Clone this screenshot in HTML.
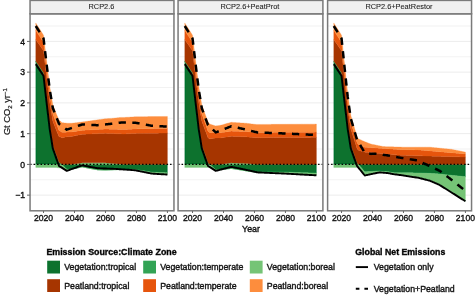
<!DOCTYPE html><html><head><meta charset="utf-8"><style>html,body{margin:0;padding:0;background:#fff;width:475px;height:297px;overflow:hidden}svg{display:block}text{font-family:"Liberation Sans",sans-serif;stroke:#111;stroke-width:0.38px}</style></head><body>
<svg width="475" height="297" viewBox="0 0 475 297">
<defs><filter id="bl" x="-5%" y="-5%" width="110%" height="110%"><feGaussianBlur stdDeviation="0.6"/></filter></defs>
<g filter="url(#bl)">
<rect width="475" height="297" fill="#fff"/>
<line x1="30.05" x2="173.96" y1="210.53" y2="210.53" stroke="#ececec" stroke-width="0.7"/>
<line x1="30.05" x2="173.96" y1="195.15" y2="195.15" stroke="#ececec" stroke-width="1.0"/>
<line x1="30.05" x2="173.96" y1="179.78" y2="179.78" stroke="#ececec" stroke-width="0.7"/>
<line x1="30.05" x2="173.96" y1="164.40" y2="164.40" stroke="#ececec" stroke-width="1.0"/>
<line x1="30.05" x2="173.96" y1="149.03" y2="149.03" stroke="#ececec" stroke-width="0.7"/>
<line x1="30.05" x2="173.96" y1="133.65" y2="133.65" stroke="#ececec" stroke-width="1.0"/>
<line x1="30.05" x2="173.96" y1="118.28" y2="118.28" stroke="#ececec" stroke-width="0.7"/>
<line x1="30.05" x2="173.96" y1="102.90" y2="102.90" stroke="#ececec" stroke-width="1.0"/>
<line x1="30.05" x2="173.96" y1="87.53" y2="87.53" stroke="#ececec" stroke-width="0.7"/>
<line x1="30.05" x2="173.96" y1="72.15" y2="72.15" stroke="#ececec" stroke-width="1.0"/>
<line x1="30.05" x2="173.96" y1="56.78" y2="56.78" stroke="#ececec" stroke-width="0.7"/>
<line x1="30.05" x2="173.96" y1="41.40" y2="41.40" stroke="#ececec" stroke-width="1.0"/>
<line x1="30.05" x2="173.96" y1="26.03" y2="26.03" stroke="#ececec" stroke-width="0.7"/>
<polygon points="35.78,61.08 36.56,62.25 37.33,63.42 38.10,64.59 38.88,65.75 39.65,66.92 40.43,68.09 41.20,69.26 41.98,70.43 42.75,71.60 43.53,72.77 44.30,79.53 45.07,86.30 45.85,93.06 46.62,99.83 47.40,106.36 48.17,112.89 48.95,119.43 49.72,125.96 50.49,130.81 51.27,135.65 52.04,140.49 52.82,145.34 53.59,147.53 54.37,149.72 55.14,151.91 55.91,154.10 56.69,156.19 57.46,158.28 58.24,160.36 59.01,162.45 59.79,162.84 60.56,163.23 61.33,163.99 62.11,164.40 62.88,164.40 63.66,164.40 64.43,164.40 65.21,164.40 65.98,164.40 66.76,164.40 67.53,164.40 68.30,164.40 69.08,164.40 69.85,164.40 70.63,164.40 71.40,164.40 72.18,164.40 72.95,164.40 73.72,164.40 74.50,164.40 75.27,164.40 76.05,164.40 76.82,164.40 77.60,164.40 78.37,164.40 79.14,164.40 79.92,164.40 80.69,164.40 81.47,164.40 82.24,164.40 83.02,164.40 83.79,164.40 84.56,164.40 85.34,164.40 86.11,164.40 86.89,164.40 87.66,164.40 88.44,164.40 89.21,164.40 89.99,164.40 90.76,164.40 91.53,164.40 92.31,164.40 93.08,164.40 93.86,164.40 94.63,164.40 95.41,164.40 96.18,164.40 96.95,164.40 97.73,164.40 98.50,164.40 99.28,164.40 100.05,164.40 100.83,164.40 101.60,164.40 102.37,164.40 103.15,164.40 103.92,164.40 104.70,164.40 105.47,164.40 106.25,164.40 107.02,164.40 107.79,164.40 108.57,164.40 109.34,164.40 110.12,164.40 110.89,164.40 111.67,164.40 112.44,164.40 113.21,164.40 113.99,164.40 114.76,164.40 115.54,164.40 116.31,164.40 117.09,164.40 117.86,164.40 118.64,164.40 119.41,164.40 120.18,164.40 120.96,164.40 121.73,164.40 122.51,164.40 123.28,164.40 124.06,164.40 124.83,164.40 125.60,164.40 126.38,164.40 127.15,164.40 127.93,164.40 128.70,164.40 129.48,164.40 130.25,164.40 131.02,164.40 131.80,164.40 132.57,164.40 133.35,164.40 134.12,164.40 134.90,164.40 135.67,164.40 136.44,164.40 137.22,164.40 137.99,164.40 138.77,164.40 139.54,164.40 140.32,164.40 141.09,164.40 141.87,164.40 142.64,164.40 143.41,164.40 144.19,164.40 144.96,164.40 145.74,164.40 146.51,164.40 147.29,164.40 148.06,164.40 148.83,164.40 149.61,164.40 150.38,164.40 151.16,164.40 151.93,164.40 152.71,164.40 153.48,164.40 154.25,164.40 155.03,164.40 155.80,164.40 156.58,164.40 157.35,164.40 158.13,164.40 158.90,164.40 159.67,164.40 160.45,164.40 161.22,164.40 162.00,164.40 162.77,164.40 163.55,164.40 164.32,164.40 165.10,164.40 165.87,164.40 166.64,164.40 167.42,164.40 167.42,164.40 166.64,164.40 165.87,164.40 165.10,164.40 164.32,164.40 163.55,164.40 162.77,164.40 162.00,164.40 161.22,164.40 160.45,164.40 159.67,164.40 158.90,164.40 158.13,164.40 157.35,164.40 156.58,164.40 155.80,164.40 155.03,164.40 154.25,164.40 153.48,164.40 152.71,164.40 151.93,164.40 151.16,164.40 150.38,164.40 149.61,164.40 148.83,164.40 148.06,164.40 147.29,164.40 146.51,164.40 145.74,164.40 144.96,164.40 144.19,164.40 143.41,164.40 142.64,164.40 141.87,164.40 141.09,164.40 140.32,164.40 139.54,164.40 138.77,164.40 137.99,164.40 137.22,164.40 136.44,164.40 135.67,164.40 134.90,164.40 134.12,164.40 133.35,164.40 132.57,164.40 131.80,164.40 131.02,164.40 130.25,164.40 129.48,164.40 128.70,164.40 127.93,164.40 127.15,164.40 126.38,164.40 125.60,164.40 124.83,164.40 124.06,164.40 123.28,164.40 122.51,164.40 121.73,164.40 120.96,164.40 120.18,164.40 119.41,164.40 118.64,164.40 117.86,164.40 117.09,164.40 116.31,164.40 115.54,164.40 114.76,164.40 113.99,164.40 113.21,164.40 112.44,164.40 111.67,164.40 110.89,164.40 110.12,164.40 109.34,164.40 108.57,164.40 107.79,164.40 107.02,164.40 106.25,164.40 105.47,164.40 104.70,164.40 103.92,164.40 103.15,164.40 102.37,164.40 101.60,164.40 100.83,164.40 100.05,164.40 99.28,164.40 98.50,164.40 97.73,164.40 96.95,164.40 96.18,164.40 95.41,164.40 94.63,164.40 93.86,164.40 93.08,164.40 92.31,164.40 91.53,164.40 90.76,164.40 89.99,164.40 89.21,164.40 88.44,164.40 87.66,164.40 86.89,164.40 86.11,164.40 85.34,164.40 84.56,164.40 83.79,164.40 83.02,164.40 82.24,164.40 81.47,164.40 80.69,164.40 79.92,164.40 79.14,164.40 78.37,164.40 77.60,164.40 76.82,164.40 76.05,164.40 75.27,164.40 74.50,164.40 73.72,164.40 72.95,164.40 72.18,164.40 71.40,164.40 70.63,164.40 69.85,164.40 69.08,164.40 68.30,164.40 67.53,164.40 66.76,164.40 65.98,164.40 65.21,164.40 64.43,164.40 63.66,164.40 62.88,164.40 62.11,164.40 61.33,164.40 60.56,164.40 59.79,164.40 59.01,164.40 58.24,164.40 57.46,164.40 56.69,164.40 55.91,164.40 55.14,164.40 54.37,164.40 53.59,164.40 52.82,164.40 52.04,164.40 51.27,164.40 50.49,164.40 49.72,164.40 48.95,164.40 48.17,164.40 47.40,164.40 46.62,164.40 45.85,164.40 45.07,164.40 44.30,164.40 43.53,164.40 42.75,164.40 41.98,164.40 41.20,164.40 40.43,164.40 39.65,164.40 38.88,164.40 38.10,164.40 37.33,164.40 36.56,164.40 35.78,164.40" fill="#07722f" stroke="#07722f" stroke-width="0.3"/>
<polygon points="35.78,164.40 36.56,164.40 37.33,164.40 38.10,164.40 38.88,164.40 39.65,164.40 40.43,164.40 41.20,164.40 41.98,164.40 42.75,164.40 43.53,164.40 44.30,164.40 45.07,164.40 45.85,164.40 46.62,164.40 47.40,164.40 48.17,164.40 48.95,164.40 49.72,164.40 50.49,164.40 51.27,164.40 52.04,164.40 52.82,164.40 53.59,164.40 54.37,164.40 55.14,164.40 55.91,164.40 56.69,164.40 57.46,164.40 58.24,164.40 59.01,164.40 59.79,164.40 60.56,164.40 61.33,164.40 62.11,164.40 62.88,164.40 63.66,164.40 64.43,164.40 65.21,164.40 65.98,164.40 66.76,164.40 67.53,164.40 68.30,164.40 69.08,164.40 69.85,164.40 70.63,164.40 71.40,164.40 72.18,164.40 72.95,164.40 73.72,164.40 74.50,164.40 75.27,164.40 76.05,164.40 76.82,164.40 77.60,164.40 78.37,164.40 79.14,164.40 79.92,164.40 80.69,164.40 81.47,164.40 82.24,164.40 83.02,164.40 83.79,164.40 84.56,164.40 85.34,164.40 86.11,164.40 86.89,164.40 87.66,164.40 88.44,164.40 89.21,164.40 89.99,164.40 90.76,164.40 91.53,164.40 92.31,164.40 93.08,164.40 93.86,164.40 94.63,164.40 95.41,164.40 96.18,164.40 96.95,164.40 97.73,164.40 98.50,164.40 99.28,164.40 100.05,164.40 100.83,164.40 101.60,164.40 102.37,164.40 103.15,164.40 103.92,164.40 104.70,164.40 105.47,164.40 106.25,164.40 107.02,164.40 107.79,164.40 108.57,164.40 109.34,164.40 110.12,164.40 110.89,164.40 111.67,164.40 112.44,164.40 113.21,164.40 113.99,164.40 114.76,164.40 115.54,164.40 116.31,164.40 117.09,164.40 117.86,164.40 118.64,164.40 119.41,164.40 120.18,164.40 120.96,164.40 121.73,164.40 122.51,164.40 123.28,164.40 124.06,164.40 124.83,164.40 125.60,164.40 126.38,164.40 127.15,164.40 127.93,164.40 128.70,164.40 129.48,164.40 130.25,164.40 131.02,164.40 131.80,164.40 132.57,164.40 133.35,164.40 134.12,164.40 134.90,164.40 135.67,164.40 136.44,164.40 137.22,164.40 137.99,164.40 138.77,164.40 139.54,164.40 140.32,164.40 141.09,164.40 141.87,164.40 142.64,164.40 143.41,164.40 144.19,164.40 144.96,164.40 145.74,164.40 146.51,164.40 147.29,164.40 148.06,164.40 148.83,164.40 149.61,164.40 150.38,164.40 151.16,164.40 151.93,164.40 152.71,164.40 153.48,164.40 154.25,164.40 155.03,164.40 155.80,164.40 156.58,164.40 157.35,164.40 158.13,164.40 158.90,164.40 159.67,164.40 160.45,164.40 161.22,164.40 162.00,164.40 162.77,164.40 163.55,164.40 164.32,164.40 165.10,164.40 165.87,164.40 166.64,164.40 167.42,164.40 167.42,172.70 166.64,172.68 165.87,172.65 165.10,172.63 164.32,172.60 163.55,172.57 162.77,172.55 162.00,172.52 161.22,172.50 160.45,172.47 159.67,172.45 158.90,172.42 158.13,172.40 157.35,172.37 156.58,172.34 155.80,172.32 155.03,172.29 154.25,172.27 153.48,172.24 152.71,172.22 151.93,172.19 151.16,172.06 150.38,171.92 149.61,171.79 148.83,171.66 148.06,171.52 147.29,171.39 146.51,171.26 145.74,171.12 144.96,170.99 144.19,170.86 143.41,170.75 142.64,170.64 141.87,170.54 141.09,170.43 140.32,170.33 139.54,170.22 138.77,170.11 137.99,170.01 137.22,169.90 136.44,169.79 135.67,169.69 134.90,169.58 134.12,169.57 133.35,169.57 132.57,169.56 131.80,169.56 131.02,169.55 130.25,169.54 129.48,169.54 128.70,169.53 127.93,169.53 127.15,169.52 126.38,169.52 125.60,169.51 124.83,169.50 124.06,169.50 123.28,169.51 122.51,169.52 121.73,169.53 120.96,169.54 120.18,169.55 119.41,169.56 118.64,169.57 117.86,169.58 117.09,169.59 116.31,169.61 115.54,169.62 114.76,169.63 113.99,169.66 113.21,169.70 112.44,169.74 111.67,169.77 110.89,169.81 110.12,169.84 109.34,169.88 108.57,169.92 107.79,169.95 107.02,169.99 106.25,170.02 105.47,170.06 104.70,170.03 103.92,170.00 103.15,169.98 102.37,169.95 101.60,169.92 100.83,169.89 100.05,169.87 99.28,169.84 98.50,169.81 97.73,169.78 96.95,169.64 96.18,169.50 95.41,169.37 94.63,169.23 93.86,169.09 93.08,168.95 92.31,168.81 91.53,168.67 90.76,168.54 89.99,168.40 89.21,168.24 88.44,168.09 87.66,167.94 86.89,167.78 86.11,167.63 85.34,167.47 84.56,167.32 83.79,167.17 83.02,167.01 82.24,166.86 81.47,167.03 80.69,167.19 79.92,167.36 79.14,167.53 78.37,167.69 77.60,167.86 76.82,168.03 76.05,168.20 75.27,168.36 74.50,168.53 73.72,168.70 72.95,168.86 72.18,169.03 71.40,169.20 70.63,169.21 69.85,169.22 69.08,169.24 68.30,169.25 67.53,169.26 66.76,169.28 65.98,168.52 65.21,167.76 64.43,167.01 63.66,166.25 62.88,165.50 62.11,164.74 61.33,164.40 60.56,164.40 59.79,164.40 59.01,164.40 58.24,164.40 57.46,164.40 56.69,164.40 55.91,164.40 55.14,164.40 54.37,164.40 53.59,164.40 52.82,164.40 52.04,164.40 51.27,164.40 50.49,164.40 49.72,164.40 48.95,164.40 48.17,164.40 47.40,164.40 46.62,164.40 45.85,164.40 45.07,164.40 44.30,164.40 43.53,164.40 42.75,164.40 41.98,164.40 41.20,164.40 40.43,164.40 39.65,164.40 38.88,164.40 38.10,164.40 37.33,164.40 36.56,164.40 35.78,164.40" fill="#07722f" stroke="#07722f" stroke-width="0.3"/>
<polygon points="35.78,61.08 36.56,62.25 37.33,63.42 38.10,64.59 38.88,65.75 39.65,66.92 40.43,68.09 41.20,69.26 41.98,70.43 42.75,71.60 43.53,72.77 44.30,79.53 45.07,86.30 45.85,93.06 46.62,99.83 47.40,106.36 48.17,112.89 48.95,119.43 49.72,125.96 50.49,130.81 51.27,135.65 52.04,140.49 52.82,145.34 53.59,147.53 54.37,149.72 55.14,151.91 55.91,154.10 56.69,156.19 57.46,158.28 58.24,160.36 59.01,162.45 59.79,162.84 60.56,163.23 61.33,163.99 62.11,164.40 62.88,164.40 63.66,164.40 64.43,164.40 65.21,164.40 65.98,164.40 66.76,164.40 67.53,164.40 68.30,164.40 69.08,164.40 69.85,164.40 70.63,164.40 71.40,164.40 72.18,164.40 72.95,164.40 73.72,164.40 74.50,164.40 75.27,164.40 76.05,164.40 76.82,164.40 77.60,164.40 78.37,164.40 79.14,164.40 79.92,164.40 80.69,164.40 81.47,164.40 82.24,164.40 83.02,164.40 83.79,164.40 84.56,164.40 85.34,164.40 86.11,164.40 86.89,164.40 87.66,164.40 88.44,164.40 89.21,164.40 89.99,164.40 90.76,164.40 91.53,164.40 92.31,164.40 93.08,164.40 93.86,164.40 94.63,164.40 95.41,164.40 96.18,164.40 96.95,164.40 97.73,164.40 98.50,164.40 99.28,164.40 100.05,164.40 100.83,164.40 101.60,164.40 102.37,164.40 103.15,164.40 103.92,164.40 104.70,164.40 105.47,164.40 106.25,164.40 107.02,164.40 107.79,164.40 108.57,164.40 109.34,164.40 110.12,164.40 110.89,164.40 111.67,164.40 112.44,164.40 113.21,164.40 113.99,164.40 114.76,164.40 115.54,164.40 116.31,164.40 117.09,164.40 117.86,164.40 118.64,164.40 119.41,164.40 120.18,164.40 120.96,164.40 121.73,164.40 122.51,164.40 123.28,164.40 124.06,164.40 124.83,164.40 125.60,164.40 126.38,164.40 127.15,164.40 127.93,164.40 128.70,164.40 129.48,164.40 130.25,164.40 131.02,164.40 131.80,164.40 132.57,164.40 133.35,164.40 134.12,164.40 134.90,164.40 135.67,164.40 136.44,164.40 137.22,164.40 137.99,164.40 138.77,164.40 139.54,164.40 140.32,164.40 141.09,164.40 141.87,164.40 142.64,164.40 143.41,164.40 144.19,164.40 144.96,164.40 145.74,164.40 146.51,164.40 147.29,164.40 148.06,164.40 148.83,164.40 149.61,164.40 150.38,164.40 151.16,164.40 151.93,164.40 152.71,164.40 153.48,164.40 154.25,164.40 155.03,164.40 155.80,164.40 156.58,164.40 157.35,164.40 158.13,164.40 158.90,164.40 159.67,164.40 160.45,164.40 161.22,164.40 162.00,164.40 162.77,164.40 163.55,164.40 164.32,164.40 165.10,164.40 165.87,164.40 166.64,164.40 167.42,164.40 167.42,164.40 166.64,164.40 165.87,164.40 165.10,164.40 164.32,164.40 163.55,164.40 162.77,164.40 162.00,164.40 161.22,164.40 160.45,164.40 159.67,164.40 158.90,164.40 158.13,164.40 157.35,164.40 156.58,164.40 155.80,164.40 155.03,164.40 154.25,164.40 153.48,164.40 152.71,164.40 151.93,164.40 151.16,164.40 150.38,164.40 149.61,164.40 148.83,164.40 148.06,164.40 147.29,164.40 146.51,164.40 145.74,164.40 144.96,164.40 144.19,164.40 143.41,164.40 142.64,164.40 141.87,164.40 141.09,164.40 140.32,164.40 139.54,164.40 138.77,164.40 137.99,164.40 137.22,164.40 136.44,164.40 135.67,164.40 134.90,164.40 134.12,164.40 133.35,164.40 132.57,164.40 131.80,164.40 131.02,164.40 130.25,164.40 129.48,164.40 128.70,164.40 127.93,164.40 127.15,164.40 126.38,164.40 125.60,164.40 124.83,164.40 124.06,164.40 123.28,164.40 122.51,164.40 121.73,164.40 120.96,164.40 120.18,164.40 119.41,164.40 118.64,164.40 117.86,164.40 117.09,164.40 116.31,164.40 115.54,164.40 114.76,164.40 113.99,164.40 113.21,164.40 112.44,164.40 111.67,164.40 110.89,164.40 110.12,164.40 109.34,164.40 108.57,164.40 107.79,164.40 107.02,164.40 106.25,164.40 105.47,164.40 104.70,164.40 103.92,164.40 103.15,164.40 102.37,164.40 101.60,164.40 100.83,164.40 100.05,164.40 99.28,164.40 98.50,164.40 97.73,164.40 96.95,164.40 96.18,164.40 95.41,164.40 94.63,164.40 93.86,164.40 93.08,164.40 92.31,164.40 91.53,164.40 90.76,164.40 89.99,164.40 89.21,164.40 88.44,164.40 87.66,164.40 86.89,164.40 86.11,164.40 85.34,164.40 84.56,164.40 83.79,164.40 83.02,164.40 82.24,164.40 81.47,164.40 80.69,164.40 79.92,164.40 79.14,164.40 78.37,164.40 77.60,164.40 76.82,164.40 76.05,164.40 75.27,164.40 74.50,164.40 73.72,164.40 72.95,164.40 72.18,164.40 71.40,164.40 70.63,164.40 69.85,164.40 69.08,164.40 68.30,164.40 67.53,164.40 66.76,164.40 65.98,164.40 65.21,164.40 64.43,164.40 63.66,164.40 62.88,164.40 62.11,164.40 61.33,163.99 60.56,163.23 59.79,162.84 59.01,162.45 58.24,160.36 57.46,158.28 56.69,156.19 55.91,154.10 55.14,151.91 54.37,149.72 53.59,147.53 52.82,145.34 52.04,140.49 51.27,135.65 50.49,130.81 49.72,125.96 48.95,119.43 48.17,112.89 47.40,106.36 46.62,99.83 45.85,93.06 45.07,86.30 44.30,79.53 43.53,72.77 42.75,71.60 41.98,70.43 41.20,69.26 40.43,68.09 39.65,66.92 38.88,65.75 38.10,64.59 37.33,63.42 36.56,62.25 35.78,61.08" fill="#31a354" stroke="#31a354" stroke-width="0.3"/>
<polygon points="35.78,164.40 36.56,164.40 37.33,164.40 38.10,164.40 38.88,164.40 39.65,164.40 40.43,164.40 41.20,164.40 41.98,164.40 42.75,164.40 43.53,164.40 44.30,164.40 45.07,164.40 45.85,164.40 46.62,164.40 47.40,164.40 48.17,164.40 48.95,164.40 49.72,164.40 50.49,164.40 51.27,164.40 52.04,164.40 52.82,164.40 53.59,164.40 54.37,164.40 55.14,164.40 55.91,164.40 56.69,164.40 57.46,164.40 58.24,164.40 59.01,164.40 59.79,164.40 60.56,164.40 61.33,164.40 62.11,164.74 62.88,165.50 63.66,166.25 64.43,167.01 65.21,167.76 65.98,168.52 66.76,169.28 67.53,169.26 68.30,169.25 69.08,169.24 69.85,169.22 70.63,169.21 71.40,169.20 72.18,169.03 72.95,168.86 73.72,168.70 74.50,168.53 75.27,168.36 76.05,168.20 76.82,168.03 77.60,167.86 78.37,167.69 79.14,167.53 79.92,167.36 80.69,167.19 81.47,167.03 82.24,166.86 83.02,167.01 83.79,167.17 84.56,167.32 85.34,167.47 86.11,167.63 86.89,167.78 87.66,167.94 88.44,168.09 89.21,168.24 89.99,168.40 90.76,168.54 91.53,168.67 92.31,168.81 93.08,168.95 93.86,169.09 94.63,169.23 95.41,169.37 96.18,169.50 96.95,169.64 97.73,169.78 98.50,169.81 99.28,169.84 100.05,169.87 100.83,169.89 101.60,169.92 102.37,169.95 103.15,169.98 103.92,170.00 104.70,170.03 105.47,170.06 106.25,170.02 107.02,169.99 107.79,169.95 108.57,169.92 109.34,169.88 110.12,169.84 110.89,169.81 111.67,169.77 112.44,169.74 113.21,169.70 113.99,169.66 114.76,169.63 115.54,169.62 116.31,169.61 117.09,169.59 117.86,169.58 118.64,169.57 119.41,169.56 120.18,169.55 120.96,169.54 121.73,169.53 122.51,169.52 123.28,169.51 124.06,169.50 124.83,169.50 125.60,169.51 126.38,169.52 127.15,169.52 127.93,169.53 128.70,169.53 129.48,169.54 130.25,169.54 131.02,169.55 131.80,169.56 132.57,169.56 133.35,169.57 134.12,169.57 134.90,169.58 135.67,169.69 136.44,169.79 137.22,169.90 137.99,170.01 138.77,170.11 139.54,170.22 140.32,170.33 141.09,170.43 141.87,170.54 142.64,170.64 143.41,170.75 144.19,170.86 144.96,170.99 145.74,171.12 146.51,171.26 147.29,171.39 148.06,171.52 148.83,171.66 149.61,171.79 150.38,171.92 151.16,172.06 151.93,172.19 152.71,172.22 153.48,172.24 154.25,172.27 155.03,172.29 155.80,172.32 156.58,172.34 157.35,172.37 158.13,172.40 158.90,172.42 159.67,172.45 160.45,172.47 161.22,172.50 162.00,172.52 162.77,172.55 163.55,172.57 164.32,172.60 165.10,172.63 165.87,172.65 166.64,172.68 167.42,172.70 167.42,172.70 166.64,172.68 165.87,172.65 165.10,172.63 164.32,172.60 163.55,172.57 162.77,172.55 162.00,172.52 161.22,172.50 160.45,172.47 159.67,172.45 158.90,172.42 158.13,172.40 157.35,172.37 156.58,172.34 155.80,172.32 155.03,172.29 154.25,172.27 153.48,172.24 152.71,172.22 151.93,172.19 151.16,172.06 150.38,171.92 149.61,171.79 148.83,171.66 148.06,171.52 147.29,171.39 146.51,171.26 145.74,171.12 144.96,170.99 144.19,170.86 143.41,170.75 142.64,170.64 141.87,170.54 141.09,170.43 140.32,170.33 139.54,170.22 138.77,170.11 137.99,170.01 137.22,169.90 136.44,169.79 135.67,169.69 134.90,169.58 134.12,169.57 133.35,169.57 132.57,169.56 131.80,169.56 131.02,169.55 130.25,169.54 129.48,169.54 128.70,169.53 127.93,169.53 127.15,169.52 126.38,169.52 125.60,169.51 124.83,169.50 124.06,169.50 123.28,169.51 122.51,169.52 121.73,169.53 120.96,169.54 120.18,169.55 119.41,169.56 118.64,169.57 117.86,169.58 117.09,169.59 116.31,169.61 115.54,169.62 114.76,169.63 113.99,169.66 113.21,169.70 112.44,169.74 111.67,169.77 110.89,169.81 110.12,169.84 109.34,169.88 108.57,169.92 107.79,169.95 107.02,169.99 106.25,170.02 105.47,170.06 104.70,170.03 103.92,170.00 103.15,169.98 102.37,169.95 101.60,169.92 100.83,169.89 100.05,169.87 99.28,169.84 98.50,169.81 97.73,169.78 96.95,169.64 96.18,169.50 95.41,169.37 94.63,169.23 93.86,169.09 93.08,168.95 92.31,168.81 91.53,168.67 90.76,168.54 89.99,168.40 89.21,168.24 88.44,168.09 87.66,167.94 86.89,167.78 86.11,167.63 85.34,167.47 84.56,167.32 83.79,167.17 83.02,167.01 82.24,166.86 81.47,167.03 80.69,167.19 79.92,167.36 79.14,167.53 78.37,167.69 77.60,167.86 76.82,168.03 76.05,168.20 75.27,168.36 74.50,168.53 73.72,168.70 72.95,168.86 72.18,169.03 71.40,169.20 70.63,169.21 69.85,169.22 69.08,169.24 68.30,169.25 67.53,169.26 66.76,169.28 65.98,168.52 65.21,167.76 64.43,167.01 63.66,166.25 62.88,165.50 62.11,164.74 61.33,164.40 60.56,164.40 59.79,164.40 59.01,164.40 58.24,164.40 57.46,164.40 56.69,164.40 55.91,164.40 55.14,164.40 54.37,164.40 53.59,164.40 52.82,164.40 52.04,164.40 51.27,164.40 50.49,164.40 49.72,164.40 48.95,164.40 48.17,164.40 47.40,164.40 46.62,164.40 45.85,164.40 45.07,164.40 44.30,164.40 43.53,164.40 42.75,164.40 41.98,164.40 41.20,164.40 40.43,164.40 39.65,164.40 38.88,164.40 38.10,164.40 37.33,164.40 36.56,164.40 35.78,164.40" fill="#31a354" stroke="#31a354" stroke-width="0.3"/>
<polygon points="35.78,61.08 36.56,62.25 37.33,63.42 38.10,64.59 38.88,65.75 39.65,66.92 40.43,68.09 41.20,69.26 41.98,70.43 42.75,71.60 43.53,72.77 44.30,79.53 45.07,86.30 45.85,93.06 46.62,99.83 47.40,106.36 48.17,112.89 48.95,119.43 49.72,125.96 50.49,130.81 51.27,135.65 52.04,140.49 52.82,145.34 53.59,147.53 54.37,149.72 55.14,151.91 55.91,154.10 56.69,156.19 57.46,158.28 58.24,160.36 59.01,162.45 59.79,162.84 60.56,163.23 61.33,163.99 62.11,164.40 62.88,164.40 63.66,164.40 64.43,164.40 65.21,164.40 65.98,164.40 66.76,164.40 67.53,164.40 68.30,164.40 69.08,164.40 69.85,164.40 70.63,164.40 71.40,164.40 72.18,164.29 72.95,164.18 73.72,164.07 74.50,163.96 75.27,163.85 76.05,163.74 76.82,163.63 77.60,163.52 78.37,163.41 79.14,163.30 79.92,163.19 80.69,163.08 81.47,162.97 82.24,162.86 83.02,162.86 83.79,162.86 84.56,162.86 85.34,162.86 86.11,162.86 86.89,162.86 87.66,162.86 88.44,162.86 89.21,162.86 89.99,162.86 90.76,162.86 91.53,162.86 92.31,162.86 93.08,162.86 93.86,162.86 94.63,162.86 95.41,162.86 96.18,162.86 96.95,162.86 97.73,162.86 98.50,162.86 99.28,162.86 100.05,162.86 100.83,162.86 101.60,162.86 102.37,162.86 103.15,162.86 103.92,162.86 104.70,162.86 105.47,162.86 106.25,162.93 107.02,162.99 107.79,163.05 108.57,163.12 109.34,163.18 110.12,163.25 110.89,163.31 111.67,163.38 112.44,163.44 113.21,163.50 113.99,163.57 114.76,163.63 115.54,163.70 116.31,163.76 117.09,163.82 117.86,163.89 118.64,163.95 119.41,164.02 120.18,164.08 120.96,164.14 121.73,164.21 122.51,164.27 123.28,164.34 124.06,164.40 124.83,164.40 125.60,164.40 126.38,164.40 127.15,164.40 127.93,164.40 128.70,164.40 129.48,164.40 130.25,164.40 131.02,164.40 131.80,164.40 132.57,164.40 133.35,164.40 134.12,164.40 134.90,164.40 135.67,164.40 136.44,164.40 137.22,164.40 137.99,164.40 138.77,164.40 139.54,164.40 140.32,164.40 141.09,164.40 141.87,164.40 142.64,164.40 143.41,164.40 144.19,164.40 144.96,164.40 145.74,164.40 146.51,164.40 147.29,164.40 148.06,164.40 148.83,164.40 149.61,164.40 150.38,164.40 151.16,164.40 151.93,164.40 152.71,164.40 153.48,164.40 154.25,164.40 155.03,164.40 155.80,164.40 156.58,164.40 157.35,164.40 158.13,164.40 158.90,164.40 159.67,164.40 160.45,164.40 161.22,164.40 162.00,164.40 162.77,164.40 163.55,164.40 164.32,164.40 165.10,164.40 165.87,164.40 166.64,164.40 167.42,164.40 167.42,164.40 166.64,164.40 165.87,164.40 165.10,164.40 164.32,164.40 163.55,164.40 162.77,164.40 162.00,164.40 161.22,164.40 160.45,164.40 159.67,164.40 158.90,164.40 158.13,164.40 157.35,164.40 156.58,164.40 155.80,164.40 155.03,164.40 154.25,164.40 153.48,164.40 152.71,164.40 151.93,164.40 151.16,164.40 150.38,164.40 149.61,164.40 148.83,164.40 148.06,164.40 147.29,164.40 146.51,164.40 145.74,164.40 144.96,164.40 144.19,164.40 143.41,164.40 142.64,164.40 141.87,164.40 141.09,164.40 140.32,164.40 139.54,164.40 138.77,164.40 137.99,164.40 137.22,164.40 136.44,164.40 135.67,164.40 134.90,164.40 134.12,164.40 133.35,164.40 132.57,164.40 131.80,164.40 131.02,164.40 130.25,164.40 129.48,164.40 128.70,164.40 127.93,164.40 127.15,164.40 126.38,164.40 125.60,164.40 124.83,164.40 124.06,164.40 123.28,164.40 122.51,164.40 121.73,164.40 120.96,164.40 120.18,164.40 119.41,164.40 118.64,164.40 117.86,164.40 117.09,164.40 116.31,164.40 115.54,164.40 114.76,164.40 113.99,164.40 113.21,164.40 112.44,164.40 111.67,164.40 110.89,164.40 110.12,164.40 109.34,164.40 108.57,164.40 107.79,164.40 107.02,164.40 106.25,164.40 105.47,164.40 104.70,164.40 103.92,164.40 103.15,164.40 102.37,164.40 101.60,164.40 100.83,164.40 100.05,164.40 99.28,164.40 98.50,164.40 97.73,164.40 96.95,164.40 96.18,164.40 95.41,164.40 94.63,164.40 93.86,164.40 93.08,164.40 92.31,164.40 91.53,164.40 90.76,164.40 89.99,164.40 89.21,164.40 88.44,164.40 87.66,164.40 86.89,164.40 86.11,164.40 85.34,164.40 84.56,164.40 83.79,164.40 83.02,164.40 82.24,164.40 81.47,164.40 80.69,164.40 79.92,164.40 79.14,164.40 78.37,164.40 77.60,164.40 76.82,164.40 76.05,164.40 75.27,164.40 74.50,164.40 73.72,164.40 72.95,164.40 72.18,164.40 71.40,164.40 70.63,164.40 69.85,164.40 69.08,164.40 68.30,164.40 67.53,164.40 66.76,164.40 65.98,164.40 65.21,164.40 64.43,164.40 63.66,164.40 62.88,164.40 62.11,164.40 61.33,163.99 60.56,163.23 59.79,162.84 59.01,162.45 58.24,160.36 57.46,158.28 56.69,156.19 55.91,154.10 55.14,151.91 54.37,149.72 53.59,147.53 52.82,145.34 52.04,140.49 51.27,135.65 50.49,130.81 49.72,125.96 48.95,119.43 48.17,112.89 47.40,106.36 46.62,99.83 45.85,93.06 45.07,86.30 44.30,79.53 43.53,72.77 42.75,71.60 41.98,70.43 41.20,69.26 40.43,68.09 39.65,66.92 38.88,65.75 38.10,64.59 37.33,63.42 36.56,62.25 35.78,61.08" fill="#74c476" stroke="#74c476" stroke-width="0.3"/>
<polygon points="35.78,164.40 36.56,164.40 37.33,164.40 38.10,164.40 38.88,164.40 39.65,164.40 40.43,164.40 41.20,164.40 41.98,164.40 42.75,164.40 43.53,164.40 44.30,164.40 45.07,164.40 45.85,164.40 46.62,164.40 47.40,164.40 48.17,164.40 48.95,164.40 49.72,164.40 50.49,164.40 51.27,164.40 52.04,164.40 52.82,164.40 53.59,164.40 54.37,164.40 55.14,164.40 55.91,164.40 56.69,164.40 57.46,164.40 58.24,164.40 59.01,164.40 59.79,164.40 60.56,164.40 61.33,164.40 62.11,164.74 62.88,165.50 63.66,166.25 64.43,167.01 65.21,167.76 65.98,168.52 66.76,169.28 67.53,169.26 68.30,169.25 69.08,169.24 69.85,169.22 70.63,169.21 71.40,169.20 72.18,169.03 72.95,168.86 73.72,168.70 74.50,168.53 75.27,168.36 76.05,168.20 76.82,168.03 77.60,167.86 78.37,167.69 79.14,167.53 79.92,167.36 80.69,167.19 81.47,167.03 82.24,166.86 83.02,167.01 83.79,167.17 84.56,167.32 85.34,167.47 86.11,167.63 86.89,167.78 87.66,167.94 88.44,168.09 89.21,168.24 89.99,168.40 90.76,168.54 91.53,168.67 92.31,168.81 93.08,168.95 93.86,169.09 94.63,169.23 95.41,169.37 96.18,169.50 96.95,169.64 97.73,169.78 98.50,169.81 99.28,169.84 100.05,169.87 100.83,169.89 101.60,169.92 102.37,169.95 103.15,169.98 103.92,170.00 104.70,170.03 105.47,170.06 106.25,170.02 107.02,169.99 107.79,169.95 108.57,169.92 109.34,169.88 110.12,169.84 110.89,169.81 111.67,169.77 112.44,169.74 113.21,169.70 113.99,169.66 114.76,169.63 115.54,169.62 116.31,169.61 117.09,169.59 117.86,169.58 118.64,169.57 119.41,169.56 120.18,169.55 120.96,169.54 121.73,169.53 122.51,169.52 123.28,169.51 124.06,169.50 124.83,169.50 125.60,169.51 126.38,169.52 127.15,169.52 127.93,169.53 128.70,169.53 129.48,169.54 130.25,169.54 131.02,169.55 131.80,169.56 132.57,169.56 133.35,169.57 134.12,169.57 134.90,169.58 135.67,169.69 136.44,169.79 137.22,169.90 137.99,170.01 138.77,170.11 139.54,170.22 140.32,170.33 141.09,170.43 141.87,170.54 142.64,170.64 143.41,170.75 144.19,170.86 144.96,170.99 145.74,171.12 146.51,171.26 147.29,171.39 148.06,171.52 148.83,171.66 149.61,171.79 150.38,171.92 151.16,172.06 151.93,172.19 152.71,172.22 153.48,172.24 154.25,172.27 155.03,172.29 155.80,172.32 156.58,172.34 157.35,172.37 158.13,172.40 158.90,172.42 159.67,172.45 160.45,172.47 161.22,172.50 162.00,172.52 162.77,172.55 163.55,172.57 164.32,172.60 165.10,172.63 165.87,172.65 166.64,172.68 167.42,172.70 167.42,174.55 166.64,174.50 165.87,174.46 165.10,174.41 164.32,174.36 163.55,174.32 162.77,174.27 162.00,174.22 161.22,174.18 160.45,174.13 159.67,174.09 158.90,174.04 158.13,173.99 157.35,173.95 156.58,173.90 155.80,173.86 155.03,173.81 154.25,173.76 153.48,173.72 152.71,173.67 151.93,173.62 151.16,173.47 150.38,173.32 149.61,173.16 148.83,173.01 148.06,172.86 147.29,172.70 146.51,172.55 145.74,172.40 144.96,172.24 144.19,172.09 143.41,171.93 142.64,171.78 141.87,171.63 141.09,171.47 140.32,171.32 139.54,171.16 138.77,171.01 137.99,170.86 137.22,170.70 136.44,170.55 135.67,170.40 134.90,170.24 134.12,170.19 133.35,170.14 132.57,170.08 131.80,170.03 131.02,169.98 130.25,169.92 129.48,169.87 128.70,169.82 127.93,169.76 127.15,169.71 126.38,169.66 125.60,169.60 124.83,169.55 124.06,169.50 123.28,169.51 122.51,169.52 121.73,169.53 120.96,169.54 120.18,169.55 119.41,169.56 118.64,169.57 117.86,169.58 117.09,169.59 116.31,169.61 115.54,169.62 114.76,169.63 113.99,169.66 113.21,169.70 112.44,169.74 111.67,169.77 110.89,169.81 110.12,169.84 109.34,169.88 108.57,169.92 107.79,169.95 107.02,169.99 106.25,170.02 105.47,170.06 104.70,170.03 103.92,170.00 103.15,169.98 102.37,169.95 101.60,169.92 100.83,169.89 100.05,169.87 99.28,169.84 98.50,169.81 97.73,169.78 96.95,169.64 96.18,169.50 95.41,169.37 94.63,169.23 93.86,169.09 93.08,168.95 92.31,168.81 91.53,168.67 90.76,168.54 89.99,168.40 89.21,168.24 88.44,168.09 87.66,167.94 86.89,167.78 86.11,167.63 85.34,167.47 84.56,167.32 83.79,167.17 83.02,167.01 82.24,166.86 81.47,167.03 80.69,167.19 79.92,167.36 79.14,167.53 78.37,167.69 77.60,167.86 76.82,168.03 76.05,168.20 75.27,168.36 74.50,168.53 73.72,168.70 72.95,168.86 72.18,169.03 71.40,169.20 70.63,169.47 69.85,169.75 69.08,170.03 68.30,170.30 67.53,170.58 66.76,170.86 65.98,170.37 65.21,169.87 64.43,169.38 63.66,168.89 62.88,168.40 62.11,167.91 61.33,167.83 60.56,168.09 59.79,167.99 59.01,167.89 58.24,167.78 57.46,167.68 56.69,167.58 55.91,167.47 55.14,167.47 54.37,167.47 53.59,167.47 52.82,167.47 52.04,167.47 51.27,167.47 50.49,167.47 49.72,167.47 48.95,167.47 48.17,167.47 47.40,167.47 46.62,167.47 45.85,167.47 45.07,167.47 44.30,167.47 43.53,167.47 42.75,167.47 41.98,167.47 41.20,167.47 40.43,167.47 39.65,167.47 38.88,167.47 38.10,167.47 37.33,167.47 36.56,167.47 35.78,167.47" fill="#74c476" stroke="#74c476" stroke-width="0.3"/>
<polygon points="35.78,39.56 36.56,40.66 37.33,41.77 38.10,42.88 38.88,43.98 39.65,45.09 40.43,46.20 41.20,47.30 41.98,48.41 42.75,49.52 43.53,50.62 44.30,57.21 45.07,63.79 45.85,70.37 46.62,76.95 47.40,83.30 48.17,89.65 48.95,96.00 49.72,102.35 50.49,107.01 51.27,111.66 52.04,116.32 52.82,120.98 53.59,122.99 54.37,124.99 55.14,127.00 55.91,129.01 56.69,130.91 57.46,132.81 58.24,134.72 59.01,136.62 59.79,136.83 60.56,137.03 61.33,137.60 62.11,137.83 62.88,137.65 63.66,137.46 64.43,137.28 65.21,137.09 65.98,136.91 66.76,136.72 67.53,136.68 68.30,136.63 69.08,136.59 69.85,136.54 70.63,136.49 71.40,136.45 72.18,136.29 72.95,136.14 73.72,135.98 74.50,135.82 75.27,135.67 76.05,135.51 76.82,135.36 77.60,135.20 78.37,135.04 79.14,134.89 79.92,134.73 80.69,134.58 81.47,134.42 82.24,134.27 83.02,134.23 83.79,134.20 84.56,134.17 85.34,134.14 86.11,134.11 86.89,134.08 87.66,134.05 88.44,134.02 89.21,133.99 89.99,133.96 90.76,133.93 91.53,133.90 92.31,133.87 93.08,133.83 93.86,133.80 94.63,133.77 95.41,133.74 96.18,133.71 96.95,133.68 97.73,133.65 98.50,133.62 99.28,133.59 100.05,133.56 100.83,133.53 101.60,133.50 102.37,133.47 103.15,133.43 103.92,133.40 104.70,133.37 105.47,133.34 106.25,133.37 107.02,133.39 107.79,133.42 108.57,133.44 109.34,133.47 110.12,133.50 110.89,133.52 111.67,133.55 112.44,133.57 113.21,133.60 113.99,133.62 114.76,133.65 115.54,133.68 116.31,133.70 117.09,133.73 117.86,133.75 118.64,133.78 119.41,133.80 120.18,133.83 120.96,133.86 121.73,133.88 122.51,133.91 123.28,133.93 124.06,133.96 124.83,133.92 125.60,133.88 126.38,133.84 127.15,133.80 127.93,133.77 128.70,133.73 129.48,133.69 130.25,133.65 131.02,133.61 131.80,133.57 132.57,133.53 133.35,133.50 134.12,133.46 134.90,133.42 135.67,133.38 136.44,133.34 137.22,133.33 137.99,133.33 138.77,133.32 139.54,133.31 140.32,133.30 141.09,133.30 141.87,133.29 142.64,133.28 143.41,133.27 144.19,133.27 144.96,133.26 145.74,133.25 146.51,133.24 147.29,133.23 148.06,133.23 148.83,133.22 149.61,133.21 150.38,133.20 151.16,133.20 151.93,133.19 152.71,133.18 153.48,133.17 154.25,133.17 155.03,133.16 155.80,133.15 156.58,133.14 157.35,133.13 158.13,133.13 158.90,133.12 159.67,133.11 160.45,133.10 161.22,133.10 162.00,133.09 162.77,133.08 163.55,133.07 164.32,133.07 165.10,133.06 165.87,133.05 166.64,133.04 167.42,133.03 167.42,164.40 166.64,164.40 165.87,164.40 165.10,164.40 164.32,164.40 163.55,164.40 162.77,164.40 162.00,164.40 161.22,164.40 160.45,164.40 159.67,164.40 158.90,164.40 158.13,164.40 157.35,164.40 156.58,164.40 155.80,164.40 155.03,164.40 154.25,164.40 153.48,164.40 152.71,164.40 151.93,164.40 151.16,164.40 150.38,164.40 149.61,164.40 148.83,164.40 148.06,164.40 147.29,164.40 146.51,164.40 145.74,164.40 144.96,164.40 144.19,164.40 143.41,164.40 142.64,164.40 141.87,164.40 141.09,164.40 140.32,164.40 139.54,164.40 138.77,164.40 137.99,164.40 137.22,164.40 136.44,164.40 135.67,164.40 134.90,164.40 134.12,164.40 133.35,164.40 132.57,164.40 131.80,164.40 131.02,164.40 130.25,164.40 129.48,164.40 128.70,164.40 127.93,164.40 127.15,164.40 126.38,164.40 125.60,164.40 124.83,164.40 124.06,164.40 123.28,164.34 122.51,164.27 121.73,164.21 120.96,164.14 120.18,164.08 119.41,164.02 118.64,163.95 117.86,163.89 117.09,163.82 116.31,163.76 115.54,163.70 114.76,163.63 113.99,163.57 113.21,163.50 112.44,163.44 111.67,163.38 110.89,163.31 110.12,163.25 109.34,163.18 108.57,163.12 107.79,163.05 107.02,162.99 106.25,162.93 105.47,162.86 104.70,162.86 103.92,162.86 103.15,162.86 102.37,162.86 101.60,162.86 100.83,162.86 100.05,162.86 99.28,162.86 98.50,162.86 97.73,162.86 96.95,162.86 96.18,162.86 95.41,162.86 94.63,162.86 93.86,162.86 93.08,162.86 92.31,162.86 91.53,162.86 90.76,162.86 89.99,162.86 89.21,162.86 88.44,162.86 87.66,162.86 86.89,162.86 86.11,162.86 85.34,162.86 84.56,162.86 83.79,162.86 83.02,162.86 82.24,162.86 81.47,162.97 80.69,163.08 79.92,163.19 79.14,163.30 78.37,163.41 77.60,163.52 76.82,163.63 76.05,163.74 75.27,163.85 74.50,163.96 73.72,164.07 72.95,164.18 72.18,164.29 71.40,164.40 70.63,164.40 69.85,164.40 69.08,164.40 68.30,164.40 67.53,164.40 66.76,164.40 65.98,164.40 65.21,164.40 64.43,164.40 63.66,164.40 62.88,164.40 62.11,164.40 61.33,163.99 60.56,163.23 59.79,162.84 59.01,162.45 58.24,160.36 57.46,158.28 56.69,156.19 55.91,154.10 55.14,151.91 54.37,149.72 53.59,147.53 52.82,145.34 52.04,140.49 51.27,135.65 50.49,130.81 49.72,125.96 48.95,119.43 48.17,112.89 47.40,106.36 46.62,99.83 45.85,93.06 45.07,86.30 44.30,79.53 43.53,72.77 42.75,71.60 41.98,70.43 41.20,69.26 40.43,68.09 39.65,66.92 38.88,65.75 38.10,64.59 37.33,63.42 36.56,62.25 35.78,61.08" fill="#a63603" stroke="#a63603" stroke-width="0.3"/>
<polygon points="35.78,30.33 36.56,31.53 37.33,32.73 38.10,33.93 38.88,35.13 39.65,36.33 40.43,37.53 41.20,38.72 41.98,39.92 42.75,41.12 43.53,42.32 44.30,48.96 45.07,55.61 45.85,62.25 46.62,68.89 47.40,75.30 48.17,81.71 48.95,88.12 49.72,94.54 50.49,99.26 51.27,103.98 52.04,108.79 52.82,113.60 53.59,115.76 54.37,117.92 55.14,120.08 55.91,122.24 56.69,124.30 57.46,126.36 58.24,128.41 59.01,130.47 59.79,130.83 60.56,131.19 61.33,131.91 62.11,132.30 62.88,132.27 63.66,132.24 64.43,132.20 65.21,132.17 65.98,132.14 66.76,132.11 67.53,132.10 68.30,132.08 69.08,132.07 69.85,132.05 70.63,132.04 71.40,132.02 72.18,131.90 72.95,131.77 73.72,131.64 74.50,131.52 75.27,131.39 76.05,131.27 76.82,131.14 77.60,131.02 78.37,130.89 79.14,130.77 79.92,130.64 80.69,130.52 81.47,130.39 82.24,130.27 83.02,130.23 83.79,130.19 84.56,130.14 85.34,130.10 86.11,130.06 86.89,130.02 87.66,129.98 88.44,129.94 89.21,129.90 89.99,129.86 90.76,129.82 91.53,129.78 92.31,129.73 93.08,129.69 93.86,129.65 94.63,129.61 95.41,129.57 96.18,129.53 96.95,129.49 97.73,129.45 98.50,129.41 99.28,129.37 100.05,129.32 100.83,129.28 101.60,129.24 102.37,129.20 103.15,129.16 103.92,129.12 104.70,129.08 105.47,129.04 106.25,129.06 107.02,129.08 107.79,129.10 108.57,129.12 109.34,129.15 110.12,129.17 110.89,129.19 111.67,129.21 112.44,129.23 113.21,129.26 113.99,129.28 114.76,129.30 115.54,129.32 116.31,129.34 117.09,129.36 117.86,129.39 118.64,129.41 119.41,129.43 120.18,129.45 120.96,129.47 121.73,129.49 122.51,129.52 123.28,129.54 124.06,129.56 124.83,129.52 125.60,129.48 126.38,129.43 127.15,129.39 127.93,129.35 128.70,129.31 129.48,129.26 130.25,129.22 131.02,129.18 131.80,129.14 132.57,129.10 133.35,129.05 134.12,129.01 134.90,128.97 135.67,128.93 136.44,128.88 137.22,128.87 137.99,128.86 138.77,128.85 139.54,128.84 140.32,128.83 141.09,128.81 141.87,128.80 142.64,128.79 143.41,128.78 144.19,128.77 144.96,128.76 145.74,128.75 146.51,128.73 147.29,128.72 148.06,128.71 148.83,128.70 149.61,128.69 150.38,128.68 151.16,128.66 151.93,128.65 152.71,128.64 153.48,128.63 154.25,128.62 155.03,128.61 155.80,128.60 156.58,128.58 157.35,128.57 158.13,128.56 158.90,128.55 159.67,128.54 160.45,128.53 161.22,128.51 162.00,128.50 162.77,128.49 163.55,128.48 164.32,128.47 165.10,128.46 165.87,128.45 166.64,128.43 167.42,128.42 167.42,133.03 166.64,133.04 165.87,133.05 165.10,133.06 164.32,133.07 163.55,133.07 162.77,133.08 162.00,133.09 161.22,133.10 160.45,133.10 159.67,133.11 158.90,133.12 158.13,133.13 157.35,133.13 156.58,133.14 155.80,133.15 155.03,133.16 154.25,133.17 153.48,133.17 152.71,133.18 151.93,133.19 151.16,133.20 150.38,133.20 149.61,133.21 148.83,133.22 148.06,133.23 147.29,133.23 146.51,133.24 145.74,133.25 144.96,133.26 144.19,133.27 143.41,133.27 142.64,133.28 141.87,133.29 141.09,133.30 140.32,133.30 139.54,133.31 138.77,133.32 137.99,133.33 137.22,133.33 136.44,133.34 135.67,133.38 134.90,133.42 134.12,133.46 133.35,133.50 132.57,133.53 131.80,133.57 131.02,133.61 130.25,133.65 129.48,133.69 128.70,133.73 127.93,133.77 127.15,133.80 126.38,133.84 125.60,133.88 124.83,133.92 124.06,133.96 123.28,133.93 122.51,133.91 121.73,133.88 120.96,133.86 120.18,133.83 119.41,133.80 118.64,133.78 117.86,133.75 117.09,133.73 116.31,133.70 115.54,133.68 114.76,133.65 113.99,133.62 113.21,133.60 112.44,133.57 111.67,133.55 110.89,133.52 110.12,133.50 109.34,133.47 108.57,133.44 107.79,133.42 107.02,133.39 106.25,133.37 105.47,133.34 104.70,133.37 103.92,133.40 103.15,133.43 102.37,133.47 101.60,133.50 100.83,133.53 100.05,133.56 99.28,133.59 98.50,133.62 97.73,133.65 96.95,133.68 96.18,133.71 95.41,133.74 94.63,133.77 93.86,133.80 93.08,133.83 92.31,133.87 91.53,133.90 90.76,133.93 89.99,133.96 89.21,133.99 88.44,134.02 87.66,134.05 86.89,134.08 86.11,134.11 85.34,134.14 84.56,134.17 83.79,134.20 83.02,134.23 82.24,134.27 81.47,134.42 80.69,134.58 79.92,134.73 79.14,134.89 78.37,135.04 77.60,135.20 76.82,135.36 76.05,135.51 75.27,135.67 74.50,135.82 73.72,135.98 72.95,136.14 72.18,136.29 71.40,136.45 70.63,136.49 69.85,136.54 69.08,136.59 68.30,136.63 67.53,136.68 66.76,136.72 65.98,136.91 65.21,137.09 64.43,137.28 63.66,137.46 62.88,137.65 62.11,137.83 61.33,137.60 60.56,137.03 59.79,136.83 59.01,136.62 58.24,134.72 57.46,132.81 56.69,130.91 55.91,129.01 55.14,127.00 54.37,124.99 53.59,122.99 52.82,120.98 52.04,116.32 51.27,111.66 50.49,107.01 49.72,102.35 48.95,96.00 48.17,89.65 47.40,83.30 46.62,76.95 45.85,70.37 45.07,63.79 44.30,57.21 43.53,50.62 42.75,49.52 41.98,48.41 41.20,47.30 40.43,46.20 39.65,45.09 38.88,43.98 38.10,42.88 37.33,41.77 36.56,40.66 35.78,39.56" fill="#e6550d" stroke="#e6550d" stroke-width="0.3"/>
<polygon points="35.78,22.95 36.56,24.18 37.33,25.41 38.10,26.64 38.88,27.87 39.65,29.10 40.43,30.33 41.20,31.56 41.98,32.79 42.75,34.02 43.53,35.25 44.30,41.77 45.07,48.29 45.85,54.81 46.62,61.33 47.40,67.61 48.17,73.90 48.95,80.19 49.72,86.48 50.49,91.08 51.27,95.67 52.04,100.30 52.82,104.93 53.59,106.91 54.37,108.88 55.14,110.86 55.91,112.83 56.69,114.71 57.46,116.58 58.24,118.45 59.01,120.32 59.79,120.81 60.56,121.29 61.33,122.14 62.11,122.64 62.88,122.73 63.66,122.83 64.43,122.92 65.21,123.01 65.98,123.10 66.76,123.19 67.53,123.21 68.30,123.23 69.08,123.24 69.85,123.26 70.63,123.27 71.40,123.29 72.18,123.19 72.95,123.10 73.72,123.00 74.50,122.91 75.27,122.82 76.05,122.72 76.82,122.63 77.60,122.53 78.37,122.44 79.14,122.34 79.92,122.25 80.69,122.15 81.47,122.06 82.24,121.97 83.02,121.86 83.79,121.75 84.56,121.64 85.34,121.53 86.11,121.43 86.89,121.32 87.66,121.21 88.44,121.10 89.21,121.00 89.99,120.89 90.76,120.78 91.53,120.67 92.31,120.57 93.08,120.46 93.86,120.35 94.63,120.24 95.41,120.14 96.18,120.03 96.95,119.92 97.73,119.81 98.50,119.70 99.28,119.60 100.05,119.49 100.83,119.38 101.60,119.27 102.37,119.17 103.15,119.06 103.92,118.95 104.70,118.84 105.47,118.74 106.25,118.69 107.02,118.65 107.79,118.61 108.57,118.56 109.34,118.52 110.12,118.47 110.89,118.43 111.67,118.39 112.44,118.34 113.21,118.30 113.99,118.21 114.76,118.12 115.54,118.03 116.31,117.94 117.09,117.85 117.86,117.76 118.64,117.67 119.41,117.58 120.18,117.49 120.96,117.40 121.73,117.42 122.51,117.43 123.28,117.44 124.06,117.46 124.83,117.40 125.60,117.35 126.38,117.31 127.15,117.26 127.93,117.22 128.70,117.18 129.48,117.13 130.25,117.09 131.02,117.05 131.80,117.00 132.57,116.96 133.35,116.91 134.12,116.87 134.90,116.83 135.67,116.78 136.44,116.74 137.22,116.73 137.99,116.72 138.77,116.71 139.54,116.71 140.32,116.70 141.09,116.69 141.87,116.68 142.64,116.68 143.41,116.67 144.19,116.66 144.96,116.65 145.74,116.65 146.51,116.64 147.29,116.63 148.06,116.62 148.83,116.61 149.61,116.61 150.38,116.60 151.16,116.59 151.93,116.58 152.71,116.58 153.48,116.57 154.25,116.56 155.03,116.55 155.80,116.55 156.58,116.54 157.35,116.53 158.13,116.52 158.90,116.51 159.67,116.51 160.45,116.50 161.22,116.49 162.00,116.48 162.77,116.48 163.55,116.47 164.32,116.46 165.10,116.45 165.87,116.45 166.64,116.44 167.42,116.43 167.42,128.42 166.64,128.43 165.87,128.45 165.10,128.46 164.32,128.47 163.55,128.48 162.77,128.49 162.00,128.50 161.22,128.51 160.45,128.53 159.67,128.54 158.90,128.55 158.13,128.56 157.35,128.57 156.58,128.58 155.80,128.60 155.03,128.61 154.25,128.62 153.48,128.63 152.71,128.64 151.93,128.65 151.16,128.66 150.38,128.68 149.61,128.69 148.83,128.70 148.06,128.71 147.29,128.72 146.51,128.73 145.74,128.75 144.96,128.76 144.19,128.77 143.41,128.78 142.64,128.79 141.87,128.80 141.09,128.81 140.32,128.83 139.54,128.84 138.77,128.85 137.99,128.86 137.22,128.87 136.44,128.88 135.67,128.93 134.90,128.97 134.12,129.01 133.35,129.05 132.57,129.10 131.80,129.14 131.02,129.18 130.25,129.22 129.48,129.26 128.70,129.31 127.93,129.35 127.15,129.39 126.38,129.43 125.60,129.48 124.83,129.52 124.06,129.56 123.28,129.54 122.51,129.52 121.73,129.49 120.96,129.47 120.18,129.45 119.41,129.43 118.64,129.41 117.86,129.39 117.09,129.36 116.31,129.34 115.54,129.32 114.76,129.30 113.99,129.28 113.21,129.26 112.44,129.23 111.67,129.21 110.89,129.19 110.12,129.17 109.34,129.15 108.57,129.12 107.79,129.10 107.02,129.08 106.25,129.06 105.47,129.04 104.70,129.08 103.92,129.12 103.15,129.16 102.37,129.20 101.60,129.24 100.83,129.28 100.05,129.32 99.28,129.37 98.50,129.41 97.73,129.45 96.95,129.49 96.18,129.53 95.41,129.57 94.63,129.61 93.86,129.65 93.08,129.69 92.31,129.73 91.53,129.78 90.76,129.82 89.99,129.86 89.21,129.90 88.44,129.94 87.66,129.98 86.89,130.02 86.11,130.06 85.34,130.10 84.56,130.14 83.79,130.19 83.02,130.23 82.24,130.27 81.47,130.39 80.69,130.52 79.92,130.64 79.14,130.77 78.37,130.89 77.60,131.02 76.82,131.14 76.05,131.27 75.27,131.39 74.50,131.52 73.72,131.64 72.95,131.77 72.18,131.90 71.40,132.02 70.63,132.04 69.85,132.05 69.08,132.07 68.30,132.08 67.53,132.10 66.76,132.11 65.98,132.14 65.21,132.17 64.43,132.20 63.66,132.24 62.88,132.27 62.11,132.30 61.33,131.91 60.56,131.19 59.79,130.83 59.01,130.47 58.24,128.41 57.46,126.36 56.69,124.30 55.91,122.24 55.14,120.08 54.37,117.92 53.59,115.76 52.82,113.60 52.04,108.79 51.27,103.98 50.49,99.26 49.72,94.54 48.95,88.12 48.17,81.71 47.40,75.30 46.62,68.89 45.85,62.25 45.07,55.61 44.30,48.96 43.53,42.32 42.75,41.12 41.98,39.92 41.20,38.72 40.43,37.53 39.65,36.33 38.88,35.13 38.10,33.93 37.33,32.73 36.56,31.53 35.78,30.33" fill="#fd8d3c" stroke="#fd8d3c" stroke-width="0.3"/>
<line x1="30.05" x2="173.96" y1="164.40" y2="164.40" stroke="#000" stroke-width="1.3" stroke-dasharray="1.5 2.0"/>
<polyline points="35.78,64.16 36.56,65.32 37.33,66.49 38.10,67.66 38.88,68.83 39.65,70.00 40.43,71.17 41.20,72.33 41.98,73.50 42.75,74.67 43.53,75.84 44.30,82.61 45.07,89.37 45.85,96.14 46.62,102.90 47.40,109.43 48.17,115.97 48.95,122.50 49.72,129.04 50.49,133.88 51.27,138.72 52.04,143.57 52.82,148.41 53.59,150.60 54.37,152.79 55.14,154.98 55.91,157.17 56.69,159.36 57.46,161.56 58.24,163.75 59.01,165.94 59.79,166.43 60.56,166.92 61.33,167.41 62.11,167.91 62.88,168.40 63.66,168.89 64.43,169.38 65.21,169.87 65.98,170.37 66.76,170.86 67.53,170.58 68.30,170.30 69.08,170.03 69.85,169.75 70.63,169.47 71.40,169.20 72.18,168.92 72.95,168.64 73.72,168.37 74.50,168.09 75.27,167.81 76.05,167.54 76.82,167.26 77.60,166.98 78.37,166.71 79.14,166.43 79.92,166.15 80.69,165.88 81.47,165.60 82.24,165.32 83.02,165.48 83.79,165.63 84.56,165.78 85.34,165.94 86.11,166.09 86.89,166.25 87.66,166.40 88.44,166.55 89.21,166.71 89.99,166.86 90.76,167.00 91.53,167.14 92.31,167.28 93.08,167.41 93.86,167.55 94.63,167.69 95.41,167.83 96.18,167.97 96.95,168.11 97.73,168.24 98.50,168.27 99.28,168.30 100.05,168.33 100.83,168.36 101.60,168.38 102.37,168.41 103.15,168.44 103.92,168.47 104.70,168.50 105.47,168.52 106.25,168.55 107.02,168.58 107.79,168.61 108.57,168.64 109.34,168.66 110.12,168.69 110.89,168.72 111.67,168.75 112.44,168.77 113.21,168.80 113.99,168.83 114.76,168.86 115.54,168.91 116.31,168.97 117.09,169.02 117.86,169.07 118.64,169.12 119.41,169.18 120.18,169.23 120.96,169.28 121.73,169.34 122.51,169.39 123.28,169.44 124.06,169.50 124.83,169.55 125.60,169.60 126.38,169.66 127.15,169.71 127.93,169.76 128.70,169.82 129.48,169.87 130.25,169.92 131.02,169.98 131.80,170.03 132.57,170.08 133.35,170.14 134.12,170.19 134.90,170.24 135.67,170.40 136.44,170.55 137.22,170.70 137.99,170.86 138.77,171.01 139.54,171.16 140.32,171.32 141.09,171.47 141.87,171.63 142.64,171.78 143.41,171.93 144.19,172.09 144.96,172.24 145.74,172.40 146.51,172.55 147.29,172.70 148.06,172.86 148.83,173.01 149.61,173.16 150.38,173.32 151.16,173.47 151.93,173.62 152.71,173.67 153.48,173.72 154.25,173.76 155.03,173.81 155.80,173.86 156.58,173.90 157.35,173.95 158.13,173.99 158.90,174.04 159.67,174.09 160.45,174.13 161.22,174.18 162.00,174.22 162.77,174.27 163.55,174.32 164.32,174.36 165.10,174.41 165.87,174.46 166.64,174.50 167.42,174.55" fill="none" stroke="#000" stroke-width="1.9" stroke-linejoin="round"/>
<polyline points="35.78,26.03 36.56,27.25 37.33,28.49 38.10,29.72 38.88,30.95 39.65,32.18 40.43,33.41 41.20,34.64 41.98,35.87 42.75,37.10 43.53,38.33 44.30,44.84 45.07,51.36 45.85,57.88 46.62,64.40 47.40,70.69 48.17,76.98 48.95,83.27 49.72,89.55 50.49,94.15 51.27,98.75 52.04,103.38 52.82,108.00 53.59,109.98 54.37,111.96 55.14,113.93 55.91,115.91 56.69,117.88 57.46,119.86 58.24,121.83 59.01,123.81 59.79,124.39 60.56,124.98 61.33,125.56 62.11,126.15 62.88,126.73 63.66,127.32 64.43,127.90 65.21,128.48 65.98,129.07 66.76,129.65 67.53,129.39 68.30,129.13 69.08,128.87 69.85,128.61 70.63,128.35 71.40,128.08 72.18,127.82 72.95,127.56 73.72,127.30 74.50,127.04 75.27,126.78 76.05,126.52 76.82,126.25 77.60,125.99 78.37,125.73 79.14,125.47 79.92,125.21 80.69,124.95 81.47,124.69 82.24,124.43 83.02,124.47 83.79,124.52 84.56,124.56 85.34,124.61 86.11,124.66 86.89,124.70 87.66,124.75 88.44,124.79 89.21,124.84 89.99,124.89 90.76,124.92 91.53,124.95 92.31,124.98 93.08,125.01 93.86,125.04 94.63,125.07 95.41,125.10 96.18,125.13 96.95,125.16 97.73,125.19 98.50,125.11 99.28,125.03 100.05,124.95 100.83,124.88 101.60,124.80 102.37,124.72 103.15,124.64 103.92,124.56 104.70,124.48 105.47,124.40 106.25,124.32 107.02,124.24 107.79,124.16 108.57,124.08 109.34,124.00 110.12,123.92 110.89,123.84 111.67,123.76 112.44,123.68 113.21,123.60 113.99,123.47 114.76,123.35 115.54,123.25 116.31,123.15 117.09,123.05 117.86,122.95 118.64,122.85 119.41,122.75 120.18,122.65 120.96,122.54 121.73,122.55 122.51,122.55 123.28,122.55 124.06,122.55 124.83,122.55 125.60,122.56 126.38,122.57 127.15,122.57 127.93,122.58 128.70,122.59 129.48,122.60 130.25,122.61 131.02,122.62 131.80,122.63 132.57,122.64 133.35,122.65 134.12,122.66 134.90,122.67 135.67,122.78 136.44,122.89 137.22,123.03 137.99,123.18 138.77,123.33 139.54,123.47 140.32,123.62 141.09,123.76 141.87,123.91 142.64,124.06 143.41,124.20 144.19,124.35 144.96,124.49 145.74,124.64 146.51,124.79 147.29,124.93 148.06,125.08 148.83,125.22 149.61,125.37 150.38,125.52 151.16,125.66 151.93,125.81 152.71,125.85 153.48,125.89 154.25,125.92 155.03,125.96 155.80,126.00 156.58,126.04 157.35,126.08 158.13,126.12 158.90,126.15 159.67,126.19 160.45,126.23 161.22,126.27 162.00,126.31 162.77,126.35 163.55,126.39 164.32,126.42 165.10,126.46 165.87,126.50 166.64,126.54 167.42,126.58" fill="none" stroke="#000" stroke-width="2.5" stroke-dasharray="7.3 6.4" stroke-linejoin="round"/>
<rect x="30.05" y="13.80" width="143.91" height="197.00" fill="none" stroke="#7a7a7a" stroke-width="1.5"/>
<rect x="30.05" y="0.4" width="143.91" height="13.40" fill="#f0f0f0" stroke="#7a7a7a" stroke-width="1.5"/>
<text x="101.41" y="9.45" font-size="7.4" text-anchor="middle" fill="#262626" style="stroke-width:0.08px">RCP2.6</text>
<line x1="43.53" x2="43.53" y1="210.80" y2="213.00" stroke="#666" stroke-width="1"/>
<text x="43.53" y="221.0" font-size="8.6" text-anchor="middle" fill="#1a1a1a">2020</text>
<line x1="74.50" x2="74.50" y1="210.80" y2="213.00" stroke="#666" stroke-width="1"/>
<text x="74.50" y="221.0" font-size="8.6" text-anchor="middle" fill="#1a1a1a">2040</text>
<line x1="105.47" x2="105.47" y1="210.80" y2="213.00" stroke="#666" stroke-width="1"/>
<text x="105.47" y="221.0" font-size="8.6" text-anchor="middle" fill="#1a1a1a">2060</text>
<line x1="136.44" x2="136.44" y1="210.80" y2="213.00" stroke="#666" stroke-width="1"/>
<text x="136.44" y="221.0" font-size="8.6" text-anchor="middle" fill="#1a1a1a">2080</text>
<line x1="167.42" x2="167.42" y1="210.80" y2="213.00" stroke="#666" stroke-width="1"/>
<text x="167.42" y="221.0" font-size="8.6" text-anchor="middle" fill="#1a1a1a">2100</text>
<line x1="178.07" x2="322.90" y1="210.53" y2="210.53" stroke="#ececec" stroke-width="0.7"/>
<line x1="178.07" x2="322.90" y1="195.15" y2="195.15" stroke="#ececec" stroke-width="1.0"/>
<line x1="178.07" x2="322.90" y1="179.78" y2="179.78" stroke="#ececec" stroke-width="0.7"/>
<line x1="178.07" x2="322.90" y1="164.40" y2="164.40" stroke="#ececec" stroke-width="1.0"/>
<line x1="178.07" x2="322.90" y1="149.03" y2="149.03" stroke="#ececec" stroke-width="0.7"/>
<line x1="178.07" x2="322.90" y1="133.65" y2="133.65" stroke="#ececec" stroke-width="1.0"/>
<line x1="178.07" x2="322.90" y1="118.28" y2="118.28" stroke="#ececec" stroke-width="0.7"/>
<line x1="178.07" x2="322.90" y1="102.90" y2="102.90" stroke="#ececec" stroke-width="1.0"/>
<line x1="178.07" x2="322.90" y1="87.53" y2="87.53" stroke="#ececec" stroke-width="0.7"/>
<line x1="178.07" x2="322.90" y1="72.15" y2="72.15" stroke="#ececec" stroke-width="1.0"/>
<line x1="178.07" x2="322.90" y1="56.78" y2="56.78" stroke="#ececec" stroke-width="0.7"/>
<line x1="178.07" x2="322.90" y1="41.40" y2="41.40" stroke="#ececec" stroke-width="1.0"/>
<line x1="178.07" x2="322.90" y1="26.03" y2="26.03" stroke="#ececec" stroke-width="0.7"/>
<polygon points="184.78,61.08 185.56,62.25 186.33,63.42 187.10,64.59 187.88,65.75 188.65,66.92 189.43,68.09 190.20,69.26 190.98,70.43 191.75,71.60 192.53,72.77 193.30,79.53 194.07,86.30 194.85,93.06 195.62,99.83 196.40,106.36 197.17,112.89 197.95,119.43 198.72,125.96 199.49,130.81 200.27,135.65 201.04,140.49 201.82,145.34 202.59,147.53 203.37,149.72 204.14,151.91 204.91,154.10 205.69,156.29 206.46,158.48 207.24,160.67 208.01,162.86 208.79,163.55 209.56,164.23 210.33,164.40 211.11,164.40 211.88,164.40 212.66,164.40 213.43,164.40 214.21,164.40 214.98,164.40 215.76,164.40 216.53,164.40 217.30,164.40 218.08,164.40 218.85,164.40 219.63,164.40 220.40,164.40 221.18,164.40 221.95,164.40 222.72,164.40 223.50,164.40 224.27,164.40 225.05,164.40 225.82,164.40 226.60,164.40 227.37,164.40 228.14,164.40 228.92,164.40 229.69,164.40 230.47,164.40 231.24,164.40 232.02,164.40 232.79,164.40 233.56,164.40 234.34,164.40 235.11,164.40 235.89,164.40 236.66,164.40 237.44,164.40 238.21,164.40 238.99,164.40 239.76,164.40 240.53,164.40 241.31,164.40 242.08,164.40 242.86,164.40 243.63,164.40 244.41,164.40 245.18,164.40 245.95,164.40 246.73,164.40 247.50,164.40 248.28,164.40 249.05,164.40 249.83,164.40 250.60,164.40 251.37,164.40 252.15,164.40 252.92,164.40 253.70,164.40 254.47,164.40 255.25,164.40 256.02,164.40 256.79,164.40 257.57,164.40 258.34,164.40 259.12,164.40 259.89,164.40 260.67,164.40 261.44,164.40 262.21,164.40 262.99,164.40 263.76,164.40 264.54,164.40 265.31,164.40 266.09,164.40 266.86,164.40 267.64,164.40 268.41,164.40 269.18,164.40 269.96,164.40 270.73,164.40 271.51,164.40 272.28,164.40 273.06,164.40 273.83,164.40 274.60,164.40 275.38,164.40 276.15,164.40 276.93,164.40 277.70,164.40 278.48,164.40 279.25,164.40 280.02,164.40 280.80,164.40 281.57,164.40 282.35,164.40 283.12,164.40 283.90,164.40 284.67,164.40 285.44,164.40 286.22,164.40 286.99,164.40 287.77,164.40 288.54,164.40 289.32,164.40 290.09,164.40 290.87,164.40 291.64,164.40 292.41,164.40 293.19,164.40 293.96,164.40 294.74,164.40 295.51,164.40 296.29,164.40 297.06,164.40 297.83,164.40 298.61,164.40 299.38,164.40 300.16,164.40 300.93,164.40 301.71,164.40 302.48,164.40 303.25,164.40 304.03,164.40 304.80,164.40 305.58,164.40 306.35,164.40 307.13,164.40 307.90,164.40 308.67,164.40 309.45,164.40 310.22,164.40 311.00,164.40 311.77,164.40 312.55,164.40 313.32,164.40 314.10,164.40 314.87,164.40 315.64,164.40 316.42,164.40 316.42,164.40 315.64,164.40 314.87,164.40 314.10,164.40 313.32,164.40 312.55,164.40 311.77,164.40 311.00,164.40 310.22,164.40 309.45,164.40 308.67,164.40 307.90,164.40 307.13,164.40 306.35,164.40 305.58,164.40 304.80,164.40 304.03,164.40 303.25,164.40 302.48,164.40 301.71,164.40 300.93,164.40 300.16,164.40 299.38,164.40 298.61,164.40 297.83,164.40 297.06,164.40 296.29,164.40 295.51,164.40 294.74,164.40 293.96,164.40 293.19,164.40 292.41,164.40 291.64,164.40 290.87,164.40 290.09,164.40 289.32,164.40 288.54,164.40 287.77,164.40 286.99,164.40 286.22,164.40 285.44,164.40 284.67,164.40 283.90,164.40 283.12,164.40 282.35,164.40 281.57,164.40 280.80,164.40 280.02,164.40 279.25,164.40 278.48,164.40 277.70,164.40 276.93,164.40 276.15,164.40 275.38,164.40 274.60,164.40 273.83,164.40 273.06,164.40 272.28,164.40 271.51,164.40 270.73,164.40 269.96,164.40 269.18,164.40 268.41,164.40 267.64,164.40 266.86,164.40 266.09,164.40 265.31,164.40 264.54,164.40 263.76,164.40 262.99,164.40 262.21,164.40 261.44,164.40 260.67,164.40 259.89,164.40 259.12,164.40 258.34,164.40 257.57,164.40 256.79,164.40 256.02,164.40 255.25,164.40 254.47,164.40 253.70,164.40 252.92,164.40 252.15,164.40 251.37,164.40 250.60,164.40 249.83,164.40 249.05,164.40 248.28,164.40 247.50,164.40 246.73,164.40 245.95,164.40 245.18,164.40 244.41,164.40 243.63,164.40 242.86,164.40 242.08,164.40 241.31,164.40 240.53,164.40 239.76,164.40 238.99,164.40 238.21,164.40 237.44,164.40 236.66,164.40 235.89,164.40 235.11,164.40 234.34,164.40 233.56,164.40 232.79,164.40 232.02,164.40 231.24,164.40 230.47,164.40 229.69,164.40 228.92,164.40 228.14,164.40 227.37,164.40 226.60,164.40 225.82,164.40 225.05,164.40 224.27,164.40 223.50,164.40 222.72,164.40 221.95,164.40 221.18,164.40 220.40,164.40 219.63,164.40 218.85,164.40 218.08,164.40 217.30,164.40 216.53,164.40 215.76,164.40 214.98,164.40 214.21,164.40 213.43,164.40 212.66,164.40 211.88,164.40 211.11,164.40 210.33,164.40 209.56,164.40 208.79,164.40 208.01,164.40 207.24,164.40 206.46,164.40 205.69,164.40 204.91,164.40 204.14,164.40 203.37,164.40 202.59,164.40 201.82,164.40 201.04,164.40 200.27,164.40 199.49,164.40 198.72,164.40 197.95,164.40 197.17,164.40 196.40,164.40 195.62,164.40 194.85,164.40 194.07,164.40 193.30,164.40 192.53,164.40 191.75,164.40 190.98,164.40 190.20,164.40 189.43,164.40 188.65,164.40 187.88,164.40 187.10,164.40 186.33,164.40 185.56,164.40 184.78,164.40" fill="#07722f" stroke="#07722f" stroke-width="0.3"/>
<polygon points="184.78,164.40 185.56,164.40 186.33,164.40 187.10,164.40 187.88,164.40 188.65,164.40 189.43,164.40 190.20,164.40 190.98,164.40 191.75,164.40 192.53,164.40 193.30,164.40 194.07,164.40 194.85,164.40 195.62,164.40 196.40,164.40 197.17,164.40 197.95,164.40 198.72,164.40 199.49,164.40 200.27,164.40 201.04,164.40 201.82,164.40 202.59,164.40 203.37,164.40 204.14,164.40 204.91,164.40 205.69,164.40 206.46,164.40 207.24,164.40 208.01,164.40 208.79,164.40 209.56,164.40 210.33,164.40 211.11,164.40 211.88,164.40 212.66,164.40 213.43,164.40 214.21,164.40 214.98,164.40 215.76,164.40 216.53,164.40 217.30,164.40 218.08,164.40 218.85,164.40 219.63,164.40 220.40,164.40 221.18,164.40 221.95,164.40 222.72,164.40 223.50,164.40 224.27,164.40 225.05,164.40 225.82,164.40 226.60,164.40 227.37,164.40 228.14,164.40 228.92,164.40 229.69,164.40 230.47,164.40 231.24,164.40 232.02,164.40 232.79,164.40 233.56,164.40 234.34,164.40 235.11,164.40 235.89,164.40 236.66,164.40 237.44,164.40 238.21,164.40 238.99,164.40 239.76,164.40 240.53,164.40 241.31,164.40 242.08,164.40 242.86,164.40 243.63,164.40 244.41,164.40 245.18,164.40 245.95,164.40 246.73,164.40 247.50,164.40 248.28,164.40 249.05,164.40 249.83,164.40 250.60,164.40 251.37,164.40 252.15,164.40 252.92,164.40 253.70,164.40 254.47,164.40 255.25,164.40 256.02,164.40 256.79,164.40 257.57,164.40 258.34,164.40 259.12,164.40 259.89,164.40 260.67,164.40 261.44,164.40 262.21,164.40 262.99,164.40 263.76,164.40 264.54,164.40 265.31,164.40 266.09,164.40 266.86,164.40 267.64,164.40 268.41,164.40 269.18,164.40 269.96,164.40 270.73,164.40 271.51,164.40 272.28,164.40 273.06,164.40 273.83,164.40 274.60,164.40 275.38,164.40 276.15,164.40 276.93,164.40 277.70,164.40 278.48,164.40 279.25,164.40 280.02,164.40 280.80,164.40 281.57,164.40 282.35,164.40 283.12,164.40 283.90,164.40 284.67,164.40 285.44,164.40 286.22,164.40 286.99,164.40 287.77,164.40 288.54,164.40 289.32,164.40 290.09,164.40 290.87,164.40 291.64,164.40 292.41,164.40 293.19,164.40 293.96,164.40 294.74,164.40 295.51,164.40 296.29,164.40 297.06,164.40 297.83,164.40 298.61,164.40 299.38,164.40 300.16,164.40 300.93,164.40 301.71,164.40 302.48,164.40 303.25,164.40 304.03,164.40 304.80,164.40 305.58,164.40 306.35,164.40 307.13,164.40 307.90,164.40 308.67,164.40 309.45,164.40 310.22,164.40 311.00,164.40 311.77,164.40 312.55,164.40 313.32,164.40 314.10,164.40 314.87,164.40 315.64,164.40 316.42,164.40 316.42,173.16 315.64,173.14 314.87,173.11 314.10,173.08 313.32,173.06 312.55,173.03 311.77,173.00 311.00,172.98 310.22,172.95 309.45,172.92 308.67,172.89 307.90,172.87 307.13,172.84 306.35,172.81 305.58,172.79 304.80,172.76 304.03,172.73 303.25,172.71 302.48,172.68 301.71,172.65 300.93,172.63 300.16,172.60 299.38,172.57 298.61,172.54 297.83,172.52 297.06,172.49 296.29,172.46 295.51,172.44 294.74,172.41 293.96,172.38 293.19,172.36 292.41,172.33 291.64,172.30 290.87,172.28 290.09,172.25 289.32,172.22 288.54,172.20 287.77,172.17 286.99,172.14 286.22,172.11 285.44,172.09 284.67,172.08 283.90,172.08 283.12,172.08 282.35,172.07 281.57,172.07 280.80,172.07 280.02,172.06 279.25,172.06 278.48,172.06 277.70,172.05 276.93,172.05 276.15,172.05 275.38,172.04 274.60,172.04 273.83,172.04 273.06,172.03 272.28,172.03 271.51,172.03 270.73,172.02 269.96,172.02 269.18,172.02 268.41,172.01 267.64,172.01 266.86,172.01 266.09,172.00 265.31,172.00 264.54,172.00 263.76,171.99 262.99,171.99 262.21,171.99 261.44,172.03 260.67,172.07 259.89,172.11 259.12,172.16 258.34,172.20 257.57,172.24 256.79,172.15 256.02,172.05 255.25,171.96 254.47,171.87 253.70,171.77 252.92,171.68 252.15,171.58 251.37,171.49 250.60,171.40 249.83,171.30 249.05,171.21 248.28,171.11 247.50,171.02 246.73,170.93 245.95,170.79 245.18,170.65 244.41,170.51 243.63,170.37 242.86,170.24 242.08,170.12 241.31,170.00 240.53,169.87 239.76,169.75 238.99,169.63 238.21,169.50 237.44,169.38 236.66,169.26 235.89,169.14 235.11,169.01 234.34,168.89 233.56,168.77 232.79,168.64 232.02,168.52 231.24,168.40 230.47,168.49 229.69,168.58 228.92,168.67 228.14,168.76 227.37,168.85 226.60,168.94 225.82,169.03 225.05,169.12 224.27,169.21 223.50,169.30 222.72,169.39 221.95,169.48 221.18,169.57 220.40,169.66 219.63,169.67 218.85,169.67 218.08,169.68 217.30,169.69 216.53,169.70 215.76,169.70 214.98,169.02 214.21,168.34 213.43,167.65 212.66,166.97 211.88,166.28 211.11,165.60 210.33,164.92 209.56,164.40 208.79,164.40 208.01,164.40 207.24,164.40 206.46,164.40 205.69,164.40 204.91,164.40 204.14,164.40 203.37,164.40 202.59,164.40 201.82,164.40 201.04,164.40 200.27,164.40 199.49,164.40 198.72,164.40 197.95,164.40 197.17,164.40 196.40,164.40 195.62,164.40 194.85,164.40 194.07,164.40 193.30,164.40 192.53,164.40 191.75,164.40 190.98,164.40 190.20,164.40 189.43,164.40 188.65,164.40 187.88,164.40 187.10,164.40 186.33,164.40 185.56,164.40 184.78,164.40" fill="#07722f" stroke="#07722f" stroke-width="0.3"/>
<polygon points="184.78,61.08 185.56,62.25 186.33,63.42 187.10,64.59 187.88,65.75 188.65,66.92 189.43,68.09 190.20,69.26 190.98,70.43 191.75,71.60 192.53,72.77 193.30,79.53 194.07,86.30 194.85,93.06 195.62,99.83 196.40,106.36 197.17,112.89 197.95,119.43 198.72,125.96 199.49,130.81 200.27,135.65 201.04,140.49 201.82,145.34 202.59,147.53 203.37,149.72 204.14,151.91 204.91,154.10 205.69,156.29 206.46,158.48 207.24,160.67 208.01,162.86 208.79,163.55 209.56,164.23 210.33,164.40 211.11,164.40 211.88,164.40 212.66,164.40 213.43,164.40 214.21,164.40 214.98,164.40 215.76,164.40 216.53,164.40 217.30,164.40 218.08,164.40 218.85,164.40 219.63,164.40 220.40,164.40 221.18,164.40 221.95,164.40 222.72,164.40 223.50,164.40 224.27,164.40 225.05,164.40 225.82,164.40 226.60,164.40 227.37,164.40 228.14,164.40 228.92,164.40 229.69,164.40 230.47,164.40 231.24,164.40 232.02,164.40 232.79,164.40 233.56,164.40 234.34,164.40 235.11,164.40 235.89,164.40 236.66,164.40 237.44,164.40 238.21,164.40 238.99,164.40 239.76,164.40 240.53,164.40 241.31,164.40 242.08,164.40 242.86,164.40 243.63,164.40 244.41,164.40 245.18,164.40 245.95,164.40 246.73,164.40 247.50,164.40 248.28,164.40 249.05,164.40 249.83,164.40 250.60,164.40 251.37,164.40 252.15,164.40 252.92,164.40 253.70,164.40 254.47,164.40 255.25,164.40 256.02,164.40 256.79,164.40 257.57,164.40 258.34,164.40 259.12,164.40 259.89,164.40 260.67,164.40 261.44,164.40 262.21,164.40 262.99,164.40 263.76,164.40 264.54,164.40 265.31,164.40 266.09,164.40 266.86,164.40 267.64,164.40 268.41,164.40 269.18,164.40 269.96,164.40 270.73,164.40 271.51,164.40 272.28,164.40 273.06,164.40 273.83,164.40 274.60,164.40 275.38,164.40 276.15,164.40 276.93,164.40 277.70,164.40 278.48,164.40 279.25,164.40 280.02,164.40 280.80,164.40 281.57,164.40 282.35,164.40 283.12,164.40 283.90,164.40 284.67,164.40 285.44,164.40 286.22,164.40 286.99,164.40 287.77,164.40 288.54,164.40 289.32,164.40 290.09,164.40 290.87,164.40 291.64,164.40 292.41,164.40 293.19,164.40 293.96,164.40 294.74,164.40 295.51,164.40 296.29,164.40 297.06,164.40 297.83,164.40 298.61,164.40 299.38,164.40 300.16,164.40 300.93,164.40 301.71,164.40 302.48,164.40 303.25,164.40 304.03,164.40 304.80,164.40 305.58,164.40 306.35,164.40 307.13,164.40 307.90,164.40 308.67,164.40 309.45,164.40 310.22,164.40 311.00,164.40 311.77,164.40 312.55,164.40 313.32,164.40 314.10,164.40 314.87,164.40 315.64,164.40 316.42,164.40 316.42,164.40 315.64,164.40 314.87,164.40 314.10,164.40 313.32,164.40 312.55,164.40 311.77,164.40 311.00,164.40 310.22,164.40 309.45,164.40 308.67,164.40 307.90,164.40 307.13,164.40 306.35,164.40 305.58,164.40 304.80,164.40 304.03,164.40 303.25,164.40 302.48,164.40 301.71,164.40 300.93,164.40 300.16,164.40 299.38,164.40 298.61,164.40 297.83,164.40 297.06,164.40 296.29,164.40 295.51,164.40 294.74,164.40 293.96,164.40 293.19,164.40 292.41,164.40 291.64,164.40 290.87,164.40 290.09,164.40 289.32,164.40 288.54,164.40 287.77,164.40 286.99,164.40 286.22,164.40 285.44,164.40 284.67,164.40 283.90,164.40 283.12,164.40 282.35,164.40 281.57,164.40 280.80,164.40 280.02,164.40 279.25,164.40 278.48,164.40 277.70,164.40 276.93,164.40 276.15,164.40 275.38,164.40 274.60,164.40 273.83,164.40 273.06,164.40 272.28,164.40 271.51,164.40 270.73,164.40 269.96,164.40 269.18,164.40 268.41,164.40 267.64,164.40 266.86,164.40 266.09,164.40 265.31,164.40 264.54,164.40 263.76,164.40 262.99,164.40 262.21,164.40 261.44,164.40 260.67,164.40 259.89,164.40 259.12,164.40 258.34,164.40 257.57,164.40 256.79,164.40 256.02,164.40 255.25,164.40 254.47,164.40 253.70,164.40 252.92,164.40 252.15,164.40 251.37,164.40 250.60,164.40 249.83,164.40 249.05,164.40 248.28,164.40 247.50,164.40 246.73,164.40 245.95,164.40 245.18,164.40 244.41,164.40 243.63,164.40 242.86,164.40 242.08,164.40 241.31,164.40 240.53,164.40 239.76,164.40 238.99,164.40 238.21,164.40 237.44,164.40 236.66,164.40 235.89,164.40 235.11,164.40 234.34,164.40 233.56,164.40 232.79,164.40 232.02,164.40 231.24,164.40 230.47,164.40 229.69,164.40 228.92,164.40 228.14,164.40 227.37,164.40 226.60,164.40 225.82,164.40 225.05,164.40 224.27,164.40 223.50,164.40 222.72,164.40 221.95,164.40 221.18,164.40 220.40,164.40 219.63,164.40 218.85,164.40 218.08,164.40 217.30,164.40 216.53,164.40 215.76,164.40 214.98,164.40 214.21,164.40 213.43,164.40 212.66,164.40 211.88,164.40 211.11,164.40 210.33,164.40 209.56,164.23 208.79,163.55 208.01,162.86 207.24,160.67 206.46,158.48 205.69,156.29 204.91,154.10 204.14,151.91 203.37,149.72 202.59,147.53 201.82,145.34 201.04,140.49 200.27,135.65 199.49,130.81 198.72,125.96 197.95,119.43 197.17,112.89 196.40,106.36 195.62,99.83 194.85,93.06 194.07,86.30 193.30,79.53 192.53,72.77 191.75,71.60 190.98,70.43 190.20,69.26 189.43,68.09 188.65,66.92 187.88,65.75 187.10,64.59 186.33,63.42 185.56,62.25 184.78,61.08" fill="#31a354" stroke="#31a354" stroke-width="0.3"/>
<polygon points="184.78,164.40 185.56,164.40 186.33,164.40 187.10,164.40 187.88,164.40 188.65,164.40 189.43,164.40 190.20,164.40 190.98,164.40 191.75,164.40 192.53,164.40 193.30,164.40 194.07,164.40 194.85,164.40 195.62,164.40 196.40,164.40 197.17,164.40 197.95,164.40 198.72,164.40 199.49,164.40 200.27,164.40 201.04,164.40 201.82,164.40 202.59,164.40 203.37,164.40 204.14,164.40 204.91,164.40 205.69,164.40 206.46,164.40 207.24,164.40 208.01,164.40 208.79,164.40 209.56,164.40 210.33,164.92 211.11,165.60 211.88,166.28 212.66,166.97 213.43,167.65 214.21,168.34 214.98,169.02 215.76,169.70 216.53,169.70 217.30,169.69 218.08,169.68 218.85,169.67 219.63,169.67 220.40,169.66 221.18,169.57 221.95,169.48 222.72,169.39 223.50,169.30 224.27,169.21 225.05,169.12 225.82,169.03 226.60,168.94 227.37,168.85 228.14,168.76 228.92,168.67 229.69,168.58 230.47,168.49 231.24,168.40 232.02,168.52 232.79,168.64 233.56,168.77 234.34,168.89 235.11,169.01 235.89,169.14 236.66,169.26 237.44,169.38 238.21,169.50 238.99,169.63 239.76,169.75 240.53,169.87 241.31,170.00 242.08,170.12 242.86,170.24 243.63,170.37 244.41,170.51 245.18,170.65 245.95,170.79 246.73,170.93 247.50,171.02 248.28,171.11 249.05,171.21 249.83,171.30 250.60,171.40 251.37,171.49 252.15,171.58 252.92,171.68 253.70,171.77 254.47,171.87 255.25,171.96 256.02,172.05 256.79,172.15 257.57,172.24 258.34,172.20 259.12,172.16 259.89,172.11 260.67,172.07 261.44,172.03 262.21,171.99 262.99,171.99 263.76,171.99 264.54,172.00 265.31,172.00 266.09,172.00 266.86,172.01 267.64,172.01 268.41,172.01 269.18,172.02 269.96,172.02 270.73,172.02 271.51,172.03 272.28,172.03 273.06,172.03 273.83,172.04 274.60,172.04 275.38,172.04 276.15,172.05 276.93,172.05 277.70,172.05 278.48,172.06 279.25,172.06 280.02,172.06 280.80,172.07 281.57,172.07 282.35,172.07 283.12,172.08 283.90,172.08 284.67,172.08 285.44,172.09 286.22,172.11 286.99,172.14 287.77,172.17 288.54,172.20 289.32,172.22 290.09,172.25 290.87,172.28 291.64,172.30 292.41,172.33 293.19,172.36 293.96,172.38 294.74,172.41 295.51,172.44 296.29,172.46 297.06,172.49 297.83,172.52 298.61,172.54 299.38,172.57 300.16,172.60 300.93,172.63 301.71,172.65 302.48,172.68 303.25,172.71 304.03,172.73 304.80,172.76 305.58,172.79 306.35,172.81 307.13,172.84 307.90,172.87 308.67,172.89 309.45,172.92 310.22,172.95 311.00,172.98 311.77,173.00 312.55,173.03 313.32,173.06 314.10,173.08 314.87,173.11 315.64,173.14 316.42,173.16 316.42,173.16 315.64,173.14 314.87,173.11 314.10,173.08 313.32,173.06 312.55,173.03 311.77,173.00 311.00,172.98 310.22,172.95 309.45,172.92 308.67,172.89 307.90,172.87 307.13,172.84 306.35,172.81 305.58,172.79 304.80,172.76 304.03,172.73 303.25,172.71 302.48,172.68 301.71,172.65 300.93,172.63 300.16,172.60 299.38,172.57 298.61,172.54 297.83,172.52 297.06,172.49 296.29,172.46 295.51,172.44 294.74,172.41 293.96,172.38 293.19,172.36 292.41,172.33 291.64,172.30 290.87,172.28 290.09,172.25 289.32,172.22 288.54,172.20 287.77,172.17 286.99,172.14 286.22,172.11 285.44,172.09 284.67,172.08 283.90,172.08 283.12,172.08 282.35,172.07 281.57,172.07 280.80,172.07 280.02,172.06 279.25,172.06 278.48,172.06 277.70,172.05 276.93,172.05 276.15,172.05 275.38,172.04 274.60,172.04 273.83,172.04 273.06,172.03 272.28,172.03 271.51,172.03 270.73,172.02 269.96,172.02 269.18,172.02 268.41,172.01 267.64,172.01 266.86,172.01 266.09,172.00 265.31,172.00 264.54,172.00 263.76,171.99 262.99,171.99 262.21,171.99 261.44,172.03 260.67,172.07 259.89,172.11 259.12,172.16 258.34,172.20 257.57,172.24 256.79,172.15 256.02,172.05 255.25,171.96 254.47,171.87 253.70,171.77 252.92,171.68 252.15,171.58 251.37,171.49 250.60,171.40 249.83,171.30 249.05,171.21 248.28,171.11 247.50,171.02 246.73,170.93 245.95,170.79 245.18,170.65 244.41,170.51 243.63,170.37 242.86,170.24 242.08,170.12 241.31,170.00 240.53,169.87 239.76,169.75 238.99,169.63 238.21,169.50 237.44,169.38 236.66,169.26 235.89,169.14 235.11,169.01 234.34,168.89 233.56,168.77 232.79,168.64 232.02,168.52 231.24,168.40 230.47,168.49 229.69,168.58 228.92,168.67 228.14,168.76 227.37,168.85 226.60,168.94 225.82,169.03 225.05,169.12 224.27,169.21 223.50,169.30 222.72,169.39 221.95,169.48 221.18,169.57 220.40,169.66 219.63,169.67 218.85,169.67 218.08,169.68 217.30,169.69 216.53,169.70 215.76,169.70 214.98,169.02 214.21,168.34 213.43,167.65 212.66,166.97 211.88,166.28 211.11,165.60 210.33,164.92 209.56,164.40 208.79,164.40 208.01,164.40 207.24,164.40 206.46,164.40 205.69,164.40 204.91,164.40 204.14,164.40 203.37,164.40 202.59,164.40 201.82,164.40 201.04,164.40 200.27,164.40 199.49,164.40 198.72,164.40 197.95,164.40 197.17,164.40 196.40,164.40 195.62,164.40 194.85,164.40 194.07,164.40 193.30,164.40 192.53,164.40 191.75,164.40 190.98,164.40 190.20,164.40 189.43,164.40 188.65,164.40 187.88,164.40 187.10,164.40 186.33,164.40 185.56,164.40 184.78,164.40" fill="#31a354" stroke="#31a354" stroke-width="0.3"/>
<polygon points="184.78,61.08 185.56,62.25 186.33,63.42 187.10,64.59 187.88,65.75 188.65,66.92 189.43,68.09 190.20,69.26 190.98,70.43 191.75,71.60 192.53,72.77 193.30,79.53 194.07,86.30 194.85,93.06 195.62,99.83 196.40,106.36 197.17,112.89 197.95,119.43 198.72,125.96 199.49,130.81 200.27,135.65 201.04,140.49 201.82,145.34 202.59,147.53 203.37,149.72 204.14,151.91 204.91,154.10 205.69,156.29 206.46,158.48 207.24,160.67 208.01,162.86 208.79,163.55 209.56,164.23 210.33,164.40 211.11,164.40 211.88,164.40 212.66,164.40 213.43,164.40 214.21,164.40 214.98,164.40 215.76,164.40 216.53,164.40 217.30,164.40 218.08,164.40 218.85,164.40 219.63,164.40 220.40,164.40 221.18,164.29 221.95,164.18 222.72,164.07 223.50,163.96 224.27,163.85 225.05,163.74 225.82,163.63 226.60,163.52 227.37,163.41 228.14,163.30 228.92,163.19 229.69,163.08 230.47,162.97 231.24,162.86 232.02,162.89 232.79,162.92 233.56,162.95 234.34,162.99 235.11,163.02 235.89,163.05 236.66,163.08 237.44,163.11 238.21,163.14 238.99,163.17 239.76,163.20 240.53,163.23 241.31,163.26 242.08,163.29 242.86,163.32 243.63,163.35 244.41,163.39 245.18,163.42 245.95,163.45 246.73,163.48 247.50,163.55 248.28,163.63 249.05,163.71 249.83,163.78 250.60,163.86 251.37,163.94 252.15,164.02 252.92,164.09 253.70,164.17 254.47,164.25 255.25,164.32 256.02,164.40 256.79,164.40 257.57,164.40 258.34,164.40 259.12,164.40 259.89,164.40 260.67,164.40 261.44,164.40 262.21,164.40 262.99,164.40 263.76,164.40 264.54,164.40 265.31,164.40 266.09,164.40 266.86,164.40 267.64,164.40 268.41,164.40 269.18,164.40 269.96,164.40 270.73,164.40 271.51,164.40 272.28,164.40 273.06,164.40 273.83,164.40 274.60,164.40 275.38,164.40 276.15,164.40 276.93,164.40 277.70,164.40 278.48,164.40 279.25,164.40 280.02,164.40 280.80,164.40 281.57,164.40 282.35,164.40 283.12,164.40 283.90,164.40 284.67,164.40 285.44,164.40 286.22,164.40 286.99,164.40 287.77,164.40 288.54,164.40 289.32,164.40 290.09,164.40 290.87,164.40 291.64,164.40 292.41,164.40 293.19,164.40 293.96,164.40 294.74,164.40 295.51,164.40 296.29,164.40 297.06,164.40 297.83,164.40 298.61,164.40 299.38,164.40 300.16,164.40 300.93,164.40 301.71,164.40 302.48,164.40 303.25,164.40 304.03,164.40 304.80,164.40 305.58,164.40 306.35,164.40 307.13,164.40 307.90,164.40 308.67,164.40 309.45,164.40 310.22,164.40 311.00,164.40 311.77,164.40 312.55,164.40 313.32,164.40 314.10,164.40 314.87,164.40 315.64,164.40 316.42,164.40 316.42,164.40 315.64,164.40 314.87,164.40 314.10,164.40 313.32,164.40 312.55,164.40 311.77,164.40 311.00,164.40 310.22,164.40 309.45,164.40 308.67,164.40 307.90,164.40 307.13,164.40 306.35,164.40 305.58,164.40 304.80,164.40 304.03,164.40 303.25,164.40 302.48,164.40 301.71,164.40 300.93,164.40 300.16,164.40 299.38,164.40 298.61,164.40 297.83,164.40 297.06,164.40 296.29,164.40 295.51,164.40 294.74,164.40 293.96,164.40 293.19,164.40 292.41,164.40 291.64,164.40 290.87,164.40 290.09,164.40 289.32,164.40 288.54,164.40 287.77,164.40 286.99,164.40 286.22,164.40 285.44,164.40 284.67,164.40 283.90,164.40 283.12,164.40 282.35,164.40 281.57,164.40 280.80,164.40 280.02,164.40 279.25,164.40 278.48,164.40 277.70,164.40 276.93,164.40 276.15,164.40 275.38,164.40 274.60,164.40 273.83,164.40 273.06,164.40 272.28,164.40 271.51,164.40 270.73,164.40 269.96,164.40 269.18,164.40 268.41,164.40 267.64,164.40 266.86,164.40 266.09,164.40 265.31,164.40 264.54,164.40 263.76,164.40 262.99,164.40 262.21,164.40 261.44,164.40 260.67,164.40 259.89,164.40 259.12,164.40 258.34,164.40 257.57,164.40 256.79,164.40 256.02,164.40 255.25,164.40 254.47,164.40 253.70,164.40 252.92,164.40 252.15,164.40 251.37,164.40 250.60,164.40 249.83,164.40 249.05,164.40 248.28,164.40 247.50,164.40 246.73,164.40 245.95,164.40 245.18,164.40 244.41,164.40 243.63,164.40 242.86,164.40 242.08,164.40 241.31,164.40 240.53,164.40 239.76,164.40 238.99,164.40 238.21,164.40 237.44,164.40 236.66,164.40 235.89,164.40 235.11,164.40 234.34,164.40 233.56,164.40 232.79,164.40 232.02,164.40 231.24,164.40 230.47,164.40 229.69,164.40 228.92,164.40 228.14,164.40 227.37,164.40 226.60,164.40 225.82,164.40 225.05,164.40 224.27,164.40 223.50,164.40 222.72,164.40 221.95,164.40 221.18,164.40 220.40,164.40 219.63,164.40 218.85,164.40 218.08,164.40 217.30,164.40 216.53,164.40 215.76,164.40 214.98,164.40 214.21,164.40 213.43,164.40 212.66,164.40 211.88,164.40 211.11,164.40 210.33,164.40 209.56,164.23 208.79,163.55 208.01,162.86 207.24,160.67 206.46,158.48 205.69,156.29 204.91,154.10 204.14,151.91 203.37,149.72 202.59,147.53 201.82,145.34 201.04,140.49 200.27,135.65 199.49,130.81 198.72,125.96 197.95,119.43 197.17,112.89 196.40,106.36 195.62,99.83 194.85,93.06 194.07,86.30 193.30,79.53 192.53,72.77 191.75,71.60 190.98,70.43 190.20,69.26 189.43,68.09 188.65,66.92 187.88,65.75 187.10,64.59 186.33,63.42 185.56,62.25 184.78,61.08" fill="#74c476" stroke="#74c476" stroke-width="0.3"/>
<polygon points="184.78,164.40 185.56,164.40 186.33,164.40 187.10,164.40 187.88,164.40 188.65,164.40 189.43,164.40 190.20,164.40 190.98,164.40 191.75,164.40 192.53,164.40 193.30,164.40 194.07,164.40 194.85,164.40 195.62,164.40 196.40,164.40 197.17,164.40 197.95,164.40 198.72,164.40 199.49,164.40 200.27,164.40 201.04,164.40 201.82,164.40 202.59,164.40 203.37,164.40 204.14,164.40 204.91,164.40 205.69,164.40 206.46,164.40 207.24,164.40 208.01,164.40 208.79,164.40 209.56,164.40 210.33,164.92 211.11,165.60 211.88,166.28 212.66,166.97 213.43,167.65 214.21,168.34 214.98,169.02 215.76,169.70 216.53,169.70 217.30,169.69 218.08,169.68 218.85,169.67 219.63,169.67 220.40,169.66 221.18,169.57 221.95,169.48 222.72,169.39 223.50,169.30 224.27,169.21 225.05,169.12 225.82,169.03 226.60,168.94 227.37,168.85 228.14,168.76 228.92,168.67 229.69,168.58 230.47,168.49 231.24,168.40 232.02,168.52 232.79,168.64 233.56,168.77 234.34,168.89 235.11,169.01 235.89,169.14 236.66,169.26 237.44,169.38 238.21,169.50 238.99,169.63 239.76,169.75 240.53,169.87 241.31,170.00 242.08,170.12 242.86,170.24 243.63,170.37 244.41,170.51 245.18,170.65 245.95,170.79 246.73,170.93 247.50,171.02 248.28,171.11 249.05,171.21 249.83,171.30 250.60,171.40 251.37,171.49 252.15,171.58 252.92,171.68 253.70,171.77 254.47,171.87 255.25,171.96 256.02,172.05 256.79,172.15 257.57,172.24 258.34,172.20 259.12,172.16 259.89,172.11 260.67,172.07 261.44,172.03 262.21,171.99 262.99,171.99 263.76,171.99 264.54,172.00 265.31,172.00 266.09,172.00 266.86,172.01 267.64,172.01 268.41,172.01 269.18,172.02 269.96,172.02 270.73,172.02 271.51,172.03 272.28,172.03 273.06,172.03 273.83,172.04 274.60,172.04 275.38,172.04 276.15,172.05 276.93,172.05 277.70,172.05 278.48,172.06 279.25,172.06 280.02,172.06 280.80,172.07 281.57,172.07 282.35,172.07 283.12,172.08 283.90,172.08 284.67,172.08 285.44,172.09 286.22,172.11 286.99,172.14 287.77,172.17 288.54,172.20 289.32,172.22 290.09,172.25 290.87,172.28 291.64,172.30 292.41,172.33 293.19,172.36 293.96,172.38 294.74,172.41 295.51,172.44 296.29,172.46 297.06,172.49 297.83,172.52 298.61,172.54 299.38,172.57 300.16,172.60 300.93,172.63 301.71,172.65 302.48,172.68 303.25,172.71 304.03,172.73 304.80,172.76 305.58,172.79 306.35,172.81 307.13,172.84 307.90,172.87 308.67,172.89 309.45,172.92 310.22,172.95 311.00,172.98 311.77,173.00 312.55,173.03 313.32,173.06 314.10,173.08 314.87,173.11 315.64,173.14 316.42,173.16 316.42,175.32 315.64,175.27 314.87,175.23 314.10,175.19 313.32,175.15 312.55,175.10 311.77,175.06 311.00,175.02 310.22,174.98 309.45,174.94 308.67,174.89 307.90,174.85 307.13,174.81 306.35,174.77 305.58,174.72 304.80,174.68 304.03,174.64 303.25,174.60 302.48,174.56 301.71,174.51 300.93,174.47 300.16,174.43 299.38,174.39 298.61,174.34 297.83,174.30 297.06,174.26 296.29,174.22 295.51,174.17 294.74,174.13 293.96,174.09 293.19,174.05 292.41,174.01 291.64,173.96 290.87,173.92 290.09,173.88 289.32,173.84 288.54,173.79 287.77,173.75 286.99,173.71 286.22,173.67 285.44,173.62 284.67,173.59 283.90,173.56 283.12,173.52 282.35,173.49 281.57,173.45 280.80,173.42 280.02,173.39 279.25,173.35 278.48,173.32 277.70,173.28 276.93,173.25 276.15,173.22 275.38,173.18 274.60,173.15 273.83,173.11 273.06,173.08 272.28,173.04 271.51,173.01 270.73,172.98 269.96,172.94 269.18,172.91 268.41,172.87 267.64,172.84 266.86,172.81 266.09,172.77 265.31,172.74 264.54,172.70 263.76,172.67 262.99,172.63 262.21,172.60 261.44,172.57 260.67,172.53 259.89,172.50 259.12,172.46 258.34,172.43 257.57,172.40 256.79,172.22 256.02,172.05 255.25,171.96 254.47,171.87 253.70,171.77 252.92,171.68 252.15,171.58 251.37,171.49 250.60,171.40 249.83,171.30 249.05,171.21 248.28,171.11 247.50,171.02 246.73,170.93 245.95,170.79 245.18,170.65 244.41,170.51 243.63,170.37 242.86,170.24 242.08,170.12 241.31,170.00 240.53,169.87 239.76,169.75 238.99,169.63 238.21,169.50 237.44,169.38 236.66,169.26 235.89,169.14 235.11,169.01 234.34,168.89 233.56,168.77 232.79,168.64 232.02,168.52 231.24,168.40 230.47,168.49 229.69,168.58 228.92,168.67 228.14,168.76 227.37,168.85 226.60,168.94 225.82,169.03 225.05,169.12 224.27,169.21 223.50,169.30 222.72,169.39 221.95,169.48 221.18,169.57 220.40,169.66 219.63,169.86 218.85,170.06 218.08,170.26 217.30,170.46 216.53,170.66 215.76,170.86 214.98,170.37 214.21,169.87 213.43,169.38 212.66,168.89 211.88,168.40 211.11,167.91 210.33,167.41 209.56,167.09 208.79,167.28 208.01,167.47 207.24,167.47 206.46,167.47 205.69,167.47 204.91,167.47 204.14,167.47 203.37,167.47 202.59,167.47 201.82,167.47 201.04,167.47 200.27,167.47 199.49,167.47 198.72,167.47 197.95,167.47 197.17,167.47 196.40,167.47 195.62,167.47 194.85,167.47 194.07,167.47 193.30,167.47 192.53,167.47 191.75,167.47 190.98,167.47 190.20,167.47 189.43,167.47 188.65,167.47 187.88,167.47 187.10,167.47 186.33,167.47 185.56,167.47 184.78,167.47" fill="#74c476" stroke="#74c476" stroke-width="0.3"/>
<polygon points="184.78,39.56 185.56,40.66 186.33,41.77 187.10,42.88 187.88,43.98 188.65,45.09 189.43,46.20 190.20,47.30 190.98,48.41 191.75,49.52 192.53,50.62 193.30,57.21 194.07,63.79 194.85,70.37 195.62,76.95 196.40,83.30 197.17,89.65 197.95,96.00 198.72,102.35 199.49,107.01 200.27,111.66 201.04,116.38 201.82,121.10 202.59,123.17 203.37,125.24 204.14,127.31 204.91,129.38 205.69,131.44 206.46,133.51 207.24,135.58 208.01,137.65 208.79,138.21 209.56,138.77 210.33,138.82 211.11,138.69 211.88,138.57 212.66,138.45 213.43,138.32 214.21,138.20 214.98,138.08 215.76,137.96 216.53,137.95 217.30,137.95 218.08,137.94 218.85,137.94 219.63,137.93 220.40,137.93 221.18,137.81 221.95,137.70 222.72,137.58 223.50,137.47 224.27,137.35 225.05,137.24 225.82,137.12 226.60,137.01 227.37,136.90 228.14,136.78 228.92,136.67 229.69,136.55 230.47,136.44 231.24,136.32 232.02,136.35 232.79,136.37 233.56,136.40 234.34,136.43 235.11,136.45 235.89,136.48 236.66,136.51 237.44,136.53 238.21,136.56 238.99,136.58 239.76,136.61 240.53,136.64 241.31,136.66 242.08,136.69 242.86,136.71 243.63,136.74 244.41,136.77 245.18,136.79 245.95,136.82 246.73,136.84 247.50,136.92 248.28,136.99 249.05,137.06 249.83,137.13 250.60,137.20 251.37,137.28 252.15,137.35 252.92,137.42 253.70,137.49 254.47,137.56 255.25,137.64 256.02,137.71 256.79,137.70 257.57,137.70 258.34,137.69 259.12,137.69 259.89,137.69 260.67,137.68 261.44,137.68 262.21,137.67 262.99,137.67 263.76,137.66 264.54,137.66 265.31,137.65 266.09,137.65 266.86,137.64 267.64,137.64 268.41,137.63 269.18,137.63 269.96,137.62 270.73,137.62 271.51,137.61 272.28,137.61 273.06,137.60 273.83,137.60 274.60,137.60 275.38,137.59 276.15,137.59 276.93,137.58 277.70,137.58 278.48,137.57 279.25,137.57 280.02,137.56 280.80,137.56 281.57,137.55 282.35,137.55 283.12,137.54 283.90,137.54 284.67,137.53 285.44,137.53 286.22,137.52 286.99,137.52 287.77,137.52 288.54,137.51 289.32,137.51 290.09,137.50 290.87,137.50 291.64,137.49 292.41,137.49 293.19,137.48 293.96,137.48 294.74,137.47 295.51,137.47 296.29,137.46 297.06,137.46 297.83,137.45 298.61,137.45 299.38,137.44 300.16,137.44 300.93,137.43 301.71,137.43 302.48,137.43 303.25,137.42 304.03,137.42 304.80,137.41 305.58,137.41 306.35,137.40 307.13,137.40 307.90,137.39 308.67,137.39 309.45,137.38 310.22,137.38 311.00,137.37 311.77,137.37 312.55,137.36 313.32,137.36 314.10,137.35 314.87,137.35 315.64,137.34 316.42,137.34 316.42,164.40 315.64,164.40 314.87,164.40 314.10,164.40 313.32,164.40 312.55,164.40 311.77,164.40 311.00,164.40 310.22,164.40 309.45,164.40 308.67,164.40 307.90,164.40 307.13,164.40 306.35,164.40 305.58,164.40 304.80,164.40 304.03,164.40 303.25,164.40 302.48,164.40 301.71,164.40 300.93,164.40 300.16,164.40 299.38,164.40 298.61,164.40 297.83,164.40 297.06,164.40 296.29,164.40 295.51,164.40 294.74,164.40 293.96,164.40 293.19,164.40 292.41,164.40 291.64,164.40 290.87,164.40 290.09,164.40 289.32,164.40 288.54,164.40 287.77,164.40 286.99,164.40 286.22,164.40 285.44,164.40 284.67,164.40 283.90,164.40 283.12,164.40 282.35,164.40 281.57,164.40 280.80,164.40 280.02,164.40 279.25,164.40 278.48,164.40 277.70,164.40 276.93,164.40 276.15,164.40 275.38,164.40 274.60,164.40 273.83,164.40 273.06,164.40 272.28,164.40 271.51,164.40 270.73,164.40 269.96,164.40 269.18,164.40 268.41,164.40 267.64,164.40 266.86,164.40 266.09,164.40 265.31,164.40 264.54,164.40 263.76,164.40 262.99,164.40 262.21,164.40 261.44,164.40 260.67,164.40 259.89,164.40 259.12,164.40 258.34,164.40 257.57,164.40 256.79,164.40 256.02,164.40 255.25,164.32 254.47,164.25 253.70,164.17 252.92,164.09 252.15,164.02 251.37,163.94 250.60,163.86 249.83,163.78 249.05,163.71 248.28,163.63 247.50,163.55 246.73,163.48 245.95,163.45 245.18,163.42 244.41,163.39 243.63,163.35 242.86,163.32 242.08,163.29 241.31,163.26 240.53,163.23 239.76,163.20 238.99,163.17 238.21,163.14 237.44,163.11 236.66,163.08 235.89,163.05 235.11,163.02 234.34,162.99 233.56,162.95 232.79,162.92 232.02,162.89 231.24,162.86 230.47,162.97 229.69,163.08 228.92,163.19 228.14,163.30 227.37,163.41 226.60,163.52 225.82,163.63 225.05,163.74 224.27,163.85 223.50,163.96 222.72,164.07 221.95,164.18 221.18,164.29 220.40,164.40 219.63,164.40 218.85,164.40 218.08,164.40 217.30,164.40 216.53,164.40 215.76,164.40 214.98,164.40 214.21,164.40 213.43,164.40 212.66,164.40 211.88,164.40 211.11,164.40 210.33,164.40 209.56,164.23 208.79,163.55 208.01,162.86 207.24,160.67 206.46,158.48 205.69,156.29 204.91,154.10 204.14,151.91 203.37,149.72 202.59,147.53 201.82,145.34 201.04,140.49 200.27,135.65 199.49,130.81 198.72,125.96 197.95,119.43 197.17,112.89 196.40,106.36 195.62,99.83 194.85,93.06 194.07,86.30 193.30,79.53 192.53,72.77 191.75,71.60 190.98,70.43 190.20,69.26 189.43,68.09 188.65,66.92 187.88,65.75 187.10,64.59 186.33,63.42 185.56,62.25 184.78,61.08" fill="#a63603" stroke="#a63603" stroke-width="0.3"/>
<polygon points="184.78,30.33 185.56,31.53 186.33,32.73 187.10,33.93 187.88,35.13 188.65,36.33 189.43,37.53 190.20,38.72 190.98,39.92 191.75,41.12 192.53,42.32 193.30,48.96 194.07,55.61 194.85,62.25 195.62,68.89 196.40,75.30 197.17,81.71 197.95,88.12 198.72,94.54 199.49,99.26 200.27,103.98 201.04,108.82 201.82,113.66 202.59,115.85 203.37,118.04 204.14,120.24 204.91,122.43 205.69,124.62 206.46,126.81 207.24,129.00 208.01,131.19 208.79,131.87 209.56,132.56 210.33,132.73 211.11,132.73 211.88,132.73 212.66,132.73 213.43,132.73 214.21,132.73 214.98,132.73 215.76,132.73 216.53,132.72 217.30,132.72 218.08,132.71 218.85,132.71 219.63,132.70 220.40,132.70 221.18,132.58 221.95,132.47 222.72,132.36 223.50,132.24 224.27,132.13 225.05,132.01 225.82,131.90 226.60,131.78 227.37,131.67 228.14,131.55 228.92,131.44 229.69,131.32 230.47,131.21 231.24,131.10 232.02,131.12 232.79,131.15 233.56,131.17 234.34,131.20 235.11,131.23 235.89,131.25 236.66,131.28 237.44,131.30 238.21,131.33 238.99,131.36 239.76,131.38 240.53,131.41 241.31,131.43 242.08,131.46 242.86,131.49 243.63,131.51 244.41,131.54 245.18,131.56 245.95,131.59 246.73,131.62 247.50,131.69 248.28,131.76 249.05,131.83 249.83,131.90 250.60,131.98 251.37,132.05 252.15,132.12 252.92,132.19 253.70,132.27 254.47,132.34 255.25,132.41 256.02,132.48 256.79,132.48 257.57,132.47 258.34,132.47 259.12,132.46 259.89,132.46 260.67,132.45 261.44,132.45 262.21,132.44 262.99,132.44 263.76,132.43 264.54,132.43 265.31,132.42 266.09,132.42 266.86,132.42 267.64,132.41 268.41,132.41 269.18,132.40 269.96,132.40 270.73,132.39 271.51,132.39 272.28,132.38 273.06,132.38 273.83,132.37 274.60,132.37 275.38,132.36 276.15,132.36 276.93,132.35 277.70,132.35 278.48,132.34 279.25,132.34 280.02,132.33 280.80,132.33 281.57,132.33 282.35,132.32 283.12,132.32 283.90,132.31 284.67,132.31 285.44,132.30 286.22,132.30 286.99,132.29 287.77,132.29 288.54,132.28 289.32,132.28 290.09,132.27 290.87,132.27 291.64,132.26 292.41,132.26 293.19,132.25 293.96,132.25 294.74,132.24 295.51,132.24 296.29,132.24 297.06,132.23 297.83,132.23 298.61,132.22 299.38,132.22 300.16,132.21 300.93,132.21 301.71,132.20 302.48,132.20 303.25,132.19 304.03,132.19 304.80,132.18 305.58,132.18 306.35,132.17 307.13,132.17 307.90,132.16 308.67,132.16 309.45,132.16 310.22,132.15 311.00,132.15 311.77,132.14 312.55,132.14 313.32,132.13 314.10,132.13 314.87,132.12 315.64,132.12 316.42,132.11 316.42,137.34 315.64,137.34 314.87,137.35 314.10,137.35 313.32,137.36 312.55,137.36 311.77,137.37 311.00,137.37 310.22,137.38 309.45,137.38 308.67,137.39 307.90,137.39 307.13,137.40 306.35,137.40 305.58,137.41 304.80,137.41 304.03,137.42 303.25,137.42 302.48,137.43 301.71,137.43 300.93,137.43 300.16,137.44 299.38,137.44 298.61,137.45 297.83,137.45 297.06,137.46 296.29,137.46 295.51,137.47 294.74,137.47 293.96,137.48 293.19,137.48 292.41,137.49 291.64,137.49 290.87,137.50 290.09,137.50 289.32,137.51 288.54,137.51 287.77,137.52 286.99,137.52 286.22,137.52 285.44,137.53 284.67,137.53 283.90,137.54 283.12,137.54 282.35,137.55 281.57,137.55 280.80,137.56 280.02,137.56 279.25,137.57 278.48,137.57 277.70,137.58 276.93,137.58 276.15,137.59 275.38,137.59 274.60,137.60 273.83,137.60 273.06,137.60 272.28,137.61 271.51,137.61 270.73,137.62 269.96,137.62 269.18,137.63 268.41,137.63 267.64,137.64 266.86,137.64 266.09,137.65 265.31,137.65 264.54,137.66 263.76,137.66 262.99,137.67 262.21,137.67 261.44,137.68 260.67,137.68 259.89,137.69 259.12,137.69 258.34,137.69 257.57,137.70 256.79,137.70 256.02,137.71 255.25,137.64 254.47,137.56 253.70,137.49 252.92,137.42 252.15,137.35 251.37,137.28 250.60,137.20 249.83,137.13 249.05,137.06 248.28,136.99 247.50,136.92 246.73,136.84 245.95,136.82 245.18,136.79 244.41,136.77 243.63,136.74 242.86,136.71 242.08,136.69 241.31,136.66 240.53,136.64 239.76,136.61 238.99,136.58 238.21,136.56 237.44,136.53 236.66,136.51 235.89,136.48 235.11,136.45 234.34,136.43 233.56,136.40 232.79,136.37 232.02,136.35 231.24,136.32 230.47,136.44 229.69,136.55 228.92,136.67 228.14,136.78 227.37,136.90 226.60,137.01 225.82,137.12 225.05,137.24 224.27,137.35 223.50,137.47 222.72,137.58 221.95,137.70 221.18,137.81 220.40,137.93 219.63,137.93 218.85,137.94 218.08,137.94 217.30,137.95 216.53,137.95 215.76,137.96 214.98,138.08 214.21,138.20 213.43,138.32 212.66,138.45 211.88,138.57 211.11,138.69 210.33,138.82 209.56,138.77 208.79,138.21 208.01,137.65 207.24,135.58 206.46,133.51 205.69,131.44 204.91,129.38 204.14,127.31 203.37,125.24 202.59,123.17 201.82,121.10 201.04,116.38 200.27,111.66 199.49,107.01 198.72,102.35 197.95,96.00 197.17,89.65 196.40,83.30 195.62,76.95 194.85,70.37 194.07,63.79 193.30,57.21 192.53,50.62 191.75,49.52 190.98,48.41 190.20,47.30 189.43,46.20 188.65,45.09 187.88,43.98 187.10,42.88 186.33,41.77 185.56,40.66 184.78,39.56" fill="#e6550d" stroke="#e6550d" stroke-width="0.3"/>
<polygon points="184.78,22.95 185.56,24.18 186.33,25.41 187.10,26.64 187.88,27.87 188.65,29.10 189.43,30.33 190.20,31.56 190.98,32.79 191.75,34.02 192.53,35.25 193.30,41.77 194.07,48.29 194.85,54.81 195.62,61.33 196.40,67.61 197.17,73.90 197.95,80.19 198.72,86.48 199.49,91.08 200.27,95.67 201.04,100.42 201.82,105.18 202.59,107.27 203.37,109.37 204.14,111.47 204.91,113.57 205.69,115.67 206.46,117.77 207.24,119.87 208.01,121.97 208.79,122.90 209.56,123.83 210.33,124.24 211.11,124.49 211.88,124.73 212.66,124.98 213.43,125.22 214.21,125.47 214.98,125.72 215.76,125.96 216.53,125.85 217.30,125.75 218.08,125.64 218.85,125.53 219.63,125.42 220.40,125.32 221.18,125.10 221.95,124.88 222.72,124.66 223.50,124.45 224.27,124.23 225.05,124.01 225.82,123.79 226.60,123.58 227.37,123.36 228.14,123.14 228.92,122.92 229.69,122.71 230.47,122.49 231.24,122.27 232.02,122.32 232.79,122.38 233.56,122.43 234.34,122.48 235.11,122.53 235.89,122.58 236.66,122.63 237.44,122.68 238.21,122.73 238.99,122.78 239.76,122.84 240.53,122.89 241.31,122.94 242.08,122.99 242.86,123.04 243.63,123.09 244.41,123.14 245.18,123.19 245.95,123.25 246.73,123.30 247.50,123.39 248.28,123.49 249.05,123.59 249.83,123.69 250.60,123.78 251.37,123.88 252.15,123.98 252.92,124.08 253.70,124.17 254.47,124.27 255.25,124.35 256.02,124.43 256.79,124.43 257.57,124.43 258.34,124.43 259.12,124.43 259.89,124.43 260.67,124.43 261.44,124.43 262.21,124.43 262.99,124.42 263.76,124.42 264.54,124.41 265.31,124.41 266.09,124.40 266.86,124.40 267.64,124.39 268.41,124.39 269.18,124.39 269.96,124.38 270.73,124.38 271.51,124.37 272.28,124.37 273.06,124.36 273.83,124.36 274.60,124.35 275.38,124.35 276.15,124.35 276.93,124.34 277.70,124.34 278.48,124.33 279.25,124.33 280.02,124.32 280.80,124.32 281.57,124.32 282.35,124.31 283.12,124.31 283.90,124.30 284.67,124.30 285.44,124.29 286.22,124.29 286.99,124.28 287.77,124.28 288.54,124.28 289.32,124.27 290.09,124.27 290.87,124.26 291.64,124.26 292.41,124.25 293.19,124.25 293.96,124.24 294.74,124.24 295.51,124.24 296.29,124.23 297.06,124.23 297.83,124.22 298.61,124.22 299.38,124.21 300.16,124.21 300.93,124.21 301.71,124.20 302.48,124.20 303.25,124.19 304.03,124.19 304.80,124.18 305.58,124.18 306.35,124.17 307.13,124.17 307.90,124.17 308.67,124.16 309.45,124.16 310.22,124.15 311.00,124.15 311.77,124.14 312.55,124.14 313.32,124.14 314.10,124.13 314.87,124.13 315.64,124.12 316.42,124.12 316.42,132.11 315.64,132.12 314.87,132.12 314.10,132.13 313.32,132.13 312.55,132.14 311.77,132.14 311.00,132.15 310.22,132.15 309.45,132.16 308.67,132.16 307.90,132.16 307.13,132.17 306.35,132.17 305.58,132.18 304.80,132.18 304.03,132.19 303.25,132.19 302.48,132.20 301.71,132.20 300.93,132.21 300.16,132.21 299.38,132.22 298.61,132.22 297.83,132.23 297.06,132.23 296.29,132.24 295.51,132.24 294.74,132.24 293.96,132.25 293.19,132.25 292.41,132.26 291.64,132.26 290.87,132.27 290.09,132.27 289.32,132.28 288.54,132.28 287.77,132.29 286.99,132.29 286.22,132.30 285.44,132.30 284.67,132.31 283.90,132.31 283.12,132.32 282.35,132.32 281.57,132.33 280.80,132.33 280.02,132.33 279.25,132.34 278.48,132.34 277.70,132.35 276.93,132.35 276.15,132.36 275.38,132.36 274.60,132.37 273.83,132.37 273.06,132.38 272.28,132.38 271.51,132.39 270.73,132.39 269.96,132.40 269.18,132.40 268.41,132.41 267.64,132.41 266.86,132.42 266.09,132.42 265.31,132.42 264.54,132.43 263.76,132.43 262.99,132.44 262.21,132.44 261.44,132.45 260.67,132.45 259.89,132.46 259.12,132.46 258.34,132.47 257.57,132.47 256.79,132.48 256.02,132.48 255.25,132.41 254.47,132.34 253.70,132.27 252.92,132.19 252.15,132.12 251.37,132.05 250.60,131.98 249.83,131.90 249.05,131.83 248.28,131.76 247.50,131.69 246.73,131.62 245.95,131.59 245.18,131.56 244.41,131.54 243.63,131.51 242.86,131.49 242.08,131.46 241.31,131.43 240.53,131.41 239.76,131.38 238.99,131.36 238.21,131.33 237.44,131.30 236.66,131.28 235.89,131.25 235.11,131.23 234.34,131.20 233.56,131.17 232.79,131.15 232.02,131.12 231.24,131.10 230.47,131.21 229.69,131.32 228.92,131.44 228.14,131.55 227.37,131.67 226.60,131.78 225.82,131.90 225.05,132.01 224.27,132.13 223.50,132.24 222.72,132.36 221.95,132.47 221.18,132.58 220.40,132.70 219.63,132.70 218.85,132.71 218.08,132.71 217.30,132.72 216.53,132.72 215.76,132.73 214.98,132.73 214.21,132.73 213.43,132.73 212.66,132.73 211.88,132.73 211.11,132.73 210.33,132.73 209.56,132.56 208.79,131.87 208.01,131.19 207.24,129.00 206.46,126.81 205.69,124.62 204.91,122.43 204.14,120.24 203.37,118.04 202.59,115.85 201.82,113.66 201.04,108.82 200.27,103.98 199.49,99.26 198.72,94.54 197.95,88.12 197.17,81.71 196.40,75.30 195.62,68.89 194.85,62.25 194.07,55.61 193.30,48.96 192.53,42.32 191.75,41.12 190.98,39.92 190.20,38.72 189.43,37.53 188.65,36.33 187.88,35.13 187.10,33.93 186.33,32.73 185.56,31.53 184.78,30.33" fill="#fd8d3c" stroke="#fd8d3c" stroke-width="0.3"/>
<line x1="178.07" x2="322.90" y1="164.40" y2="164.40" stroke="#000" stroke-width="1.3" stroke-dasharray="1.5 2.0"/>
<polyline points="184.78,64.16 185.56,65.32 186.33,66.49 187.10,67.66 187.88,68.83 188.65,70.00 189.43,71.17 190.20,72.33 190.98,73.50 191.75,74.67 192.53,75.84 193.30,82.61 194.07,89.37 194.85,96.14 195.62,102.90 196.40,109.43 197.17,115.97 197.95,122.50 198.72,129.04 199.49,133.88 200.27,138.72 201.04,143.57 201.82,148.41 202.59,150.60 203.37,152.79 204.14,154.98 204.91,157.17 205.69,159.36 206.46,161.56 207.24,163.75 208.01,165.94 208.79,166.43 209.56,166.92 210.33,167.41 211.11,167.91 211.88,168.40 212.66,168.89 213.43,169.38 214.21,169.87 214.98,170.37 215.76,170.86 216.53,170.66 217.30,170.46 218.08,170.26 218.85,170.06 219.63,169.86 220.40,169.66 221.18,169.46 221.95,169.26 222.72,169.06 223.50,168.86 224.27,168.66 225.05,168.46 225.82,168.26 226.60,168.06 227.37,167.86 228.14,167.66 228.92,167.46 229.69,167.26 230.47,167.06 231.24,166.86 232.02,167.01 232.79,167.17 233.56,167.32 234.34,167.47 235.11,167.63 235.89,167.78 236.66,167.94 237.44,168.09 238.21,168.24 238.99,168.40 239.76,168.55 240.53,168.71 241.31,168.86 242.08,169.01 242.86,169.17 243.63,169.32 244.41,169.49 245.18,169.66 245.95,169.83 246.73,170.00 247.50,170.17 248.28,170.34 249.05,170.52 249.83,170.69 250.60,170.86 251.37,171.03 252.15,171.20 252.92,171.37 253.70,171.54 254.47,171.71 255.25,171.88 256.02,172.05 256.79,172.22 257.57,172.40 258.34,172.43 259.12,172.46 259.89,172.50 260.67,172.53 261.44,172.57 262.21,172.60 262.99,172.63 263.76,172.67 264.54,172.70 265.31,172.74 266.09,172.77 266.86,172.81 267.64,172.84 268.41,172.87 269.18,172.91 269.96,172.94 270.73,172.98 271.51,173.01 272.28,173.04 273.06,173.08 273.83,173.11 274.60,173.15 275.38,173.18 276.15,173.22 276.93,173.25 277.70,173.28 278.48,173.32 279.25,173.35 280.02,173.39 280.80,173.42 281.57,173.45 282.35,173.49 283.12,173.52 283.90,173.56 284.67,173.59 285.44,173.62 286.22,173.67 286.99,173.71 287.77,173.75 288.54,173.79 289.32,173.84 290.09,173.88 290.87,173.92 291.64,173.96 292.41,174.01 293.19,174.05 293.96,174.09 294.74,174.13 295.51,174.17 296.29,174.22 297.06,174.26 297.83,174.30 298.61,174.34 299.38,174.39 300.16,174.43 300.93,174.47 301.71,174.51 302.48,174.56 303.25,174.60 304.03,174.64 304.80,174.68 305.58,174.72 306.35,174.77 307.13,174.81 307.90,174.85 308.67,174.89 309.45,174.94 310.22,174.98 311.00,175.02 311.77,175.06 312.55,175.10 313.32,175.15 314.10,175.19 314.87,175.23 315.64,175.27 316.42,175.32" fill="none" stroke="#000" stroke-width="1.9" stroke-linejoin="round"/>
<polyline points="184.78,26.03 185.56,27.25 186.33,28.49 187.10,29.72 187.88,30.95 188.65,32.18 189.43,33.41 190.20,34.64 190.98,35.87 191.75,37.10 192.53,38.33 193.30,44.84 194.07,51.36 194.85,57.88 195.62,64.40 196.40,70.69 197.17,76.98 197.95,83.27 198.72,89.55 199.49,94.15 200.27,98.75 201.04,103.50 201.82,108.25 202.59,110.35 203.37,112.45 204.14,114.55 204.91,116.65 205.69,118.74 206.46,120.84 207.24,122.94 208.01,125.04 208.79,125.78 209.56,126.52 210.33,127.25 211.11,127.99 211.88,128.73 212.66,129.47 213.43,130.21 214.21,130.94 214.98,131.68 215.76,132.42 216.53,132.11 217.30,131.81 218.08,131.50 218.85,131.19 219.63,130.88 220.40,130.58 221.18,130.27 221.95,129.96 222.72,129.65 223.50,129.34 224.27,129.04 225.05,128.73 225.82,128.42 226.60,128.12 227.37,127.81 228.14,127.50 228.92,127.19 229.69,126.88 230.47,126.58 231.24,126.27 232.02,126.44 232.79,126.62 233.56,126.79 234.34,126.97 235.11,127.14 235.89,127.32 236.66,127.49 237.44,127.66 238.21,127.84 238.99,128.01 239.76,128.19 240.53,128.36 241.31,128.54 242.08,128.71 242.86,128.88 243.63,129.06 244.41,129.25 245.18,129.44 245.95,129.63 246.73,129.82 247.50,130.01 248.28,130.21 249.05,130.40 249.83,130.59 250.60,130.78 251.37,130.97 252.15,131.16 252.92,131.35 253.70,131.55 254.47,131.74 255.25,131.91 256.02,132.08 256.79,132.25 257.57,132.42 258.34,132.45 259.12,132.49 259.89,132.52 260.67,132.56 261.44,132.59 262.21,132.62 262.99,132.65 263.76,132.68 264.54,132.71 265.31,132.74 266.09,132.77 266.86,132.80 267.64,132.83 268.41,132.86 269.18,132.89 269.96,132.92 270.73,132.95 271.51,132.98 272.28,133.01 273.06,133.04 273.83,133.07 274.60,133.10 275.38,133.13 276.15,133.16 276.93,133.19 277.70,133.22 278.48,133.25 279.25,133.28 280.02,133.31 280.80,133.34 281.57,133.37 282.35,133.40 283.12,133.43 283.90,133.46 284.67,133.49 285.44,133.52 286.22,133.56 286.99,133.59 287.77,133.63 288.54,133.67 289.32,133.71 290.09,133.75 290.87,133.78 291.64,133.82 292.41,133.86 293.19,133.90 293.96,133.93 294.74,133.97 295.51,134.01 296.29,134.05 297.06,134.09 297.83,134.12 298.61,134.16 299.38,134.20 300.16,134.24 300.93,134.28 301.71,134.31 302.48,134.35 303.25,134.39 304.03,134.43 304.80,134.47 305.58,134.50 306.35,134.54 307.13,134.58 307.90,134.62 308.67,134.65 309.45,134.69 310.22,134.73 311.00,134.77 311.77,134.81 312.55,134.84 313.32,134.88 314.10,134.92 314.87,134.96 315.64,135.00 316.42,135.03" fill="none" stroke="#000" stroke-width="2.5" stroke-dasharray="7.3 6.4" stroke-linejoin="round"/>
<rect x="178.07" y="13.80" width="144.83" height="197.00" fill="none" stroke="#7a7a7a" stroke-width="1.5"/>
<rect x="178.07" y="0.4" width="144.83" height="13.40" fill="#f0f0f0" stroke="#7a7a7a" stroke-width="1.5"/>
<text x="249.88" y="9.45" font-size="7.4" text-anchor="middle" fill="#262626" style="stroke-width:0.08px">RCP2.6+PeatProt</text>
<line x1="192.53" x2="192.53" y1="210.80" y2="213.00" stroke="#666" stroke-width="1"/>
<text x="192.53" y="221.0" font-size="8.6" text-anchor="middle" fill="#1a1a1a">2020</text>
<line x1="223.50" x2="223.50" y1="210.80" y2="213.00" stroke="#666" stroke-width="1"/>
<text x="223.50" y="221.0" font-size="8.6" text-anchor="middle" fill="#1a1a1a">2040</text>
<line x1="254.47" x2="254.47" y1="210.80" y2="213.00" stroke="#666" stroke-width="1"/>
<text x="254.47" y="221.0" font-size="8.6" text-anchor="middle" fill="#1a1a1a">2060</text>
<line x1="285.44" x2="285.44" y1="210.80" y2="213.00" stroke="#666" stroke-width="1"/>
<text x="285.44" y="221.0" font-size="8.6" text-anchor="middle" fill="#1a1a1a">2080</text>
<line x1="316.42" x2="316.42" y1="210.80" y2="213.00" stroke="#666" stroke-width="1"/>
<text x="316.42" y="221.0" font-size="8.6" text-anchor="middle" fill="#1a1a1a">2100</text>
<line x1="327.60" x2="471.55" y1="210.53" y2="210.53" stroke="#ececec" stroke-width="0.7"/>
<line x1="327.60" x2="471.55" y1="195.15" y2="195.15" stroke="#ececec" stroke-width="1.0"/>
<line x1="327.60" x2="471.55" y1="179.78" y2="179.78" stroke="#ececec" stroke-width="0.7"/>
<line x1="327.60" x2="471.55" y1="164.40" y2="164.40" stroke="#ececec" stroke-width="1.0"/>
<line x1="327.60" x2="471.55" y1="149.03" y2="149.03" stroke="#ececec" stroke-width="0.7"/>
<line x1="327.60" x2="471.55" y1="133.65" y2="133.65" stroke="#ececec" stroke-width="1.0"/>
<line x1="327.60" x2="471.55" y1="118.28" y2="118.28" stroke="#ececec" stroke-width="0.7"/>
<line x1="327.60" x2="471.55" y1="102.90" y2="102.90" stroke="#ececec" stroke-width="1.0"/>
<line x1="327.60" x2="471.55" y1="87.53" y2="87.53" stroke="#ececec" stroke-width="0.7"/>
<line x1="327.60" x2="471.55" y1="72.15" y2="72.15" stroke="#ececec" stroke-width="1.0"/>
<line x1="327.60" x2="471.55" y1="56.78" y2="56.78" stroke="#ececec" stroke-width="0.7"/>
<line x1="327.60" x2="471.55" y1="41.40" y2="41.40" stroke="#ececec" stroke-width="1.0"/>
<line x1="327.60" x2="471.55" y1="26.03" y2="26.03" stroke="#ececec" stroke-width="0.7"/>
<polygon points="333.78,61.08 334.56,62.25 335.33,63.42 336.10,64.59 336.88,65.75 337.65,66.92 338.43,68.09 339.20,69.26 339.98,70.43 340.75,71.60 341.53,72.77 342.30,79.53 343.07,86.30 343.85,93.06 344.62,99.83 345.40,106.36 346.17,112.89 346.95,119.43 347.72,125.96 348.49,130.81 349.27,135.65 350.04,140.49 350.82,145.34 351.59,147.53 352.37,149.72 353.14,151.91 353.91,154.10 354.69,156.29 355.46,158.48 356.24,160.67 357.01,162.86 357.79,163.75 358.56,164.40 359.33,164.40 360.11,164.40 360.88,164.40 361.66,164.40 362.43,164.40 363.21,164.40 363.98,164.40 364.76,164.40 365.53,164.40 366.30,164.40 367.08,164.40 367.85,164.40 368.63,164.40 369.40,164.40 370.18,164.40 370.95,164.40 371.72,164.40 372.50,164.40 373.27,164.40 374.05,164.40 374.82,164.40 375.60,164.40 376.37,164.40 377.14,164.40 377.92,164.40 378.69,164.40 379.47,164.40 380.24,164.40 381.02,164.40 381.79,164.40 382.56,164.40 383.34,164.40 384.11,164.40 384.89,164.40 385.66,164.40 386.44,164.40 387.21,164.40 387.99,164.40 388.76,164.40 389.53,164.40 390.31,164.40 391.08,164.40 391.86,164.40 392.63,164.40 393.41,164.40 394.18,164.40 394.95,164.40 395.73,164.40 396.50,164.40 397.28,164.40 398.05,164.40 398.83,164.40 399.60,164.40 400.37,164.40 401.15,164.40 401.92,164.40 402.70,164.40 403.47,164.40 404.25,164.40 405.02,164.40 405.79,164.40 406.57,164.40 407.34,164.40 408.12,164.40 408.89,164.40 409.67,164.40 410.44,164.40 411.21,164.40 411.99,164.40 412.76,164.40 413.54,164.40 414.31,164.40 415.09,164.40 415.86,164.40 416.64,164.40 417.41,164.40 418.18,164.40 418.96,164.40 419.73,164.40 420.51,164.40 421.28,164.40 422.06,164.40 422.83,164.40 423.60,164.40 424.38,164.40 425.15,164.40 425.93,164.40 426.70,164.40 427.48,164.40 428.25,164.40 429.02,164.40 429.80,164.40 430.57,164.40 431.35,164.40 432.12,164.40 432.90,164.40 433.67,164.40 434.44,164.40 435.22,164.40 435.99,164.40 436.77,164.40 437.54,164.40 438.32,164.40 439.09,164.40 439.87,164.40 440.64,164.40 441.41,164.40 442.19,164.40 442.96,164.40 443.74,164.40 444.51,164.40 445.29,164.40 446.06,164.40 446.83,164.40 447.61,164.40 448.38,164.40 449.16,164.40 449.93,164.40 450.71,164.40 451.48,164.40 452.25,164.40 453.03,164.40 453.80,164.40 454.58,164.40 455.35,164.40 456.13,164.40 456.90,164.40 457.67,164.40 458.45,164.40 459.22,164.40 460.00,164.40 460.77,164.40 461.55,164.40 462.32,164.40 463.10,164.40 463.87,164.40 464.64,164.40 465.42,164.40 465.42,164.40 464.64,164.40 463.87,164.40 463.10,164.40 462.32,164.40 461.55,164.40 460.77,164.40 460.00,164.40 459.22,164.40 458.45,164.40 457.67,164.40 456.90,164.40 456.13,164.40 455.35,164.40 454.58,164.40 453.80,164.40 453.03,164.40 452.25,164.40 451.48,164.40 450.71,164.40 449.93,164.40 449.16,164.40 448.38,164.40 447.61,164.40 446.83,164.40 446.06,164.40 445.29,164.40 444.51,164.40 443.74,164.40 442.96,164.40 442.19,164.40 441.41,164.40 440.64,164.40 439.87,164.40 439.09,164.40 438.32,164.40 437.54,164.40 436.77,164.40 435.99,164.40 435.22,164.40 434.44,164.40 433.67,164.40 432.90,164.40 432.12,164.40 431.35,164.40 430.57,164.40 429.80,164.40 429.02,164.40 428.25,164.40 427.48,164.40 426.70,164.40 425.93,164.40 425.15,164.40 424.38,164.40 423.60,164.40 422.83,164.40 422.06,164.40 421.28,164.40 420.51,164.40 419.73,164.40 418.96,164.40 418.18,164.40 417.41,164.40 416.64,164.40 415.86,164.40 415.09,164.40 414.31,164.40 413.54,164.40 412.76,164.40 411.99,164.40 411.21,164.40 410.44,164.40 409.67,164.40 408.89,164.40 408.12,164.40 407.34,164.40 406.57,164.40 405.79,164.40 405.02,164.40 404.25,164.40 403.47,164.40 402.70,164.40 401.92,164.40 401.15,164.40 400.37,164.40 399.60,164.40 398.83,164.40 398.05,164.40 397.28,164.40 396.50,164.40 395.73,164.40 394.95,164.40 394.18,164.40 393.41,164.40 392.63,164.40 391.86,164.40 391.08,164.40 390.31,164.40 389.53,164.40 388.76,164.40 387.99,164.40 387.21,164.40 386.44,164.40 385.66,164.40 384.89,164.40 384.11,164.40 383.34,164.40 382.56,164.40 381.79,164.40 381.02,164.40 380.24,164.40 379.47,164.40 378.69,164.40 377.92,164.40 377.14,164.40 376.37,164.40 375.60,164.40 374.82,164.40 374.05,164.40 373.27,164.40 372.50,164.40 371.72,164.40 370.95,164.40 370.18,164.40 369.40,164.40 368.63,164.40 367.85,164.40 367.08,164.40 366.30,164.40 365.53,164.40 364.76,164.40 363.98,164.40 363.21,164.40 362.43,164.40 361.66,164.40 360.88,164.40 360.11,164.40 359.33,164.40 358.56,164.40 357.79,164.40 357.01,164.40 356.24,164.40 355.46,164.40 354.69,164.40 353.91,164.40 353.14,164.40 352.37,164.40 351.59,164.40 350.82,164.40 350.04,164.40 349.27,164.40 348.49,164.40 347.72,164.40 346.95,164.40 346.17,164.40 345.40,164.40 344.62,164.40 343.85,164.40 343.07,164.40 342.30,164.40 341.53,164.40 340.75,164.40 339.98,164.40 339.20,164.40 338.43,164.40 337.65,164.40 336.88,164.40 336.10,164.40 335.33,164.40 334.56,164.40 333.78,164.40" fill="#07722f" stroke="#07722f" stroke-width="0.3"/>
<polygon points="333.78,164.40 334.56,164.40 335.33,164.40 336.10,164.40 336.88,164.40 337.65,164.40 338.43,164.40 339.20,164.40 339.98,164.40 340.75,164.40 341.53,164.40 342.30,164.40 343.07,164.40 343.85,164.40 344.62,164.40 345.40,164.40 346.17,164.40 346.95,164.40 347.72,164.40 348.49,164.40 349.27,164.40 350.04,164.40 350.82,164.40 351.59,164.40 352.37,164.40 353.14,164.40 353.91,164.40 354.69,164.40 355.46,164.40 356.24,164.40 357.01,164.40 357.79,164.40 358.56,164.40 359.33,164.40 360.11,164.40 360.88,164.40 361.66,164.40 362.43,164.40 363.21,164.40 363.98,164.40 364.76,164.40 365.53,164.40 366.30,164.40 367.08,164.40 367.85,164.40 368.63,164.40 369.40,164.40 370.18,164.40 370.95,164.40 371.72,164.40 372.50,164.40 373.27,164.40 374.05,164.40 374.82,164.40 375.60,164.40 376.37,164.40 377.14,164.40 377.92,164.40 378.69,164.40 379.47,164.40 380.24,164.40 381.02,164.40 381.79,164.40 382.56,164.40 383.34,164.40 384.11,164.40 384.89,164.40 385.66,164.40 386.44,164.40 387.21,164.40 387.99,164.40 388.76,164.40 389.53,164.40 390.31,164.40 391.08,164.40 391.86,164.40 392.63,164.40 393.41,164.40 394.18,164.40 394.95,164.40 395.73,164.40 396.50,164.40 397.28,164.40 398.05,164.40 398.83,164.40 399.60,164.40 400.37,164.40 401.15,164.40 401.92,164.40 402.70,164.40 403.47,164.40 404.25,164.40 405.02,164.40 405.79,164.40 406.57,164.40 407.34,164.40 408.12,164.40 408.89,164.40 409.67,164.40 410.44,164.40 411.21,164.40 411.99,164.40 412.76,164.40 413.54,164.40 414.31,164.40 415.09,164.40 415.86,164.40 416.64,164.40 417.41,164.40 418.18,164.40 418.96,164.40 419.73,164.40 420.51,164.40 421.28,164.40 422.06,164.40 422.83,164.40 423.60,164.40 424.38,164.40 425.15,164.40 425.93,164.40 426.70,164.40 427.48,164.40 428.25,164.40 429.02,164.40 429.80,164.40 430.57,164.40 431.35,164.40 432.12,164.40 432.90,164.40 433.67,164.40 434.44,164.40 435.22,164.40 435.99,164.40 436.77,164.40 437.54,164.40 438.32,164.40 439.09,164.40 439.87,164.40 440.64,164.40 441.41,164.40 442.19,164.40 442.96,164.40 443.74,164.40 444.51,164.40 445.29,164.40 446.06,164.40 446.83,164.40 447.61,164.40 448.38,164.40 449.16,164.40 449.93,164.40 450.71,164.40 451.48,164.40 452.25,164.40 453.03,164.40 453.80,164.40 454.58,164.40 455.35,164.40 456.13,164.40 456.90,164.40 457.67,164.40 458.45,164.40 459.22,164.40 460.00,164.40 460.77,164.40 461.55,164.40 462.32,164.40 463.10,164.40 463.87,164.40 464.64,164.40 465.42,164.40 465.42,176.70 464.64,176.62 463.87,176.55 463.10,176.47 462.32,176.39 461.55,176.32 460.77,176.24 460.00,176.16 459.22,176.09 458.45,176.01 457.67,175.93 456.90,175.85 456.13,175.78 455.35,175.70 454.58,175.62 453.80,175.55 453.03,175.47 452.25,175.39 451.48,175.32 450.71,175.24 449.93,175.16 449.16,175.07 448.38,174.99 447.61,174.90 446.83,174.81 446.06,174.72 445.29,174.64 444.51,174.55 443.74,174.46 442.96,174.37 442.19,174.28 441.41,174.20 440.64,174.11 439.87,174.02 439.09,173.93 438.32,173.88 437.54,173.83 436.77,173.78 435.99,173.73 435.22,173.68 434.44,173.62 433.67,173.57 432.90,173.52 432.12,173.47 431.35,173.42 430.57,173.37 429.80,173.32 429.02,173.30 428.25,173.27 427.48,173.25 426.70,173.23 425.93,173.21 425.15,173.19 424.38,173.16 423.60,173.14 422.83,173.12 422.06,173.10 421.28,173.08 420.51,173.05 419.73,173.03 418.96,173.01 418.18,172.99 417.41,172.98 416.64,172.96 415.86,172.94 415.09,172.92 414.31,172.91 413.54,172.89 412.76,172.87 411.99,172.85 411.21,172.84 410.44,172.82 409.67,172.80 408.89,172.79 408.12,172.77 407.34,172.75 406.57,172.73 405.79,172.72 405.02,172.70 404.25,172.68 403.47,172.66 402.70,172.67 401.92,172.67 401.15,172.67 400.37,172.68 399.60,172.68 398.83,172.68 398.05,172.69 397.28,172.69 396.50,172.69 395.73,172.70 394.95,172.70 394.18,172.70 393.41,172.58 392.63,172.46 391.86,172.34 391.08,172.22 390.31,172.10 389.53,171.99 388.76,171.87 387.99,171.75 387.21,171.63 386.44,171.58 385.66,171.54 384.89,171.49 384.11,171.45 383.34,171.40 382.56,171.36 381.79,171.32 381.02,171.27 380.24,171.23 379.47,171.04 378.69,171.08 377.92,171.12 377.14,171.16 376.37,171.20 375.60,171.24 374.82,171.28 374.05,171.31 373.27,171.35 372.50,171.39 371.72,171.43 370.95,171.47 370.18,171.51 369.40,171.55 368.63,171.59 367.85,171.62 367.08,171.66 366.30,171.70 365.53,171.74 364.76,171.78 363.98,170.89 363.21,170.00 362.43,169.10 361.66,168.21 360.88,167.32 360.11,166.43 359.33,165.54 358.56,164.65 357.79,164.40 357.01,164.40 356.24,164.40 355.46,164.40 354.69,164.40 353.91,164.40 353.14,164.40 352.37,164.40 351.59,164.40 350.82,164.40 350.04,164.40 349.27,164.40 348.49,164.40 347.72,164.40 346.95,164.40 346.17,164.40 345.40,164.40 344.62,164.40 343.85,164.40 343.07,164.40 342.30,164.40 341.53,164.40 340.75,164.40 339.98,164.40 339.20,164.40 338.43,164.40 337.65,164.40 336.88,164.40 336.10,164.40 335.33,164.40 334.56,164.40 333.78,164.40" fill="#07722f" stroke="#07722f" stroke-width="0.3"/>
<polygon points="333.78,61.08 334.56,62.25 335.33,63.42 336.10,64.59 336.88,65.75 337.65,66.92 338.43,68.09 339.20,69.26 339.98,70.43 340.75,71.60 341.53,72.77 342.30,79.53 343.07,86.30 343.85,93.06 344.62,99.83 345.40,106.36 346.17,112.89 346.95,119.43 347.72,125.96 348.49,130.81 349.27,135.65 350.04,140.49 350.82,145.34 351.59,147.53 352.37,149.72 353.14,151.91 353.91,154.10 354.69,156.29 355.46,158.48 356.24,160.67 357.01,162.86 357.79,163.75 358.56,164.40 359.33,164.40 360.11,164.40 360.88,164.40 361.66,164.40 362.43,164.40 363.21,164.40 363.98,164.40 364.76,164.40 365.53,164.40 366.30,164.40 367.08,164.40 367.85,164.40 368.63,164.40 369.40,164.40 370.18,164.40 370.95,164.40 371.72,164.40 372.50,164.40 373.27,164.40 374.05,164.40 374.82,164.40 375.60,164.40 376.37,164.40 377.14,164.40 377.92,164.40 378.69,164.40 379.47,164.40 380.24,164.40 381.02,164.40 381.79,164.40 382.56,164.40 383.34,164.40 384.11,164.40 384.89,164.40 385.66,164.40 386.44,164.40 387.21,164.40 387.99,164.40 388.76,164.40 389.53,164.40 390.31,164.40 391.08,164.40 391.86,164.40 392.63,164.40 393.41,164.40 394.18,164.40 394.95,164.40 395.73,164.40 396.50,164.40 397.28,164.40 398.05,164.40 398.83,164.40 399.60,164.40 400.37,164.40 401.15,164.40 401.92,164.40 402.70,164.40 403.47,164.40 404.25,164.40 405.02,164.40 405.79,164.40 406.57,164.40 407.34,164.40 408.12,164.40 408.89,164.40 409.67,164.40 410.44,164.40 411.21,164.40 411.99,164.40 412.76,164.40 413.54,164.40 414.31,164.40 415.09,164.40 415.86,164.40 416.64,164.40 417.41,164.40 418.18,164.40 418.96,164.40 419.73,164.40 420.51,164.40 421.28,164.40 422.06,164.40 422.83,164.40 423.60,164.40 424.38,164.40 425.15,164.40 425.93,164.40 426.70,164.40 427.48,164.40 428.25,164.40 429.02,164.40 429.80,164.40 430.57,164.40 431.35,164.40 432.12,164.40 432.90,164.40 433.67,164.40 434.44,164.40 435.22,164.40 435.99,164.40 436.77,164.40 437.54,164.40 438.32,164.40 439.09,164.40 439.87,164.40 440.64,164.40 441.41,164.40 442.19,164.40 442.96,164.40 443.74,164.40 444.51,164.40 445.29,164.40 446.06,164.40 446.83,164.40 447.61,164.40 448.38,164.40 449.16,164.40 449.93,164.40 450.71,164.40 451.48,164.40 452.25,164.40 453.03,164.40 453.80,164.40 454.58,164.40 455.35,164.40 456.13,164.40 456.90,164.40 457.67,164.40 458.45,164.40 459.22,164.40 460.00,164.40 460.77,164.40 461.55,164.40 462.32,164.40 463.10,164.40 463.87,164.40 464.64,164.40 465.42,164.40 465.42,164.40 464.64,164.40 463.87,164.40 463.10,164.40 462.32,164.40 461.55,164.40 460.77,164.40 460.00,164.40 459.22,164.40 458.45,164.40 457.67,164.40 456.90,164.40 456.13,164.40 455.35,164.40 454.58,164.40 453.80,164.40 453.03,164.40 452.25,164.40 451.48,164.40 450.71,164.40 449.93,164.40 449.16,164.40 448.38,164.40 447.61,164.40 446.83,164.40 446.06,164.40 445.29,164.40 444.51,164.40 443.74,164.40 442.96,164.40 442.19,164.40 441.41,164.40 440.64,164.40 439.87,164.40 439.09,164.40 438.32,164.40 437.54,164.40 436.77,164.40 435.99,164.40 435.22,164.40 434.44,164.40 433.67,164.40 432.90,164.40 432.12,164.40 431.35,164.40 430.57,164.40 429.80,164.40 429.02,164.40 428.25,164.40 427.48,164.40 426.70,164.40 425.93,164.40 425.15,164.40 424.38,164.40 423.60,164.40 422.83,164.40 422.06,164.40 421.28,164.40 420.51,164.40 419.73,164.40 418.96,164.40 418.18,164.40 417.41,164.40 416.64,164.40 415.86,164.40 415.09,164.40 414.31,164.40 413.54,164.40 412.76,164.40 411.99,164.40 411.21,164.40 410.44,164.40 409.67,164.40 408.89,164.40 408.12,164.40 407.34,164.40 406.57,164.40 405.79,164.40 405.02,164.40 404.25,164.40 403.47,164.40 402.70,164.40 401.92,164.40 401.15,164.40 400.37,164.40 399.60,164.40 398.83,164.40 398.05,164.40 397.28,164.40 396.50,164.40 395.73,164.40 394.95,164.40 394.18,164.40 393.41,164.40 392.63,164.40 391.86,164.40 391.08,164.40 390.31,164.40 389.53,164.40 388.76,164.40 387.99,164.40 387.21,164.40 386.44,164.40 385.66,164.40 384.89,164.40 384.11,164.40 383.34,164.40 382.56,164.40 381.79,164.40 381.02,164.40 380.24,164.40 379.47,164.40 378.69,164.40 377.92,164.40 377.14,164.40 376.37,164.40 375.60,164.40 374.82,164.40 374.05,164.40 373.27,164.40 372.50,164.40 371.72,164.40 370.95,164.40 370.18,164.40 369.40,164.40 368.63,164.40 367.85,164.40 367.08,164.40 366.30,164.40 365.53,164.40 364.76,164.40 363.98,164.40 363.21,164.40 362.43,164.40 361.66,164.40 360.88,164.40 360.11,164.40 359.33,164.40 358.56,164.40 357.79,163.75 357.01,162.86 356.24,160.67 355.46,158.48 354.69,156.29 353.91,154.10 353.14,151.91 352.37,149.72 351.59,147.53 350.82,145.34 350.04,140.49 349.27,135.65 348.49,130.81 347.72,125.96 346.95,119.43 346.17,112.89 345.40,106.36 344.62,99.83 343.85,93.06 343.07,86.30 342.30,79.53 341.53,72.77 340.75,71.60 339.98,70.43 339.20,69.26 338.43,68.09 337.65,66.92 336.88,65.75 336.10,64.59 335.33,63.42 334.56,62.25 333.78,61.08" fill="#31a354" stroke="#31a354" stroke-width="0.3"/>
<polygon points="333.78,164.40 334.56,164.40 335.33,164.40 336.10,164.40 336.88,164.40 337.65,164.40 338.43,164.40 339.20,164.40 339.98,164.40 340.75,164.40 341.53,164.40 342.30,164.40 343.07,164.40 343.85,164.40 344.62,164.40 345.40,164.40 346.17,164.40 346.95,164.40 347.72,164.40 348.49,164.40 349.27,164.40 350.04,164.40 350.82,164.40 351.59,164.40 352.37,164.40 353.14,164.40 353.91,164.40 354.69,164.40 355.46,164.40 356.24,164.40 357.01,164.40 357.79,164.40 358.56,164.65 359.33,165.54 360.11,166.43 360.88,167.32 361.66,168.21 362.43,169.10 363.21,170.00 363.98,170.89 364.76,171.78 365.53,171.74 366.30,171.70 367.08,171.66 367.85,171.62 368.63,171.59 369.40,171.55 370.18,171.51 370.95,171.47 371.72,171.43 372.50,171.39 373.27,171.35 374.05,171.31 374.82,171.28 375.60,171.24 376.37,171.20 377.14,171.16 377.92,171.12 378.69,171.08 379.47,171.04 380.24,171.23 381.02,171.27 381.79,171.32 382.56,171.36 383.34,171.40 384.11,171.45 384.89,171.49 385.66,171.54 386.44,171.58 387.21,171.63 387.99,171.75 388.76,171.87 389.53,171.99 390.31,172.10 391.08,172.22 391.86,172.34 392.63,172.46 393.41,172.58 394.18,172.70 394.95,172.70 395.73,172.70 396.50,172.69 397.28,172.69 398.05,172.69 398.83,172.68 399.60,172.68 400.37,172.68 401.15,172.67 401.92,172.67 402.70,172.67 403.47,172.66 404.25,172.68 405.02,172.70 405.79,172.72 406.57,172.73 407.34,172.75 408.12,172.77 408.89,172.79 409.67,172.80 410.44,172.82 411.21,172.84 411.99,172.85 412.76,172.87 413.54,172.89 414.31,172.91 415.09,172.92 415.86,172.94 416.64,172.96 417.41,172.98 418.18,172.99 418.96,173.01 419.73,173.03 420.51,173.05 421.28,173.08 422.06,173.10 422.83,173.12 423.60,173.14 424.38,173.16 425.15,173.19 425.93,173.21 426.70,173.23 427.48,173.25 428.25,173.27 429.02,173.30 429.80,173.32 430.57,173.37 431.35,173.42 432.12,173.47 432.90,173.52 433.67,173.57 434.44,173.62 435.22,173.68 435.99,173.73 436.77,173.78 437.54,173.83 438.32,173.88 439.09,173.93 439.87,174.02 440.64,174.11 441.41,174.20 442.19,174.28 442.96,174.37 443.74,174.46 444.51,174.55 445.29,174.64 446.06,174.72 446.83,174.81 447.61,174.90 448.38,174.99 449.16,175.07 449.93,175.16 450.71,175.24 451.48,175.32 452.25,175.39 453.03,175.47 453.80,175.55 454.58,175.62 455.35,175.70 456.13,175.78 456.90,175.85 457.67,175.93 458.45,176.01 459.22,176.09 460.00,176.16 460.77,176.24 461.55,176.32 462.32,176.39 463.10,176.47 463.87,176.55 464.64,176.62 465.42,176.70 465.42,176.70 464.64,176.62 463.87,176.55 463.10,176.47 462.32,176.39 461.55,176.32 460.77,176.24 460.00,176.16 459.22,176.09 458.45,176.01 457.67,175.93 456.90,175.85 456.13,175.78 455.35,175.70 454.58,175.62 453.80,175.55 453.03,175.47 452.25,175.39 451.48,175.32 450.71,175.24 449.93,175.16 449.16,175.07 448.38,174.99 447.61,174.90 446.83,174.81 446.06,174.72 445.29,174.64 444.51,174.55 443.74,174.46 442.96,174.37 442.19,174.28 441.41,174.20 440.64,174.11 439.87,174.02 439.09,173.93 438.32,173.88 437.54,173.83 436.77,173.78 435.99,173.73 435.22,173.68 434.44,173.62 433.67,173.57 432.90,173.52 432.12,173.47 431.35,173.42 430.57,173.37 429.80,173.32 429.02,173.30 428.25,173.27 427.48,173.25 426.70,173.23 425.93,173.21 425.15,173.19 424.38,173.16 423.60,173.14 422.83,173.12 422.06,173.10 421.28,173.08 420.51,173.05 419.73,173.03 418.96,173.01 418.18,172.99 417.41,172.98 416.64,172.96 415.86,172.94 415.09,172.92 414.31,172.91 413.54,172.89 412.76,172.87 411.99,172.85 411.21,172.84 410.44,172.82 409.67,172.80 408.89,172.79 408.12,172.77 407.34,172.75 406.57,172.73 405.79,172.72 405.02,172.70 404.25,172.68 403.47,172.66 402.70,172.67 401.92,172.67 401.15,172.67 400.37,172.68 399.60,172.68 398.83,172.68 398.05,172.69 397.28,172.69 396.50,172.69 395.73,172.70 394.95,172.70 394.18,172.70 393.41,172.58 392.63,172.46 391.86,172.34 391.08,172.22 390.31,172.10 389.53,171.99 388.76,171.87 387.99,171.75 387.21,171.63 386.44,171.58 385.66,171.54 384.89,171.49 384.11,171.45 383.34,171.40 382.56,171.36 381.79,171.32 381.02,171.27 380.24,171.23 379.47,171.04 378.69,171.08 377.92,171.12 377.14,171.16 376.37,171.20 375.60,171.24 374.82,171.28 374.05,171.31 373.27,171.35 372.50,171.39 371.72,171.43 370.95,171.47 370.18,171.51 369.40,171.55 368.63,171.59 367.85,171.62 367.08,171.66 366.30,171.70 365.53,171.74 364.76,171.78 363.98,170.89 363.21,170.00 362.43,169.10 361.66,168.21 360.88,167.32 360.11,166.43 359.33,165.54 358.56,164.65 357.79,164.40 357.01,164.40 356.24,164.40 355.46,164.40 354.69,164.40 353.91,164.40 353.14,164.40 352.37,164.40 351.59,164.40 350.82,164.40 350.04,164.40 349.27,164.40 348.49,164.40 347.72,164.40 346.95,164.40 346.17,164.40 345.40,164.40 344.62,164.40 343.85,164.40 343.07,164.40 342.30,164.40 341.53,164.40 340.75,164.40 339.98,164.40 339.20,164.40 338.43,164.40 337.65,164.40 336.88,164.40 336.10,164.40 335.33,164.40 334.56,164.40 333.78,164.40" fill="#31a354" stroke="#31a354" stroke-width="0.3"/>
<polygon points="333.78,61.08 334.56,62.25 335.33,63.42 336.10,64.59 336.88,65.75 337.65,66.92 338.43,68.09 339.20,69.26 339.98,70.43 340.75,71.60 341.53,72.77 342.30,79.53 343.07,86.30 343.85,93.06 344.62,99.83 345.40,106.36 346.17,112.89 346.95,119.43 347.72,125.96 348.49,130.81 349.27,135.65 350.04,140.49 350.82,145.34 351.59,147.53 352.37,149.72 353.14,151.91 353.91,154.10 354.69,156.29 355.46,158.48 356.24,160.67 357.01,162.86 357.79,163.75 358.56,164.40 359.33,164.40 360.11,164.40 360.88,164.40 361.66,164.40 362.43,164.40 363.21,164.40 363.98,164.40 364.76,164.40 365.53,164.40 366.30,164.40 367.08,164.40 367.85,164.40 368.63,164.40 369.40,164.40 370.18,164.40 370.95,164.40 371.72,164.40 372.50,164.40 373.27,164.40 374.05,164.40 374.82,164.40 375.60,164.40 376.37,164.40 377.14,164.40 377.92,164.40 378.69,164.40 379.47,164.40 380.24,164.40 381.02,164.40 381.79,164.40 382.56,164.40 383.34,164.40 384.11,164.40 384.89,164.40 385.66,164.40 386.44,164.40 387.21,164.40 387.99,164.40 388.76,164.40 389.53,164.40 390.31,164.40 391.08,164.40 391.86,164.40 392.63,164.40 393.41,164.40 394.18,164.40 394.95,164.40 395.73,164.40 396.50,164.40 397.28,164.40 398.05,164.40 398.83,164.40 399.60,164.40 400.37,164.40 401.15,164.40 401.92,164.40 402.70,164.40 403.47,164.40 404.25,164.40 405.02,164.40 405.79,164.40 406.57,164.40 407.34,164.40 408.12,164.40 408.89,164.40 409.67,164.40 410.44,164.40 411.21,164.40 411.99,164.40 412.76,164.40 413.54,164.40 414.31,164.40 415.09,164.40 415.86,164.40 416.64,164.40 417.41,164.40 418.18,164.40 418.96,164.40 419.73,164.40 420.51,164.40 421.28,164.40 422.06,164.40 422.83,164.40 423.60,164.40 424.38,164.40 425.15,164.40 425.93,164.40 426.70,164.40 427.48,164.40 428.25,164.40 429.02,164.40 429.80,164.40 430.57,164.40 431.35,164.40 432.12,164.40 432.90,164.40 433.67,164.40 434.44,164.40 435.22,164.40 435.99,164.40 436.77,164.40 437.54,164.40 438.32,164.40 439.09,164.40 439.87,164.40 440.64,164.40 441.41,164.40 442.19,164.40 442.96,164.40 443.74,164.40 444.51,164.40 445.29,164.40 446.06,164.40 446.83,164.40 447.61,164.40 448.38,164.40 449.16,164.40 449.93,164.40 450.71,164.40 451.48,164.40 452.25,164.40 453.03,164.40 453.80,164.40 454.58,164.40 455.35,164.40 456.13,164.40 456.90,164.40 457.67,164.40 458.45,164.40 459.22,164.40 460.00,164.40 460.77,164.40 461.55,164.40 462.32,164.40 463.10,164.40 463.87,164.40 464.64,164.40 465.42,164.40 465.42,164.40 464.64,164.40 463.87,164.40 463.10,164.40 462.32,164.40 461.55,164.40 460.77,164.40 460.00,164.40 459.22,164.40 458.45,164.40 457.67,164.40 456.90,164.40 456.13,164.40 455.35,164.40 454.58,164.40 453.80,164.40 453.03,164.40 452.25,164.40 451.48,164.40 450.71,164.40 449.93,164.40 449.16,164.40 448.38,164.40 447.61,164.40 446.83,164.40 446.06,164.40 445.29,164.40 444.51,164.40 443.74,164.40 442.96,164.40 442.19,164.40 441.41,164.40 440.64,164.40 439.87,164.40 439.09,164.40 438.32,164.40 437.54,164.40 436.77,164.40 435.99,164.40 435.22,164.40 434.44,164.40 433.67,164.40 432.90,164.40 432.12,164.40 431.35,164.40 430.57,164.40 429.80,164.40 429.02,164.40 428.25,164.40 427.48,164.40 426.70,164.40 425.93,164.40 425.15,164.40 424.38,164.40 423.60,164.40 422.83,164.40 422.06,164.40 421.28,164.40 420.51,164.40 419.73,164.40 418.96,164.40 418.18,164.40 417.41,164.40 416.64,164.40 415.86,164.40 415.09,164.40 414.31,164.40 413.54,164.40 412.76,164.40 411.99,164.40 411.21,164.40 410.44,164.40 409.67,164.40 408.89,164.40 408.12,164.40 407.34,164.40 406.57,164.40 405.79,164.40 405.02,164.40 404.25,164.40 403.47,164.40 402.70,164.40 401.92,164.40 401.15,164.40 400.37,164.40 399.60,164.40 398.83,164.40 398.05,164.40 397.28,164.40 396.50,164.40 395.73,164.40 394.95,164.40 394.18,164.40 393.41,164.40 392.63,164.40 391.86,164.40 391.08,164.40 390.31,164.40 389.53,164.40 388.76,164.40 387.99,164.40 387.21,164.40 386.44,164.40 385.66,164.40 384.89,164.40 384.11,164.40 383.34,164.40 382.56,164.40 381.79,164.40 381.02,164.40 380.24,164.40 379.47,164.40 378.69,164.40 377.92,164.40 377.14,164.40 376.37,164.40 375.60,164.40 374.82,164.40 374.05,164.40 373.27,164.40 372.50,164.40 371.72,164.40 370.95,164.40 370.18,164.40 369.40,164.40 368.63,164.40 367.85,164.40 367.08,164.40 366.30,164.40 365.53,164.40 364.76,164.40 363.98,164.40 363.21,164.40 362.43,164.40 361.66,164.40 360.88,164.40 360.11,164.40 359.33,164.40 358.56,164.40 357.79,163.75 357.01,162.86 356.24,160.67 355.46,158.48 354.69,156.29 353.91,154.10 353.14,151.91 352.37,149.72 351.59,147.53 350.82,145.34 350.04,140.49 349.27,135.65 348.49,130.81 347.72,125.96 346.95,119.43 346.17,112.89 345.40,106.36 344.62,99.83 343.85,93.06 343.07,86.30 342.30,79.53 341.53,72.77 340.75,71.60 339.98,70.43 339.20,69.26 338.43,68.09 337.65,66.92 336.88,65.75 336.10,64.59 335.33,63.42 334.56,62.25 333.78,61.08" fill="#74c476" stroke="#74c476" stroke-width="0.3"/>
<polygon points="333.78,164.40 334.56,164.40 335.33,164.40 336.10,164.40 336.88,164.40 337.65,164.40 338.43,164.40 339.20,164.40 339.98,164.40 340.75,164.40 341.53,164.40 342.30,164.40 343.07,164.40 343.85,164.40 344.62,164.40 345.40,164.40 346.17,164.40 346.95,164.40 347.72,164.40 348.49,164.40 349.27,164.40 350.04,164.40 350.82,164.40 351.59,164.40 352.37,164.40 353.14,164.40 353.91,164.40 354.69,164.40 355.46,164.40 356.24,164.40 357.01,164.40 357.79,164.40 358.56,164.65 359.33,165.54 360.11,166.43 360.88,167.32 361.66,168.21 362.43,169.10 363.21,170.00 363.98,170.89 364.76,171.78 365.53,171.74 366.30,171.70 367.08,171.66 367.85,171.62 368.63,171.59 369.40,171.55 370.18,171.51 370.95,171.47 371.72,171.43 372.50,171.39 373.27,171.35 374.05,171.31 374.82,171.28 375.60,171.24 376.37,171.20 377.14,171.16 377.92,171.12 378.69,171.08 379.47,171.04 380.24,171.23 381.02,171.27 381.79,171.32 382.56,171.36 383.34,171.40 384.11,171.45 384.89,171.49 385.66,171.54 386.44,171.58 387.21,171.63 387.99,171.75 388.76,171.87 389.53,171.99 390.31,172.10 391.08,172.22 391.86,172.34 392.63,172.46 393.41,172.58 394.18,172.70 394.95,172.70 395.73,172.70 396.50,172.69 397.28,172.69 398.05,172.69 398.83,172.68 399.60,172.68 400.37,172.68 401.15,172.67 401.92,172.67 402.70,172.67 403.47,172.66 404.25,172.68 405.02,172.70 405.79,172.72 406.57,172.73 407.34,172.75 408.12,172.77 408.89,172.79 409.67,172.80 410.44,172.82 411.21,172.84 411.99,172.85 412.76,172.87 413.54,172.89 414.31,172.91 415.09,172.92 415.86,172.94 416.64,172.96 417.41,172.98 418.18,172.99 418.96,173.01 419.73,173.03 420.51,173.05 421.28,173.08 422.06,173.10 422.83,173.12 423.60,173.14 424.38,173.16 425.15,173.19 425.93,173.21 426.70,173.23 427.48,173.25 428.25,173.27 429.02,173.30 429.80,173.32 430.57,173.37 431.35,173.42 432.12,173.47 432.90,173.52 433.67,173.57 434.44,173.62 435.22,173.68 435.99,173.73 436.77,173.78 437.54,173.83 438.32,173.88 439.09,173.93 439.87,174.02 440.64,174.11 441.41,174.20 442.19,174.28 442.96,174.37 443.74,174.46 444.51,174.55 445.29,174.64 446.06,174.72 446.83,174.81 447.61,174.90 448.38,174.99 449.16,175.07 449.93,175.16 450.71,175.24 451.48,175.32 452.25,175.39 453.03,175.47 453.80,175.55 454.58,175.62 455.35,175.70 456.13,175.78 456.90,175.85 457.67,175.93 458.45,176.01 459.22,176.09 460.00,176.16 460.77,176.24 461.55,176.32 462.32,176.39 463.10,176.47 463.87,176.55 464.64,176.62 465.42,176.70 465.42,201.30 464.64,200.81 463.87,200.32 463.10,199.82 462.32,199.33 461.55,198.84 460.77,198.35 460.00,197.86 459.22,197.36 458.45,196.87 457.67,196.38 456.90,195.89 456.13,195.40 455.35,194.90 454.58,194.41 453.80,193.92 453.03,193.43 452.25,192.94 451.48,192.44 450.71,191.95 449.93,191.46 449.16,190.98 448.38,190.49 447.61,190.01 446.83,189.53 446.06,189.04 445.29,188.56 444.51,188.08 443.74,187.59 442.96,187.11 442.19,186.63 441.41,186.14 440.64,185.66 439.87,185.18 439.09,184.69 438.32,184.36 437.54,184.03 436.77,183.70 435.99,183.36 435.22,183.03 434.44,182.70 433.67,182.36 432.90,182.03 432.12,181.70 431.35,181.36 430.57,181.03 429.80,180.70 429.02,180.50 428.25,180.30 427.48,180.10 426.70,179.91 425.93,179.71 425.15,179.51 424.38,179.31 423.60,179.12 422.83,178.92 422.06,178.72 421.28,178.52 420.51,178.33 419.73,178.13 418.96,177.93 418.18,177.81 417.41,177.68 416.64,177.56 415.86,177.44 415.09,177.31 414.31,177.19 413.54,177.07 412.76,176.95 411.99,176.82 411.21,176.70 410.44,176.58 409.67,176.45 408.89,176.33 408.12,176.21 407.34,176.09 406.57,175.96 405.79,175.84 405.02,175.72 404.25,175.59 403.47,175.47 402.70,175.37 401.92,175.27 401.15,175.16 400.37,175.06 399.60,174.96 398.83,174.86 398.05,174.75 397.28,174.65 396.50,174.55 395.73,174.44 394.95,174.34 394.18,174.24 393.41,174.10 392.63,173.97 391.86,173.83 391.08,173.69 390.31,173.56 389.53,173.42 388.76,173.28 387.99,173.15 387.21,173.01 386.44,172.95 385.66,172.89 384.89,172.83 384.11,172.76 383.34,172.70 382.56,172.64 381.79,172.58 381.02,172.52 380.24,172.46 379.47,172.40 378.69,172.56 377.92,172.72 377.14,172.88 376.37,173.04 375.60,173.20 374.82,173.37 374.05,173.53 373.27,173.69 372.50,173.85 371.72,174.01 370.95,174.18 370.18,174.34 369.40,174.50 368.63,174.66 367.85,174.82 367.08,174.98 366.30,175.15 365.53,175.31 364.76,175.47 363.98,174.52 363.21,173.56 362.43,172.61 361.66,171.66 360.88,170.70 360.11,169.75 359.33,168.80 358.56,167.84 357.79,167.54 357.01,167.47 356.24,167.47 355.46,167.47 354.69,167.47 353.91,167.47 353.14,167.47 352.37,167.47 351.59,167.47 350.82,167.47 350.04,167.47 349.27,167.47 348.49,167.47 347.72,167.47 346.95,167.47 346.17,167.47 345.40,167.47 344.62,167.47 343.85,167.47 343.07,167.47 342.30,167.47 341.53,167.47 340.75,167.47 339.98,167.47 339.20,167.47 338.43,167.47 337.65,167.47 336.88,167.47 336.10,167.47 335.33,167.47 334.56,167.47 333.78,167.47" fill="#74c476" stroke="#74c476" stroke-width="0.3"/>
<polygon points="333.78,39.56 334.56,40.66 335.33,41.77 336.10,42.88 336.88,43.98 337.65,45.09 338.43,46.20 339.20,47.30 339.98,48.41 340.75,49.52 341.53,50.62 342.30,57.91 343.07,65.20 343.85,72.49 344.62,79.78 345.40,86.83 346.17,93.89 346.95,100.95 347.72,108.00 348.49,113.37 349.27,118.74 350.04,123.81 350.82,128.88 351.59,131.31 352.37,133.73 353.14,136.15 353.91,138.57 354.69,140.99 355.46,143.41 356.24,145.83 357.01,148.26 357.79,149.38 358.56,150.25 359.33,150.49 360.11,150.72 360.88,150.95 361.66,151.18 362.43,151.41 363.21,151.64 363.98,151.87 364.76,152.10 365.53,152.17 366.30,152.23 367.08,152.30 367.85,152.37 368.63,152.43 369.40,152.50 370.18,152.57 370.95,152.63 371.72,152.70 372.50,152.77 373.27,152.84 374.05,152.90 374.82,152.97 375.60,153.04 376.37,153.10 377.14,153.17 377.92,153.24 378.69,153.30 379.47,153.37 380.24,153.44 381.02,153.50 381.79,153.57 382.56,153.64 383.34,153.70 384.11,153.77 384.89,153.84 385.66,153.90 386.44,153.97 387.21,154.04 387.99,154.11 388.76,154.17 389.53,154.24 390.31,154.31 391.08,154.37 391.86,154.44 392.63,154.51 393.41,154.57 394.18,154.64 394.95,154.71 395.73,154.77 396.50,154.84 397.28,154.91 398.05,154.97 398.83,155.04 399.60,155.11 400.37,155.18 401.15,155.20 401.92,155.23 402.70,155.25 403.47,155.28 404.25,155.30 405.02,155.33 405.79,155.35 406.57,155.38 407.34,155.41 408.12,155.43 408.89,155.46 409.67,155.48 410.44,155.51 411.21,155.53 411.99,155.56 412.76,155.59 413.54,155.61 414.31,155.64 415.09,155.66 415.86,155.69 416.64,155.71 417.41,155.74 418.18,155.76 418.96,155.79 419.73,155.81 420.51,155.83 421.28,155.85 422.06,155.87 422.83,155.89 423.60,155.91 424.38,155.93 425.15,155.95 425.93,155.97 426.70,156.00 427.48,156.02 428.25,156.04 429.02,156.06 429.80,156.08 430.57,156.10 431.35,156.12 432.12,156.14 432.90,156.16 433.67,156.18 434.44,156.20 435.22,156.22 435.99,156.24 436.77,156.26 437.54,156.28 438.32,156.30 439.09,156.32 439.87,156.34 440.64,156.36 441.41,156.38 442.19,156.41 442.96,156.43 443.74,156.45 444.51,156.47 445.29,156.49 446.06,156.51 446.83,156.53 447.61,156.55 448.38,156.57 449.16,156.59 449.93,156.61 450.71,156.63 451.48,156.65 452.25,156.67 453.03,156.69 453.80,156.71 454.58,156.73 455.35,156.75 456.13,156.77 456.90,156.79 457.67,156.81 458.45,156.84 459.22,156.86 460.00,156.88 460.77,156.90 461.55,156.92 462.32,156.94 463.10,156.96 463.87,156.98 464.64,157.00 465.42,157.02 465.42,164.40 464.64,164.40 463.87,164.40 463.10,164.40 462.32,164.40 461.55,164.40 460.77,164.40 460.00,164.40 459.22,164.40 458.45,164.40 457.67,164.40 456.90,164.40 456.13,164.40 455.35,164.40 454.58,164.40 453.80,164.40 453.03,164.40 452.25,164.40 451.48,164.40 450.71,164.40 449.93,164.40 449.16,164.40 448.38,164.40 447.61,164.40 446.83,164.40 446.06,164.40 445.29,164.40 444.51,164.40 443.74,164.40 442.96,164.40 442.19,164.40 441.41,164.40 440.64,164.40 439.87,164.40 439.09,164.40 438.32,164.40 437.54,164.40 436.77,164.40 435.99,164.40 435.22,164.40 434.44,164.40 433.67,164.40 432.90,164.40 432.12,164.40 431.35,164.40 430.57,164.40 429.80,164.40 429.02,164.40 428.25,164.40 427.48,164.40 426.70,164.40 425.93,164.40 425.15,164.40 424.38,164.40 423.60,164.40 422.83,164.40 422.06,164.40 421.28,164.40 420.51,164.40 419.73,164.40 418.96,164.40 418.18,164.40 417.41,164.40 416.64,164.40 415.86,164.40 415.09,164.40 414.31,164.40 413.54,164.40 412.76,164.40 411.99,164.40 411.21,164.40 410.44,164.40 409.67,164.40 408.89,164.40 408.12,164.40 407.34,164.40 406.57,164.40 405.79,164.40 405.02,164.40 404.25,164.40 403.47,164.40 402.70,164.40 401.92,164.40 401.15,164.40 400.37,164.40 399.60,164.40 398.83,164.40 398.05,164.40 397.28,164.40 396.50,164.40 395.73,164.40 394.95,164.40 394.18,164.40 393.41,164.40 392.63,164.40 391.86,164.40 391.08,164.40 390.31,164.40 389.53,164.40 388.76,164.40 387.99,164.40 387.21,164.40 386.44,164.40 385.66,164.40 384.89,164.40 384.11,164.40 383.34,164.40 382.56,164.40 381.79,164.40 381.02,164.40 380.24,164.40 379.47,164.40 378.69,164.40 377.92,164.40 377.14,164.40 376.37,164.40 375.60,164.40 374.82,164.40 374.05,164.40 373.27,164.40 372.50,164.40 371.72,164.40 370.95,164.40 370.18,164.40 369.40,164.40 368.63,164.40 367.85,164.40 367.08,164.40 366.30,164.40 365.53,164.40 364.76,164.40 363.98,164.40 363.21,164.40 362.43,164.40 361.66,164.40 360.88,164.40 360.11,164.40 359.33,164.40 358.56,164.40 357.79,163.75 357.01,162.86 356.24,160.67 355.46,158.48 354.69,156.29 353.91,154.10 353.14,151.91 352.37,149.72 351.59,147.53 350.82,145.34 350.04,140.49 349.27,135.65 348.49,130.81 347.72,125.96 346.95,119.43 346.17,112.89 345.40,106.36 344.62,99.83 343.85,93.06 343.07,86.30 342.30,79.53 341.53,72.77 340.75,71.60 339.98,70.43 339.20,69.26 338.43,68.09 337.65,66.92 336.88,65.75 336.10,64.59 335.33,63.42 334.56,62.25 333.78,61.08" fill="#a63603" stroke="#a63603" stroke-width="0.3"/>
<polygon points="333.78,30.33 334.56,31.53 335.33,32.73 336.10,33.93 336.88,35.13 337.65,36.33 338.43,37.53 339.20,38.72 339.98,39.92 340.75,41.12 341.53,42.32 342.30,49.76 343.07,57.21 343.85,64.65 344.62,72.09 345.40,79.30 346.17,86.51 346.95,93.72 347.72,100.93 348.49,106.45 349.27,111.97 350.04,117.14 350.82,122.30 351.59,124.82 352.37,127.33 353.14,129.84 353.91,132.36 354.69,134.87 355.46,137.39 356.24,139.90 357.01,142.41 357.79,143.63 358.56,144.60 359.33,144.92 360.11,145.24 360.88,145.57 361.66,145.89 362.43,146.21 363.21,146.53 363.98,146.86 364.76,147.18 365.53,147.23 366.30,147.29 367.08,147.34 367.85,147.39 368.63,147.45 369.40,147.50 370.18,147.55 370.95,147.61 371.72,147.66 372.50,147.71 373.27,147.77 374.05,147.82 374.82,147.88 375.60,147.93 376.37,147.98 377.14,148.04 377.92,148.09 378.69,148.14 379.47,148.20 380.24,148.25 381.02,148.30 381.79,148.36 382.56,148.41 383.34,148.46 384.11,148.52 384.89,148.57 385.66,148.62 386.44,148.68 387.21,148.73 387.99,148.78 388.76,148.84 389.53,148.89 390.31,148.94 391.08,149.00 391.86,149.05 392.63,149.11 393.41,149.16 394.18,149.21 394.95,149.27 395.73,149.32 396.50,149.37 397.28,149.43 398.05,149.48 398.83,149.53 399.60,149.59 400.37,149.64 401.15,149.65 401.92,149.67 402.70,149.68 403.47,149.69 404.25,149.70 405.02,149.72 405.79,149.73 406.57,149.74 407.34,149.76 408.12,149.77 408.89,149.78 409.67,149.79 410.44,149.81 411.21,149.82 411.99,149.83 412.76,149.84 413.54,149.86 414.31,149.87 415.09,149.88 415.86,149.90 416.64,149.91 417.41,149.92 418.18,149.93 418.96,149.95 419.73,150.01 420.51,150.08 421.28,150.15 422.06,150.21 422.83,150.28 423.60,150.35 424.38,150.41 425.15,150.48 425.93,150.55 426.70,150.61 427.48,150.68 428.25,150.75 429.02,150.81 429.80,150.88 430.57,150.95 431.35,151.01 432.12,151.08 432.90,151.15 433.67,151.21 434.44,151.28 435.22,151.35 435.99,151.41 436.77,151.48 437.54,151.55 438.32,151.61 439.09,151.68 439.87,151.75 440.64,151.81 441.41,151.88 442.19,151.95 442.96,152.01 443.74,152.08 444.51,152.15 445.29,152.21 446.06,152.28 446.83,152.35 447.61,152.41 448.38,152.48 449.16,152.55 449.93,152.61 450.71,152.68 451.48,152.75 452.25,152.81 453.03,152.88 453.80,152.95 454.58,153.01 455.35,153.08 456.13,153.15 456.90,153.21 457.67,153.28 458.45,153.35 459.22,153.41 460.00,153.48 460.77,153.55 461.55,153.61 462.32,153.68 463.10,153.75 463.87,153.81 464.64,153.88 465.42,153.94 465.42,157.02 464.64,157.00 463.87,156.98 463.10,156.96 462.32,156.94 461.55,156.92 460.77,156.90 460.00,156.88 459.22,156.86 458.45,156.84 457.67,156.81 456.90,156.79 456.13,156.77 455.35,156.75 454.58,156.73 453.80,156.71 453.03,156.69 452.25,156.67 451.48,156.65 450.71,156.63 449.93,156.61 449.16,156.59 448.38,156.57 447.61,156.55 446.83,156.53 446.06,156.51 445.29,156.49 444.51,156.47 443.74,156.45 442.96,156.43 442.19,156.41 441.41,156.38 440.64,156.36 439.87,156.34 439.09,156.32 438.32,156.30 437.54,156.28 436.77,156.26 435.99,156.24 435.22,156.22 434.44,156.20 433.67,156.18 432.90,156.16 432.12,156.14 431.35,156.12 430.57,156.10 429.80,156.08 429.02,156.06 428.25,156.04 427.48,156.02 426.70,156.00 425.93,155.97 425.15,155.95 424.38,155.93 423.60,155.91 422.83,155.89 422.06,155.87 421.28,155.85 420.51,155.83 419.73,155.81 418.96,155.79 418.18,155.76 417.41,155.74 416.64,155.71 415.86,155.69 415.09,155.66 414.31,155.64 413.54,155.61 412.76,155.59 411.99,155.56 411.21,155.53 410.44,155.51 409.67,155.48 408.89,155.46 408.12,155.43 407.34,155.41 406.57,155.38 405.79,155.35 405.02,155.33 404.25,155.30 403.47,155.28 402.70,155.25 401.92,155.23 401.15,155.20 400.37,155.18 399.60,155.11 398.83,155.04 398.05,154.97 397.28,154.91 396.50,154.84 395.73,154.77 394.95,154.71 394.18,154.64 393.41,154.57 392.63,154.51 391.86,154.44 391.08,154.37 390.31,154.31 389.53,154.24 388.76,154.17 387.99,154.11 387.21,154.04 386.44,153.97 385.66,153.90 384.89,153.84 384.11,153.77 383.34,153.70 382.56,153.64 381.79,153.57 381.02,153.50 380.24,153.44 379.47,153.37 378.69,153.30 377.92,153.24 377.14,153.17 376.37,153.10 375.60,153.04 374.82,152.97 374.05,152.90 373.27,152.84 372.50,152.77 371.72,152.70 370.95,152.63 370.18,152.57 369.40,152.50 368.63,152.43 367.85,152.37 367.08,152.30 366.30,152.23 365.53,152.17 364.76,152.10 363.98,151.87 363.21,151.64 362.43,151.41 361.66,151.18 360.88,150.95 360.11,150.72 359.33,150.49 358.56,150.25 357.79,149.38 357.01,148.26 356.24,145.83 355.46,143.41 354.69,140.99 353.91,138.57 353.14,136.15 352.37,133.73 351.59,131.31 350.82,128.88 350.04,123.81 349.27,118.74 348.49,113.37 347.72,108.00 346.95,100.95 346.17,93.89 345.40,86.83 344.62,79.78 343.85,72.49 343.07,65.20 342.30,57.91 341.53,50.62 340.75,49.52 339.98,48.41 339.20,47.30 338.43,46.20 337.65,45.09 336.88,43.98 336.10,42.88 335.33,41.77 334.56,40.66 333.78,39.56" fill="#e6550d" stroke="#e6550d" stroke-width="0.3"/>
<polygon points="333.78,22.95 334.56,24.18 335.33,25.41 336.10,26.64 336.88,27.87 337.65,29.10 338.43,30.33 339.20,31.56 339.98,32.79 340.75,34.02 341.53,35.25 342.30,42.69 343.07,50.13 343.85,57.57 344.62,65.02 345.40,72.23 346.17,79.44 346.95,86.65 347.72,93.86 348.49,99.38 349.27,104.90 350.04,110.20 350.82,115.51 351.59,118.16 352.37,120.81 353.14,123.46 353.91,126.12 354.69,128.77 355.46,131.42 356.24,134.07 357.01,136.72 357.79,137.96 358.56,138.94 359.33,139.28 360.11,139.62 360.88,139.95 361.66,140.29 362.43,140.63 363.21,140.97 363.98,141.31 364.76,141.65 365.53,141.95 366.30,142.26 367.08,142.57 367.85,142.88 368.63,143.18 369.40,143.49 370.18,143.80 370.95,144.11 371.72,144.26 372.50,144.41 373.27,144.57 374.05,144.72 374.82,144.87 375.60,145.03 376.37,145.18 377.14,145.34 377.92,145.49 378.69,145.64 379.47,145.80 380.24,145.95 381.02,146.10 381.79,146.26 382.56,146.41 383.34,146.56 384.11,146.59 384.89,146.61 385.66,146.64 386.44,146.66 387.21,146.68 387.99,146.71 388.76,146.73 389.53,146.75 390.31,146.78 391.08,146.80 391.86,146.83 392.63,146.85 393.41,146.87 394.18,146.90 394.95,146.92 395.73,146.94 396.50,146.97 397.28,146.99 398.05,147.01 398.83,147.04 399.60,147.06 400.37,147.09 401.15,147.11 401.92,147.13 402.70,147.16 403.47,147.18 404.25,147.18 405.02,147.18 405.79,147.18 406.57,147.18 407.34,147.18 408.12,147.18 408.89,147.18 409.67,147.18 410.44,147.18 411.21,147.18 411.99,147.18 412.76,147.18 413.54,147.18 414.31,147.18 415.09,147.18 415.86,147.18 416.64,147.18 417.41,147.18 418.18,147.18 418.96,147.18 419.73,147.18 420.51,147.18 421.28,147.18 422.06,147.18 422.83,147.18 423.60,147.18 424.38,147.18 425.15,147.18 425.93,147.18 426.70,147.18 427.48,147.18 428.25,147.18 429.02,147.18 429.80,147.18 430.57,147.26 431.35,147.33 432.12,147.41 432.90,147.49 433.67,147.56 434.44,147.64 435.22,147.72 435.99,147.80 436.77,147.87 437.54,147.95 438.32,148.03 439.09,148.10 439.87,148.18 440.64,148.26 441.41,148.33 442.19,148.41 442.96,148.49 443.74,148.56 444.51,148.64 445.29,148.72 446.06,148.79 446.83,148.87 447.61,148.95 448.38,149.03 449.16,149.10 449.93,149.18 450.71,149.26 451.48,149.33 452.25,149.49 453.03,149.64 453.80,149.79 454.58,149.95 455.35,150.10 456.13,150.25 456.90,150.41 457.67,150.56 458.45,150.72 459.22,150.87 460.00,151.02 460.77,151.18 461.55,151.33 462.32,151.49 463.10,151.64 463.87,151.79 464.64,151.95 465.42,152.10 465.42,153.94 464.64,153.88 463.87,153.81 463.10,153.75 462.32,153.68 461.55,153.61 460.77,153.55 460.00,153.48 459.22,153.41 458.45,153.35 457.67,153.28 456.90,153.21 456.13,153.15 455.35,153.08 454.58,153.01 453.80,152.95 453.03,152.88 452.25,152.81 451.48,152.75 450.71,152.68 449.93,152.61 449.16,152.55 448.38,152.48 447.61,152.41 446.83,152.35 446.06,152.28 445.29,152.21 444.51,152.15 443.74,152.08 442.96,152.01 442.19,151.95 441.41,151.88 440.64,151.81 439.87,151.75 439.09,151.68 438.32,151.61 437.54,151.55 436.77,151.48 435.99,151.41 435.22,151.35 434.44,151.28 433.67,151.21 432.90,151.15 432.12,151.08 431.35,151.01 430.57,150.95 429.80,150.88 429.02,150.81 428.25,150.75 427.48,150.68 426.70,150.61 425.93,150.55 425.15,150.48 424.38,150.41 423.60,150.35 422.83,150.28 422.06,150.21 421.28,150.15 420.51,150.08 419.73,150.01 418.96,149.95 418.18,149.93 417.41,149.92 416.64,149.91 415.86,149.90 415.09,149.88 414.31,149.87 413.54,149.86 412.76,149.84 411.99,149.83 411.21,149.82 410.44,149.81 409.67,149.79 408.89,149.78 408.12,149.77 407.34,149.76 406.57,149.74 405.79,149.73 405.02,149.72 404.25,149.70 403.47,149.69 402.70,149.68 401.92,149.67 401.15,149.65 400.37,149.64 399.60,149.59 398.83,149.53 398.05,149.48 397.28,149.43 396.50,149.37 395.73,149.32 394.95,149.27 394.18,149.21 393.41,149.16 392.63,149.11 391.86,149.05 391.08,149.00 390.31,148.94 389.53,148.89 388.76,148.84 387.99,148.78 387.21,148.73 386.44,148.68 385.66,148.62 384.89,148.57 384.11,148.52 383.34,148.46 382.56,148.41 381.79,148.36 381.02,148.30 380.24,148.25 379.47,148.20 378.69,148.14 377.92,148.09 377.14,148.04 376.37,147.98 375.60,147.93 374.82,147.88 374.05,147.82 373.27,147.77 372.50,147.71 371.72,147.66 370.95,147.61 370.18,147.55 369.40,147.50 368.63,147.45 367.85,147.39 367.08,147.34 366.30,147.29 365.53,147.23 364.76,147.18 363.98,146.86 363.21,146.53 362.43,146.21 361.66,145.89 360.88,145.57 360.11,145.24 359.33,144.92 358.56,144.60 357.79,143.63 357.01,142.41 356.24,139.90 355.46,137.39 354.69,134.87 353.91,132.36 353.14,129.84 352.37,127.33 351.59,124.82 350.82,122.30 350.04,117.14 349.27,111.97 348.49,106.45 347.72,100.93 346.95,93.72 346.17,86.51 345.40,79.30 344.62,72.09 343.85,64.65 343.07,57.21 342.30,49.76 341.53,42.32 340.75,41.12 339.98,39.92 339.20,38.72 338.43,37.53 337.65,36.33 336.88,35.13 336.10,33.93 335.33,32.73 334.56,31.53 333.78,30.33" fill="#fd8d3c" stroke="#fd8d3c" stroke-width="0.3"/>
<line x1="327.60" x2="471.55" y1="164.40" y2="164.40" stroke="#000" stroke-width="1.3" stroke-dasharray="1.5 2.0"/>
<polyline points="333.78,64.16 334.56,65.32 335.33,66.49 336.10,67.66 336.88,68.83 337.65,70.00 338.43,71.17 339.20,72.33 339.98,73.50 340.75,74.67 341.53,75.84 342.30,82.61 343.07,89.37 343.85,96.14 344.62,102.90 345.40,109.43 346.17,115.97 346.95,122.50 347.72,129.04 348.49,133.88 349.27,138.72 350.04,143.57 350.82,148.41 351.59,150.60 352.37,152.79 353.14,154.98 353.91,157.17 354.69,159.36 355.46,161.56 356.24,163.75 357.01,165.94 357.79,166.89 358.56,167.84 359.33,168.80 360.11,169.75 360.88,170.70 361.66,171.66 362.43,172.61 363.21,173.56 363.98,174.52 364.76,175.47 365.53,175.31 366.30,175.15 367.08,174.98 367.85,174.82 368.63,174.66 369.40,174.50 370.18,174.34 370.95,174.18 371.72,174.01 372.50,173.85 373.27,173.69 374.05,173.53 374.82,173.37 375.60,173.20 376.37,173.04 377.14,172.88 377.92,172.72 378.69,172.56 379.47,172.40 380.24,172.46 381.02,172.52 381.79,172.58 382.56,172.64 383.34,172.70 384.11,172.76 384.89,172.83 385.66,172.89 386.44,172.95 387.21,173.01 387.99,173.15 388.76,173.28 389.53,173.42 390.31,173.56 391.08,173.69 391.86,173.83 392.63,173.97 393.41,174.10 394.18,174.24 394.95,174.34 395.73,174.44 396.50,174.55 397.28,174.65 398.05,174.75 398.83,174.86 399.60,174.96 400.37,175.06 401.15,175.16 401.92,175.27 402.70,175.37 403.47,175.47 404.25,175.59 405.02,175.72 405.79,175.84 406.57,175.96 407.34,176.09 408.12,176.21 408.89,176.33 409.67,176.45 410.44,176.58 411.21,176.70 411.99,176.82 412.76,176.95 413.54,177.07 414.31,177.19 415.09,177.31 415.86,177.44 416.64,177.56 417.41,177.68 418.18,177.81 418.96,177.93 419.73,178.13 420.51,178.33 421.28,178.52 422.06,178.72 422.83,178.92 423.60,179.12 424.38,179.31 425.15,179.51 425.93,179.71 426.70,179.91 427.48,180.10 428.25,180.30 429.02,180.50 429.80,180.70 430.57,181.03 431.35,181.36 432.12,181.70 432.90,182.03 433.67,182.36 434.44,182.70 435.22,183.03 435.99,183.36 436.77,183.70 437.54,184.03 438.32,184.36 439.09,184.69 439.87,185.18 440.64,185.66 441.41,186.14 442.19,186.63 442.96,187.11 443.74,187.59 444.51,188.08 445.29,188.56 446.06,189.04 446.83,189.53 447.61,190.01 448.38,190.49 449.16,190.98 449.93,191.46 450.71,191.95 451.48,192.44 452.25,192.94 453.03,193.43 453.80,193.92 454.58,194.41 455.35,194.90 456.13,195.40 456.90,195.89 457.67,196.38 458.45,196.87 459.22,197.36 460.00,197.86 460.77,198.35 461.55,198.84 462.32,199.33 463.10,199.82 463.87,200.32 464.64,200.81 465.42,201.30" fill="none" stroke="#000" stroke-width="1.9" stroke-linejoin="round"/>
<polyline points="333.78,26.03 334.56,27.25 335.33,28.49 336.10,29.72 336.88,30.95 337.65,32.18 338.43,33.41 339.20,34.64 339.98,35.87 340.75,37.10 341.53,38.33 342.30,45.77 343.07,53.21 343.85,60.65 344.62,68.09 345.40,75.30 346.17,82.51 346.95,89.72 347.72,96.93 348.49,102.45 349.27,107.97 350.04,113.28 350.82,118.58 351.59,121.23 352.37,123.89 353.14,126.54 353.91,129.19 354.69,131.84 355.46,134.50 356.24,137.15 357.01,139.80 357.79,141.09 358.56,142.38 359.33,143.67 360.11,144.97 360.88,146.26 361.66,147.55 362.43,148.84 363.21,150.13 363.98,151.42 364.76,152.72 365.53,152.86 366.30,153.01 367.08,153.15 367.85,153.30 368.63,153.44 369.40,153.59 370.18,153.73 370.95,153.88 371.72,153.87 372.50,153.86 373.27,153.86 374.05,153.85 374.82,153.84 375.60,153.83 376.37,153.82 377.14,153.82 377.92,153.81 378.69,153.80 379.47,153.79 380.24,154.01 381.02,154.22 381.79,154.44 382.56,154.65 383.34,154.87 384.11,154.95 384.89,155.04 385.66,155.12 386.44,155.21 387.21,155.29 387.99,155.45 388.76,155.61 389.53,155.77 390.31,155.93 391.08,156.09 391.86,156.26 392.63,156.42 393.41,156.58 394.18,156.74 394.95,156.86 395.73,156.99 396.50,157.11 397.28,157.24 398.05,157.37 398.83,157.49 399.60,157.62 400.37,157.75 401.15,157.87 401.92,158.00 402.70,158.12 403.47,158.25 404.25,158.37 405.02,158.50 405.79,158.62 406.57,158.74 407.34,158.87 408.12,158.99 408.89,159.11 409.67,159.23 410.44,159.36 411.21,159.48 411.99,159.60 412.76,159.73 413.54,159.85 414.31,159.97 415.09,160.09 415.86,160.22 416.64,160.34 417.41,160.46 418.18,160.59 418.96,161.33 419.73,161.66 420.51,162.00 421.28,162.33 422.06,162.67 422.83,163.00 423.60,163.34 424.38,163.67 425.15,164.01 425.93,164.34 426.70,164.68 427.48,165.02 428.25,165.39 429.02,165.76 429.80,166.13 430.57,166.50 431.35,166.87 432.12,167.24 432.90,167.61 433.67,167.98 434.44,168.35 435.22,168.72 435.99,169.09 436.77,169.46 437.54,169.83 438.32,170.20 439.09,170.57 439.87,170.94 440.64,171.48 441.41,172.07 442.19,172.66 442.96,173.25 443.74,173.84 444.51,174.42 445.29,175.01 446.06,175.60 446.83,176.19 447.61,176.78 448.38,177.37 449.16,177.96 449.93,178.55 450.71,179.16 451.48,179.78 452.25,180.39 453.03,181.00 453.80,181.62 454.58,182.24 455.35,182.85 456.13,183.47 456.90,184.08 457.67,184.69 458.45,185.31 459.22,185.93 460.00,186.54 460.77,187.16 461.55,187.77 462.32,188.38 463.10,189.00 463.87,189.62 464.64,190.23 465.42,190.84" fill="none" stroke="#000" stroke-width="2.5" stroke-dasharray="7.3 6.4" stroke-linejoin="round"/>
<rect x="327.60" y="13.80" width="143.95" height="197.00" fill="none" stroke="#7a7a7a" stroke-width="1.5"/>
<rect x="327.60" y="0.4" width="143.95" height="13.40" fill="#f0f0f0" stroke="#7a7a7a" stroke-width="1.5"/>
<text x="398.98" y="9.45" font-size="7.4" text-anchor="middle" fill="#262626" style="stroke-width:0.08px">RCP2.6+PeatRestor</text>
<line x1="341.53" x2="341.53" y1="210.80" y2="213.00" stroke="#666" stroke-width="1"/>
<text x="341.53" y="221.0" font-size="8.6" text-anchor="middle" fill="#1a1a1a">2020</text>
<line x1="372.50" x2="372.50" y1="210.80" y2="213.00" stroke="#666" stroke-width="1"/>
<text x="372.50" y="221.0" font-size="8.6" text-anchor="middle" fill="#1a1a1a">2040</text>
<line x1="403.47" x2="403.47" y1="210.80" y2="213.00" stroke="#666" stroke-width="1"/>
<text x="403.47" y="221.0" font-size="8.6" text-anchor="middle" fill="#1a1a1a">2060</text>
<line x1="434.44" x2="434.44" y1="210.80" y2="213.00" stroke="#666" stroke-width="1"/>
<text x="434.44" y="221.0" font-size="8.6" text-anchor="middle" fill="#1a1a1a">2080</text>
<line x1="465.42" x2="465.42" y1="210.80" y2="213.00" stroke="#666" stroke-width="1"/>
<text x="465.42" y="221.0" font-size="8.6" text-anchor="middle" fill="#1a1a1a">2100</text>
<line x1="27" x2="30.05" y1="195.15" y2="195.15" stroke="#666" stroke-width="1"/>
<text x="25" y="198.25" font-size="8.6" text-anchor="end" fill="#1a1a1a">&#8722;1</text>
<line x1="27" x2="30.05" y1="164.40" y2="164.40" stroke="#666" stroke-width="1"/>
<text x="25" y="167.50" font-size="8.6" text-anchor="end" fill="#1a1a1a">0</text>
<line x1="27" x2="30.05" y1="133.65" y2="133.65" stroke="#666" stroke-width="1"/>
<text x="25" y="136.75" font-size="8.6" text-anchor="end" fill="#1a1a1a">1</text>
<line x1="27" x2="30.05" y1="102.90" y2="102.90" stroke="#666" stroke-width="1"/>
<text x="25" y="106.00" font-size="8.6" text-anchor="end" fill="#1a1a1a">2</text>
<line x1="27" x2="30.05" y1="72.15" y2="72.15" stroke="#666" stroke-width="1"/>
<text x="25" y="75.25" font-size="8.6" text-anchor="end" fill="#1a1a1a">3</text>
<line x1="27" x2="30.05" y1="41.40" y2="41.40" stroke="#666" stroke-width="1"/>
<text x="25" y="44.50" font-size="8.6" text-anchor="end" fill="#1a1a1a">4</text>
<text transform="translate(9.8,111.7) rotate(-90)" font-size="9.3" style="stroke-width:0.2px" text-anchor="middle" fill="#1a1a1a">Gt CO<tspan font-size="6" dy="2">2</tspan><tspan dy="-2"> yr</tspan><tspan font-size="6" dy="-3">&#8722;1</tspan></text>
<text x="251" y="232.3" font-size="8.8" text-anchor="middle" fill="#1a1a1a">Year</text>
<text x="46.4" y="254.6" font-size="8.85" font-weight="bold" fill="#000">Emission Source:Climate Zone</text>
<rect x="47.2" y="260.7" width="12.8" height="12.8" fill="#07722f"/>
<text x="64.20" y="270.30" font-size="8.75" fill="#1a1a1a">Vegetation:tropical</text>
<rect x="143.2" y="260.7" width="12.8" height="12.8" fill="#31a354"/>
<text x="160.20" y="270.30" font-size="8.75" fill="#1a1a1a">Vegetation:temperate</text>
<rect x="249.8" y="260.7" width="12.8" height="12.8" fill="#74c476"/>
<text x="266.80" y="270.30" font-size="8.75" fill="#1a1a1a">Vegetation:boreal</text>
<rect x="47.2" y="279.2" width="12.8" height="12.8" fill="#a63603"/>
<text x="64.20" y="288.80" font-size="8.75" fill="#1a1a1a">Peatland:tropical</text>
<rect x="143.2" y="279.2" width="12.8" height="12.8" fill="#e6550d"/>
<text x="160.20" y="288.80" font-size="8.75" fill="#1a1a1a">Peatland:temperate</text>
<rect x="249.8" y="279.2" width="12.8" height="12.8" fill="#fd8d3c"/>
<text x="266.80" y="288.80" font-size="8.75" fill="#1a1a1a">Peatland:boreal</text>
<text x="355.3" y="254.8" font-size="8.75" font-weight="bold" fill="#000">Global Net Emissions</text>
<line x1="355.8" x2="368" y1="267.1" y2="267.1" stroke="#000" stroke-width="1.9"/>
<line x1="355.8" x2="368" y1="288.7" y2="288.7" stroke="#000" stroke-width="1.9" stroke-dasharray="3.6 5"/>
<text x="373.7" y="270.2" font-size="8.75" fill="#1a1a1a">Vegetation only</text>
<text x="373.7" y="291.8" font-size="8.75" fill="#1a1a1a">Vegetation+Peatland</text>
</g></svg></body></html>
